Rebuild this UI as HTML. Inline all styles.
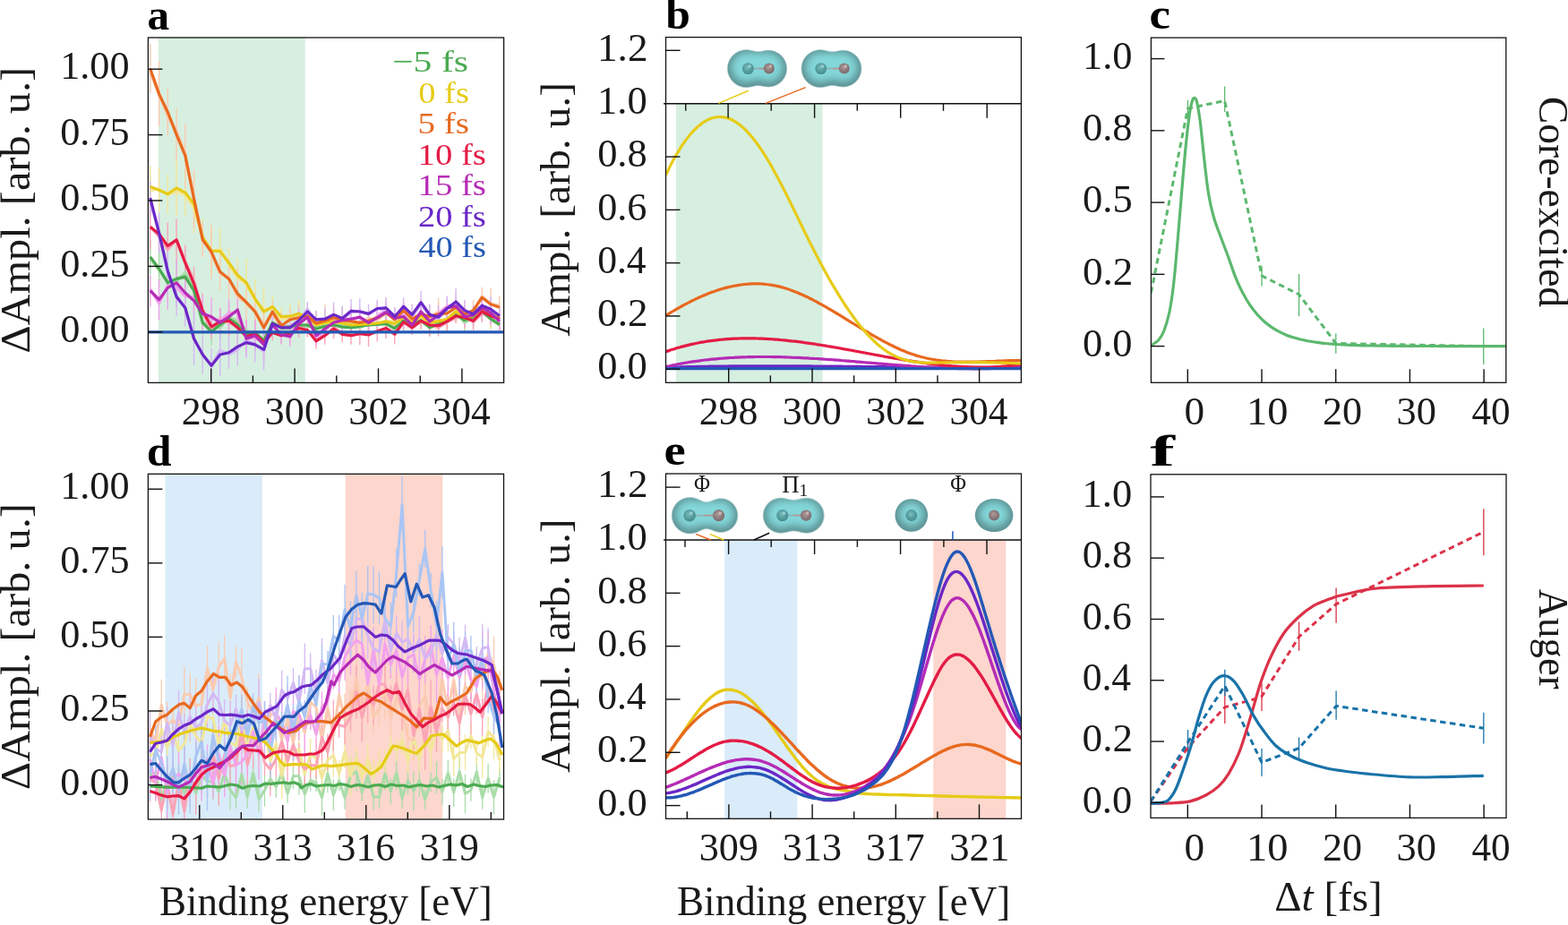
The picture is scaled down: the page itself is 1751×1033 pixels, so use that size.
<!DOCTYPE html><html><head><meta charset="utf-8"><title>Figure</title><style>html,body{margin:0;padding:0;background:#fff;}svg{display:block;}text{font-family:"Liberation Serif", "DejaVu Serif", serif;}</style></head><body>
<svg width="1751" height="1033" viewBox="0 0 1751 1033">
<rect width="100%" height="100%" fill="#fff"/>
<defs>
<clipPath id="ca"><rect x="165.4" y="42.0" width="397.20000000000005" height="385.4"/></clipPath>
<clipPath id="cb"><rect x="743.5" y="41.6" width="396.9000000000001" height="385.7"/></clipPath>
<clipPath id="cc"><rect x="1285.4" y="42.1" width="396.39999999999986" height="385.2"/></clipPath>
<clipPath id="cd"><rect x="165.4" y="529.3" width="397.1" height="385.70000000000005"/></clipPath>
<clipPath id="ce"><rect x="743.5" y="529.0" width="397.0" height="385.29999999999995"/></clipPath>
<clipPath id="cf"><rect x="1285.0" y="529.8" width="397.0" height="383.6"/></clipPath>
<filter id="blur4" x="-30%" y="-30%" width="160%" height="160%"><feGaussianBlur stdDeviation="4"/></filter>
<filter id="blur1" x="-30%" y="-30%" width="160%" height="160%"><feGaussianBlur stdDeviation="0.6"/></filter>
<radialGradient id="atomT" cx="0.45" cy="0.4" r="0.6"><stop offset="0" stop-color="#79bcbc"/><stop offset="0.6" stop-color="#549c9e"/><stop offset="1" stop-color="#478b8d"/></radialGradient>
<radialGradient id="atomB" cx="0.45" cy="0.4" r="0.6"><stop offset="0" stop-color="#b09a9a"/><stop offset="0.6" stop-color="#8c7a7b"/><stop offset="1" stop-color="#7a6b6c"/></radialGradient>
</defs>
<rect x="176.86" y="42.00" width="163.92" height="385.40" fill="#d7efe0"/>
<g clip-path="url(#ca)">
<line x1="167.80" y1="267.92" x2="167.80" y2="305.88" stroke="#a9dca9" stroke-width="1.4" />
<line x1="177.55" y1="280.17" x2="177.55" y2="320.23" stroke="#a9dca9" stroke-width="1.4" />
<line x1="187.30" y1="292.23" x2="187.30" y2="339.37" stroke="#a9dca9" stroke-width="1.4" />
<line x1="197.05" y1="292.29" x2="197.05" y2="330.51" stroke="#a9dca9" stroke-width="1.4" />
<line x1="206.80" y1="289.58" x2="206.80" y2="328.62" stroke="#a9dca9" stroke-width="1.4" />
<line x1="216.55" y1="304.41" x2="216.55" y2="344.99" stroke="#a9dca9" stroke-width="1.4" />
<line x1="226.30" y1="347.30" x2="226.30" y2="373.50" stroke="#a9dca9" stroke-width="1.4" />
<line x1="236.05" y1="354.75" x2="236.05" y2="386.05" stroke="#a9dca9" stroke-width="1.4" />
<line x1="245.80" y1="346.03" x2="245.80" y2="379.17" stroke="#a9dca9" stroke-width="1.4" />
<line x1="255.55" y1="338.07" x2="255.55" y2="373.73" stroke="#a9dca9" stroke-width="1.4" />
<line x1="265.30" y1="350.20" x2="265.30" y2="375.00" stroke="#a9dca9" stroke-width="1.4" />
<line x1="275.05" y1="359.67" x2="275.05" y2="387.73" stroke="#a9dca9" stroke-width="1.4" />
<line x1="284.80" y1="359.13" x2="284.80" y2="383.87" stroke="#a9dca9" stroke-width="1.4" />
<line x1="294.55" y1="362.44" x2="294.55" y2="398.36" stroke="#a9dca9" stroke-width="1.4" />
<line x1="304.30" y1="350.16" x2="304.30" y2="370.64" stroke="#a9dca9" stroke-width="1.4" />
<line x1="314.05" y1="358.70" x2="314.05" y2="373.10" stroke="#a9dca9" stroke-width="1.4" />
<line x1="323.80" y1="353.22" x2="323.80" y2="376.38" stroke="#a9dca9" stroke-width="1.4" />
<line x1="333.55" y1="351.50" x2="333.55" y2="374.50" stroke="#a9dca9" stroke-width="1.4" />
<line x1="343.30" y1="352.95" x2="343.30" y2="373.05" stroke="#a9dca9" stroke-width="1.4" />
<line x1="353.05" y1="357.33" x2="353.05" y2="377.07" stroke="#a9dca9" stroke-width="1.4" />
<line x1="362.80" y1="356.67" x2="362.80" y2="372.13" stroke="#a9dca9" stroke-width="1.4" />
<line x1="372.55" y1="355.93" x2="372.55" y2="370.07" stroke="#a9dca9" stroke-width="1.4" />
<line x1="382.30" y1="355.63" x2="382.30" y2="374.57" stroke="#a9dca9" stroke-width="1.4" />
<line x1="392.05" y1="358.52" x2="392.05" y2="373.08" stroke="#a9dca9" stroke-width="1.4" />
<line x1="401.80" y1="356.51" x2="401.80" y2="372.29" stroke="#a9dca9" stroke-width="1.4" />
<line x1="411.55" y1="354.87" x2="411.55" y2="371.13" stroke="#a9dca9" stroke-width="1.4" />
<line x1="421.30" y1="355.26" x2="421.30" y2="369.54" stroke="#a9dca9" stroke-width="1.4" />
<line x1="431.05" y1="352.53" x2="431.05" y2="370.87" stroke="#a9dca9" stroke-width="1.4" />
<line x1="440.80" y1="357.44" x2="440.80" y2="375.56" stroke="#a9dca9" stroke-width="1.4" />
<line x1="450.55" y1="347.37" x2="450.55" y2="369.23" stroke="#a9dca9" stroke-width="1.4" />
<line x1="460.30" y1="352.98" x2="460.30" y2="371.82" stroke="#a9dca9" stroke-width="1.4" />
<line x1="470.05" y1="347.61" x2="470.05" y2="367.59" stroke="#a9dca9" stroke-width="1.4" />
<line x1="479.80" y1="356.47" x2="479.80" y2="375.13" stroke="#a9dca9" stroke-width="1.4" />
<line x1="489.55" y1="351.61" x2="489.55" y2="371.79" stroke="#a9dca9" stroke-width="1.4" />
<line x1="499.30" y1="348.47" x2="499.30" y2="366.73" stroke="#a9dca9" stroke-width="1.4" />
<line x1="509.05" y1="343.10" x2="509.05" y2="359.70" stroke="#a9dca9" stroke-width="1.4" />
<line x1="518.80" y1="345.94" x2="518.80" y2="369.26" stroke="#a9dca9" stroke-width="1.4" />
<line x1="528.55" y1="342.45" x2="528.55" y2="365.75" stroke="#a9dca9" stroke-width="1.4" />
<line x1="538.30" y1="336.38" x2="538.30" y2="358.22" stroke="#a9dca9" stroke-width="1.4" />
<line x1="548.05" y1="345.90" x2="548.05" y2="366.50" stroke="#a9dca9" stroke-width="1.4" />
<line x1="557.80" y1="353.93" x2="557.80" y2="370.87" stroke="#a9dca9" stroke-width="1.4" />
<line x1="167.80" y1="184.48" x2="167.80" y2="232.52" stroke="#f2e79a" stroke-width="1.4" />
<line x1="177.55" y1="187.35" x2="177.55" y2="237.05" stroke="#f2e79a" stroke-width="1.4" />
<line x1="187.30" y1="194.89" x2="187.30" y2="238.51" stroke="#f2e79a" stroke-width="1.4" />
<line x1="197.05" y1="178.52" x2="197.05" y2="241.48" stroke="#f2e79a" stroke-width="1.4" />
<line x1="206.80" y1="188.71" x2="206.80" y2="241.49" stroke="#f2e79a" stroke-width="1.4" />
<line x1="216.55" y1="195.21" x2="216.55" y2="260.39" stroke="#f2e79a" stroke-width="1.4" />
<line x1="226.30" y1="244.04" x2="226.30" y2="285.96" stroke="#f2e79a" stroke-width="1.4" />
<line x1="236.05" y1="252.89" x2="236.05" y2="307.51" stroke="#f2e79a" stroke-width="1.4" />
<line x1="245.80" y1="254.52" x2="245.80" y2="306.68" stroke="#f2e79a" stroke-width="1.4" />
<line x1="255.55" y1="276.83" x2="255.55" y2="310.17" stroke="#f2e79a" stroke-width="1.4" />
<line x1="265.30" y1="288.30" x2="265.30" y2="326.30" stroke="#f2e79a" stroke-width="1.4" />
<line x1="275.05" y1="289.02" x2="275.05" y2="342.58" stroke="#f2e79a" stroke-width="1.4" />
<line x1="284.80" y1="311.71" x2="284.80" y2="355.49" stroke="#f2e79a" stroke-width="1.4" />
<line x1="294.55" y1="320.54" x2="294.55" y2="375.66" stroke="#f2e79a" stroke-width="1.4" />
<line x1="304.30" y1="329.85" x2="304.30" y2="355.15" stroke="#f2e79a" stroke-width="1.4" />
<line x1="314.05" y1="343.21" x2="314.05" y2="364.19" stroke="#f2e79a" stroke-width="1.4" />
<line x1="323.80" y1="339.00" x2="323.80" y2="367.40" stroke="#f2e79a" stroke-width="1.4" />
<line x1="333.55" y1="335.11" x2="333.55" y2="365.49" stroke="#f2e79a" stroke-width="1.4" />
<line x1="343.30" y1="343.00" x2="343.30" y2="366.60" stroke="#f2e79a" stroke-width="1.4" />
<line x1="353.05" y1="352.42" x2="353.05" y2="373.58" stroke="#f2e79a" stroke-width="1.4" />
<line x1="362.80" y1="348.08" x2="362.80" y2="372.52" stroke="#f2e79a" stroke-width="1.4" />
<line x1="372.55" y1="342.47" x2="372.55" y2="375.33" stroke="#f2e79a" stroke-width="1.4" />
<line x1="382.30" y1="345.95" x2="382.30" y2="376.05" stroke="#f2e79a" stroke-width="1.4" />
<line x1="392.05" y1="352.21" x2="392.05" y2="373.79" stroke="#f2e79a" stroke-width="1.4" />
<line x1="401.80" y1="350.76" x2="401.80" y2="374.04" stroke="#f2e79a" stroke-width="1.4" />
<line x1="411.55" y1="351.03" x2="411.55" y2="372.37" stroke="#f2e79a" stroke-width="1.4" />
<line x1="421.30" y1="350.60" x2="421.30" y2="371.40" stroke="#f2e79a" stroke-width="1.4" />
<line x1="431.05" y1="343.59" x2="431.05" y2="374.21" stroke="#f2e79a" stroke-width="1.4" />
<line x1="440.80" y1="350.52" x2="440.80" y2="372.88" stroke="#f2e79a" stroke-width="1.4" />
<line x1="450.55" y1="340.37" x2="450.55" y2="367.83" stroke="#f2e79a" stroke-width="1.4" />
<line x1="460.30" y1="347.32" x2="460.30" y2="373.28" stroke="#f2e79a" stroke-width="1.4" />
<line x1="470.05" y1="341.53" x2="470.05" y2="364.07" stroke="#f2e79a" stroke-width="1.4" />
<line x1="479.80" y1="345.42" x2="479.80" y2="375.18" stroke="#f2e79a" stroke-width="1.4" />
<line x1="489.55" y1="348.03" x2="489.55" y2="369.77" stroke="#f2e79a" stroke-width="1.4" />
<line x1="499.30" y1="341.91" x2="499.30" y2="370.49" stroke="#f2e79a" stroke-width="1.4" />
<line x1="509.05" y1="337.22" x2="509.05" y2="358.78" stroke="#f2e79a" stroke-width="1.4" />
<line x1="518.80" y1="341.99" x2="518.80" y2="367.61" stroke="#f2e79a" stroke-width="1.4" />
<line x1="528.55" y1="341.38" x2="528.55" y2="364.22" stroke="#f2e79a" stroke-width="1.4" />
<line x1="538.30" y1="333.40" x2="538.30" y2="357.00" stroke="#f2e79a" stroke-width="1.4" />
<line x1="548.05" y1="334.93" x2="548.05" y2="367.87" stroke="#f2e79a" stroke-width="1.4" />
<line x1="557.80" y1="339.44" x2="557.80" y2="370.16" stroke="#f2e79a" stroke-width="1.4" />
<line x1="167.80" y1="49.24" x2="167.80" y2="104.36" stroke="#fbcbb0" stroke-width="1.4" />
<line x1="177.55" y1="68.46" x2="177.55" y2="141.34" stroke="#fbcbb0" stroke-width="1.4" />
<line x1="187.30" y1="99.06" x2="187.30" y2="151.34" stroke="#fbcbb0" stroke-width="1.4" />
<line x1="197.05" y1="121.46" x2="197.05" y2="179.34" stroke="#fbcbb0" stroke-width="1.4" />
<line x1="206.80" y1="137.63" x2="206.80" y2="209.57" stroke="#fbcbb0" stroke-width="1.4" />
<line x1="216.55" y1="189.28" x2="216.55" y2="254.72" stroke="#fbcbb0" stroke-width="1.4" />
<line x1="226.30" y1="248.34" x2="226.30" y2="287.46" stroke="#fbcbb0" stroke-width="1.4" />
<line x1="236.05" y1="250.88" x2="236.05" y2="311.72" stroke="#fbcbb0" stroke-width="1.4" />
<line x1="245.80" y1="282.66" x2="245.80" y2="324.54" stroke="#fbcbb0" stroke-width="1.4" />
<line x1="255.55" y1="289.91" x2="255.55" y2="332.89" stroke="#fbcbb0" stroke-width="1.4" />
<line x1="265.30" y1="300.22" x2="265.30" y2="355.78" stroke="#fbcbb0" stroke-width="1.4" />
<line x1="275.05" y1="315.25" x2="275.05" y2="359.95" stroke="#fbcbb0" stroke-width="1.4" />
<line x1="284.80" y1="326.14" x2="284.80" y2="370.06" stroke="#fbcbb0" stroke-width="1.4" />
<line x1="294.55" y1="346.67" x2="294.55" y2="385.13" stroke="#fbcbb0" stroke-width="1.4" />
<line x1="304.30" y1="336.44" x2="304.30" y2="359.76" stroke="#fbcbb0" stroke-width="1.4" />
<line x1="314.05" y1="348.43" x2="314.05" y2="378.97" stroke="#fbcbb0" stroke-width="1.4" />
<line x1="323.80" y1="344.22" x2="323.80" y2="369.78" stroke="#fbcbb0" stroke-width="1.4" />
<line x1="333.55" y1="339.39" x2="333.55" y2="370.21" stroke="#fbcbb0" stroke-width="1.4" />
<line x1="343.30" y1="339.07" x2="343.30" y2="366.53" stroke="#fbcbb0" stroke-width="1.4" />
<line x1="353.05" y1="346.68" x2="353.05" y2="375.32" stroke="#fbcbb0" stroke-width="1.4" />
<line x1="362.80" y1="340.27" x2="362.80" y2="376.33" stroke="#fbcbb0" stroke-width="1.4" />
<line x1="372.55" y1="340.25" x2="372.55" y2="369.35" stroke="#fbcbb0" stroke-width="1.4" />
<line x1="382.30" y1="342.39" x2="382.30" y2="372.81" stroke="#fbcbb0" stroke-width="1.4" />
<line x1="392.05" y1="341.55" x2="392.05" y2="376.25" stroke="#fbcbb0" stroke-width="1.4" />
<line x1="401.80" y1="347.96" x2="401.80" y2="372.64" stroke="#fbcbb0" stroke-width="1.4" />
<line x1="411.55" y1="346.17" x2="411.55" y2="370.43" stroke="#fbcbb0" stroke-width="1.4" />
<line x1="421.30" y1="337.14" x2="421.30" y2="372.46" stroke="#fbcbb0" stroke-width="1.4" />
<line x1="431.05" y1="332.30" x2="431.05" y2="366.30" stroke="#fbcbb0" stroke-width="1.4" />
<line x1="440.80" y1="344.07" x2="440.80" y2="369.73" stroke="#fbcbb0" stroke-width="1.4" />
<line x1="450.55" y1="334.21" x2="450.55" y2="358.99" stroke="#fbcbb0" stroke-width="1.4" />
<line x1="460.30" y1="339.78" x2="460.30" y2="372.62" stroke="#fbcbb0" stroke-width="1.4" />
<line x1="470.05" y1="332.80" x2="470.05" y2="368.60" stroke="#fbcbb0" stroke-width="1.4" />
<line x1="479.80" y1="341.06" x2="479.80" y2="365.94" stroke="#fbcbb0" stroke-width="1.4" />
<line x1="489.55" y1="332.73" x2="489.55" y2="368.67" stroke="#fbcbb0" stroke-width="1.4" />
<line x1="499.30" y1="332.53" x2="499.30" y2="367.47" stroke="#fbcbb0" stroke-width="1.4" />
<line x1="509.05" y1="327.77" x2="509.05" y2="358.63" stroke="#fbcbb0" stroke-width="1.4" />
<line x1="518.80" y1="336.61" x2="518.80" y2="364.79" stroke="#fbcbb0" stroke-width="1.4" />
<line x1="528.55" y1="334.84" x2="528.55" y2="358.36" stroke="#fbcbb0" stroke-width="1.4" />
<line x1="538.30" y1="320.92" x2="538.30" y2="343.48" stroke="#fbcbb0" stroke-width="1.4" />
<line x1="548.05" y1="321.64" x2="548.05" y2="357.76" stroke="#fbcbb0" stroke-width="1.4" />
<line x1="557.80" y1="330.45" x2="557.80" y2="355.95" stroke="#fbcbb0" stroke-width="1.4" />
<line x1="167.80" y1="229.00" x2="167.80" y2="278.00" stroke="#fba4b6" stroke-width="1.4" />
<line x1="177.55" y1="241.68" x2="177.55" y2="280.72" stroke="#fba4b6" stroke-width="1.4" />
<line x1="187.30" y1="248.78" x2="187.30" y2="300.42" stroke="#fba4b6" stroke-width="1.4" />
<line x1="197.05" y1="244.61" x2="197.05" y2="291.19" stroke="#fba4b6" stroke-width="1.4" />
<line x1="206.80" y1="273.57" x2="206.80" y2="313.43" stroke="#fba4b6" stroke-width="1.4" />
<line x1="216.55" y1="298.28" x2="216.55" y2="335.52" stroke="#fba4b6" stroke-width="1.4" />
<line x1="226.30" y1="327.26" x2="226.30" y2="366.74" stroke="#fba4b6" stroke-width="1.4" />
<line x1="236.05" y1="350.86" x2="236.05" y2="378.74" stroke="#fba4b6" stroke-width="1.4" />
<line x1="245.80" y1="343.84" x2="245.80" y2="374.56" stroke="#fba4b6" stroke-width="1.4" />
<line x1="255.55" y1="339.79" x2="255.55" y2="376.41" stroke="#fba4b6" stroke-width="1.4" />
<line x1="265.30" y1="344.99" x2="265.30" y2="386.81" stroke="#fba4b6" stroke-width="1.4" />
<line x1="275.05" y1="357.21" x2="275.05" y2="394.79" stroke="#fba4b6" stroke-width="1.4" />
<line x1="284.80" y1="356.78" x2="284.80" y2="388.42" stroke="#fba4b6" stroke-width="1.4" />
<line x1="294.55" y1="361.11" x2="294.55" y2="404.09" stroke="#fba4b6" stroke-width="1.4" />
<line x1="304.30" y1="362.41" x2="304.30" y2="380.59" stroke="#fba4b6" stroke-width="1.4" />
<line x1="314.05" y1="366.71" x2="314.05" y2="382.89" stroke="#fba4b6" stroke-width="1.4" />
<line x1="323.80" y1="363.16" x2="323.80" y2="382.04" stroke="#fba4b6" stroke-width="1.4" />
<line x1="333.55" y1="356.12" x2="333.55" y2="376.88" stroke="#fba4b6" stroke-width="1.4" />
<line x1="343.30" y1="360.18" x2="343.30" y2="376.82" stroke="#fba4b6" stroke-width="1.4" />
<line x1="353.05" y1="371.96" x2="353.05" y2="389.84" stroke="#fba4b6" stroke-width="1.4" />
<line x1="362.80" y1="364.73" x2="362.80" y2="384.67" stroke="#fba4b6" stroke-width="1.4" />
<line x1="372.55" y1="356.15" x2="372.55" y2="378.25" stroke="#fba4b6" stroke-width="1.4" />
<line x1="382.30" y1="364.60" x2="382.30" y2="382.00" stroke="#fba4b6" stroke-width="1.4" />
<line x1="392.05" y1="364.77" x2="392.05" y2="384.63" stroke="#fba4b6" stroke-width="1.4" />
<line x1="401.80" y1="359.85" x2="401.80" y2="385.35" stroke="#fba4b6" stroke-width="1.4" />
<line x1="411.55" y1="360.77" x2="411.55" y2="387.23" stroke="#fba4b6" stroke-width="1.4" />
<line x1="421.30" y1="358.40" x2="421.30" y2="381.40" stroke="#fba4b6" stroke-width="1.4" />
<line x1="431.05" y1="354.81" x2="431.05" y2="378.19" stroke="#fba4b6" stroke-width="1.4" />
<line x1="440.80" y1="362.18" x2="440.80" y2="384.42" stroke="#fba4b6" stroke-width="1.4" />
<line x1="450.55" y1="350.85" x2="450.55" y2="368.35" stroke="#fba4b6" stroke-width="1.4" />
<line x1="460.30" y1="357.61" x2="460.30" y2="373.99" stroke="#fba4b6" stroke-width="1.4" />
<line x1="470.05" y1="350.20" x2="470.05" y2="366.40" stroke="#fba4b6" stroke-width="1.4" />
<line x1="479.80" y1="350.15" x2="479.80" y2="375.85" stroke="#fba4b6" stroke-width="1.4" />
<line x1="489.55" y1="351.96" x2="489.55" y2="375.44" stroke="#fba4b6" stroke-width="1.4" />
<line x1="499.30" y1="345.77" x2="499.30" y2="372.03" stroke="#fba4b6" stroke-width="1.4" />
<line x1="509.05" y1="344.69" x2="509.05" y2="360.91" stroke="#fba4b6" stroke-width="1.4" />
<line x1="518.80" y1="343.41" x2="518.80" y2="366.19" stroke="#fba4b6" stroke-width="1.4" />
<line x1="528.55" y1="347.73" x2="528.55" y2="368.87" stroke="#fba4b6" stroke-width="1.4" />
<line x1="538.30" y1="336.10" x2="538.30" y2="359.90" stroke="#fba4b6" stroke-width="1.4" />
<line x1="548.05" y1="343.10" x2="548.05" y2="362.50" stroke="#fba4b6" stroke-width="1.4" />
<line x1="557.80" y1="342.87" x2="557.80" y2="369.53" stroke="#fba4b6" stroke-width="1.4" />
<line x1="167.80" y1="307.20" x2="167.80" y2="342.20" stroke="#f2a2ec" stroke-width="1.4" />
<line x1="177.55" y1="311.97" x2="177.55" y2="357.43" stroke="#f2a2ec" stroke-width="1.4" />
<line x1="187.30" y1="296.54" x2="187.30" y2="346.26" stroke="#f2a2ec" stroke-width="1.4" />
<line x1="197.05" y1="289.13" x2="197.05" y2="342.47" stroke="#f2a2ec" stroke-width="1.4" />
<line x1="206.80" y1="302.14" x2="206.80" y2="351.86" stroke="#f2a2ec" stroke-width="1.4" />
<line x1="216.55" y1="311.41" x2="216.55" y2="360.39" stroke="#f2a2ec" stroke-width="1.4" />
<line x1="226.30" y1="329.92" x2="226.30" y2="370.68" stroke="#f2a2ec" stroke-width="1.4" />
<line x1="236.05" y1="332.23" x2="236.05" y2="375.17" stroke="#f2a2ec" stroke-width="1.4" />
<line x1="245.80" y1="343.94" x2="245.80" y2="376.86" stroke="#f2a2ec" stroke-width="1.4" />
<line x1="255.55" y1="334.28" x2="255.55" y2="373.12" stroke="#f2a2ec" stroke-width="1.4" />
<line x1="265.30" y1="324.56" x2="265.30" y2="367.24" stroke="#f2a2ec" stroke-width="1.4" />
<line x1="275.05" y1="357.12" x2="275.05" y2="399.28" stroke="#f2a2ec" stroke-width="1.4" />
<line x1="284.80" y1="357.76" x2="284.80" y2="391.84" stroke="#f2a2ec" stroke-width="1.4" />
<line x1="294.55" y1="364.54" x2="294.55" y2="405.26" stroke="#f2a2ec" stroke-width="1.4" />
<line x1="304.30" y1="349.99" x2="304.30" y2="375.21" stroke="#f2a2ec" stroke-width="1.4" />
<line x1="314.05" y1="362.65" x2="314.05" y2="384.75" stroke="#f2a2ec" stroke-width="1.4" />
<line x1="323.80" y1="364.67" x2="323.80" y2="387.33" stroke="#f2a2ec" stroke-width="1.4" />
<line x1="333.55" y1="351.96" x2="333.55" y2="372.04" stroke="#f2a2ec" stroke-width="1.4" />
<line x1="343.30" y1="342.99" x2="343.30" y2="365.21" stroke="#f2a2ec" stroke-width="1.4" />
<line x1="353.05" y1="363.45" x2="353.05" y2="385.95" stroke="#f2a2ec" stroke-width="1.4" />
<line x1="362.80" y1="358.77" x2="362.80" y2="375.63" stroke="#f2a2ec" stroke-width="1.4" />
<line x1="372.55" y1="348.89" x2="372.55" y2="371.71" stroke="#f2a2ec" stroke-width="1.4" />
<line x1="382.30" y1="344.30" x2="382.30" y2="370.90" stroke="#f2a2ec" stroke-width="1.4" />
<line x1="392.05" y1="343.51" x2="392.05" y2="368.89" stroke="#f2a2ec" stroke-width="1.4" />
<line x1="401.80" y1="342.22" x2="401.80" y2="365.98" stroke="#f2a2ec" stroke-width="1.4" />
<line x1="411.55" y1="350.23" x2="411.55" y2="370.37" stroke="#f2a2ec" stroke-width="1.4" />
<line x1="421.30" y1="342.88" x2="421.30" y2="366.72" stroke="#f2a2ec" stroke-width="1.4" />
<line x1="431.05" y1="337.60" x2="431.05" y2="359.80" stroke="#f2a2ec" stroke-width="1.4" />
<line x1="440.80" y1="345.15" x2="440.80" y2="365.85" stroke="#f2a2ec" stroke-width="1.4" />
<line x1="450.55" y1="341.03" x2="450.55" y2="365.97" stroke="#f2a2ec" stroke-width="1.4" />
<line x1="460.30" y1="354.55" x2="460.30" y2="371.45" stroke="#f2a2ec" stroke-width="1.4" />
<line x1="470.05" y1="336.00" x2="470.05" y2="360.00" stroke="#f2a2ec" stroke-width="1.4" />
<line x1="479.80" y1="350.74" x2="479.80" y2="367.06" stroke="#f2a2ec" stroke-width="1.4" />
<line x1="489.55" y1="340.89" x2="489.55" y2="363.31" stroke="#f2a2ec" stroke-width="1.4" />
<line x1="499.30" y1="333.33" x2="499.30" y2="354.47" stroke="#f2a2ec" stroke-width="1.4" />
<line x1="509.05" y1="332.57" x2="509.05" y2="351.03" stroke="#f2a2ec" stroke-width="1.4" />
<line x1="518.80" y1="341.78" x2="518.80" y2="365.22" stroke="#f2a2ec" stroke-width="1.4" />
<line x1="528.55" y1="341.45" x2="528.55" y2="362.75" stroke="#f2a2ec" stroke-width="1.4" />
<line x1="538.30" y1="332.62" x2="538.30" y2="355.18" stroke="#f2a2ec" stroke-width="1.4" />
<line x1="548.05" y1="336.39" x2="548.05" y2="362.21" stroke="#f2a2ec" stroke-width="1.4" />
<line x1="557.80" y1="349.54" x2="557.80" y2="368.26" stroke="#f2a2ec" stroke-width="1.4" />
<line x1="167.80" y1="202.31" x2="167.80" y2="240.09" stroke="#d4b9f4" stroke-width="1.4" />
<line x1="177.55" y1="237.59" x2="177.55" y2="282.61" stroke="#d4b9f4" stroke-width="1.4" />
<line x1="187.30" y1="275.17" x2="187.30" y2="329.63" stroke="#d4b9f4" stroke-width="1.4" />
<line x1="197.05" y1="310.12" x2="197.05" y2="352.68" stroke="#d4b9f4" stroke-width="1.4" />
<line x1="206.80" y1="322.83" x2="206.80" y2="364.57" stroke="#d4b9f4" stroke-width="1.4" />
<line x1="216.55" y1="348.13" x2="216.55" y2="408.27" stroke="#d4b9f4" stroke-width="1.4" />
<line x1="226.30" y1="374.40" x2="226.30" y2="417.60" stroke="#d4b9f4" stroke-width="1.4" />
<line x1="236.05" y1="388.78" x2="236.05" y2="427.62" stroke="#d4b9f4" stroke-width="1.4" />
<line x1="245.80" y1="372.08" x2="245.80" y2="419.92" stroke="#d4b9f4" stroke-width="1.4" />
<line x1="255.55" y1="375.53" x2="255.55" y2="412.07" stroke="#d4b9f4" stroke-width="1.4" />
<line x1="265.30" y1="365.44" x2="265.30" y2="408.76" stroke="#d4b9f4" stroke-width="1.4" />
<line x1="275.05" y1="365.61" x2="275.05" y2="399.59" stroke="#d4b9f4" stroke-width="1.4" />
<line x1="284.80" y1="365.59" x2="284.80" y2="404.21" stroke="#d4b9f4" stroke-width="1.4" />
<line x1="294.55" y1="367.34" x2="294.55" y2="413.46" stroke="#d4b9f4" stroke-width="1.4" />
<line x1="304.30" y1="347.01" x2="304.30" y2="375.99" stroke="#d4b9f4" stroke-width="1.4" />
<line x1="314.05" y1="351.62" x2="314.05" y2="380.18" stroke="#d4b9f4" stroke-width="1.4" />
<line x1="323.80" y1="354.59" x2="323.80" y2="377.21" stroke="#d4b9f4" stroke-width="1.4" />
<line x1="333.55" y1="345.50" x2="333.55" y2="370.50" stroke="#d4b9f4" stroke-width="1.4" />
<line x1="343.30" y1="337.10" x2="343.30" y2="358.90" stroke="#d4b9f4" stroke-width="1.4" />
<line x1="353.05" y1="347.08" x2="353.05" y2="366.72" stroke="#d4b9f4" stroke-width="1.4" />
<line x1="362.80" y1="344.22" x2="362.80" y2="368.18" stroke="#d4b9f4" stroke-width="1.4" />
<line x1="372.55" y1="337.38" x2="372.55" y2="365.42" stroke="#d4b9f4" stroke-width="1.4" />
<line x1="382.30" y1="341.41" x2="382.30" y2="369.59" stroke="#d4b9f4" stroke-width="1.4" />
<line x1="392.05" y1="334.03" x2="392.05" y2="360.57" stroke="#d4b9f4" stroke-width="1.4" />
<line x1="401.80" y1="333.30" x2="401.80" y2="362.70" stroke="#d4b9f4" stroke-width="1.4" />
<line x1="411.55" y1="339.74" x2="411.55" y2="361.06" stroke="#d4b9f4" stroke-width="1.4" />
<line x1="421.30" y1="334.49" x2="421.30" y2="354.51" stroke="#d4b9f4" stroke-width="1.4" />
<line x1="431.05" y1="332.20" x2="431.05" y2="355.60" stroke="#d4b9f4" stroke-width="1.4" />
<line x1="440.80" y1="342.85" x2="440.80" y2="364.15" stroke="#d4b9f4" stroke-width="1.4" />
<line x1="450.55" y1="332.22" x2="450.55" y2="352.78" stroke="#d4b9f4" stroke-width="1.4" />
<line x1="460.30" y1="339.92" x2="460.30" y2="362.88" stroke="#d4b9f4" stroke-width="1.4" />
<line x1="470.05" y1="324.95" x2="470.05" y2="350.45" stroke="#d4b9f4" stroke-width="1.4" />
<line x1="479.80" y1="339.44" x2="479.80" y2="363.36" stroke="#d4b9f4" stroke-width="1.4" />
<line x1="489.55" y1="343.21" x2="489.55" y2="364.99" stroke="#d4b9f4" stroke-width="1.4" />
<line x1="499.30" y1="330.47" x2="499.30" y2="358.53" stroke="#d4b9f4" stroke-width="1.4" />
<line x1="509.05" y1="322.11" x2="509.05" y2="351.89" stroke="#d4b9f4" stroke-width="1.4" />
<line x1="518.80" y1="334.89" x2="518.80" y2="358.31" stroke="#d4b9f4" stroke-width="1.4" />
<line x1="528.55" y1="341.25" x2="528.55" y2="360.15" stroke="#d4b9f4" stroke-width="1.4" />
<line x1="538.30" y1="331.91" x2="538.30" y2="350.29" stroke="#d4b9f4" stroke-width="1.4" />
<line x1="548.05" y1="330.96" x2="548.05" y2="359.44" stroke="#d4b9f4" stroke-width="1.4" />
<line x1="557.80" y1="343.55" x2="557.80" y2="362.05" stroke="#d4b9f4" stroke-width="1.4" />
<polyline points="167.8,289.0 177.6,300.9 187.3,313.9 197.1,314.3 206.8,304.3 216.6,321.1 226.3,359.9 236.1,365.6 245.8,365.9 255.6,353.3 265.3,359.0 275.1,369.2 284.8,372.8 294.6,379.9 304.3,361.2 314.1,366.8 323.8,366.6 333.6,365.8 343.3,364.1 353.1,365.4 362.8,364.3 372.6,361.1 382.3,362.2 392.1,365.6 401.8,365.7 411.6,361.1 421.3,361.0 431.1,360.8 440.8,367.7 450.6,358.4 460.3,363.1 470.1,359.1 479.8,365.2 489.6,363.5 499.3,360.0 509.1,348.9 518.8,360.2 528.5,355.4 538.3,345.1 548.0,355.9 557.8,363.2" fill="none" stroke="#a9dca9" stroke-width="3.2" stroke-linejoin="round" stroke-linecap="butt" />
<polyline points="167.8,212.6 177.6,211.0 187.3,217.4 197.1,213.8 206.8,218.1 216.6,232.2 226.3,264.6 236.1,281.7 245.8,277.6 255.6,295.7 265.3,310.5 275.1,317.2 284.8,335.8 294.6,345.2 304.3,344.9 314.1,356.6 323.8,356.1 333.6,350.5 343.3,356.5 353.1,361.9 362.8,362.8 372.6,361.0 382.3,360.1 392.1,360.5 401.8,362.0 411.6,362.0 421.3,362.6 431.1,358.8 440.8,358.9 450.6,356.0 460.3,357.7 470.1,354.6 479.8,358.3 489.6,357.9 499.3,357.9 509.1,345.8 518.8,352.7 528.5,352.9 538.3,346.5 548.0,353.4 557.8,355.9" fill="none" stroke="#f2e79a" stroke-width="3.2" stroke-linejoin="round" stroke-linecap="butt" />
<polyline points="167.8,81.3 177.6,104.8 187.3,129.7 197.1,146.3 206.8,170.8 216.6,222.3 226.3,265.8 236.1,283.6 245.8,305.0 255.6,311.6 265.3,331.4 275.1,338.2 284.8,346.2 294.6,364.7 304.3,350.2 314.1,366.1 323.8,355.2 333.6,356.9 343.3,355.6 353.1,361.1 362.8,358.7 372.6,353.0 382.3,357.8 392.1,358.9 401.8,360.9 411.6,355.5 421.3,357.6 431.1,349.4 440.8,356.3 450.6,348.4 460.3,356.6 470.1,350.6 479.8,354.6 489.6,348.1 499.3,350.2 509.1,342.7 518.8,353.4 528.5,349.1 538.3,330.8 548.0,339.5 557.8,341.0" fill="none" stroke="#fbcbb0" stroke-width="3.2" stroke-linejoin="round" stroke-linecap="butt" />
<polyline points="167.8,252.8 177.6,264.4 187.3,278.6 197.1,267.7 206.8,291.7 216.6,313.8 226.3,348.2 236.1,369.1 245.8,355.5 255.6,360.9 265.3,361.1 275.1,372.9 284.8,369.9 294.6,384.5 304.3,370.4 314.1,373.9 323.8,373.3 333.6,364.1 343.3,369.9 353.1,378.6 362.8,374.8 372.6,365.7 382.3,371.5 392.1,374.9 401.8,372.2 411.6,373.3 421.3,369.4 431.1,366.7 440.8,371.3 450.6,357.8 460.3,366.6 470.1,359.1 479.8,363.2 489.6,365.8 499.3,359.6 509.1,354.9 518.8,353.2 528.5,359.7 538.3,349.9 548.0,355.2 557.8,355.1" fill="none" stroke="#fba4b6" stroke-width="3.2" stroke-linejoin="round" stroke-linecap="butt" />
<polyline points="167.8,322.8 177.6,338.9 187.3,318.6 197.1,320.8 206.8,330.9 216.6,332.2 226.3,347.7 236.1,356.0 245.8,358.0 255.6,349.7 265.3,349.2 275.1,377.4 284.8,377.7 294.6,381.2 304.3,362.0 314.1,374.8 323.8,373.1 333.6,360.2 343.3,355.2 353.1,377.2 362.8,370.0 372.6,358.0 382.3,357.6 392.1,357.7 401.8,354.1 411.6,361.4 421.3,352.9 431.1,346.1 440.8,353.1 450.6,350.7 460.3,363.3 470.1,348.1 479.8,359.3 489.6,350.0 499.3,342.0 509.1,340.0 518.8,355.5 528.5,355.0 538.3,346.5 548.0,346.9 557.8,356.3" fill="none" stroke="#f2a2ec" stroke-width="3.2" stroke-linejoin="round" stroke-linecap="butt" />
<polyline points="167.8,225.7 177.6,259.7 187.3,305.0 197.1,329.7 206.8,343.4 216.6,378.4 226.3,395.3 236.1,409.2 245.8,391.1 255.6,395.8 265.3,390.5 275.1,379.4 284.8,384.4 294.6,392.8 304.3,360.9 314.1,364.1 323.8,363.9 333.6,358.1 343.3,345.1 353.1,359.3 362.8,358.0 372.6,352.6 382.3,357.7 392.1,348.1 401.8,347.4 411.6,351.0 421.3,344.5 431.1,346.8 440.8,355.3 450.6,341.0 460.3,353.9 470.1,339.2 479.8,353.1 489.6,356.0 499.3,343.9 509.1,339.4 518.8,348.9 528.5,351.9 538.3,342.7 548.0,346.8 557.8,352.2" fill="none" stroke="#d4b9f4" stroke-width="3.2" stroke-linejoin="round" stroke-linecap="butt" />
<polyline points="167.8,286.9 177.6,300.2 187.3,315.8 197.1,311.4 206.8,309.1 216.6,324.7 226.3,360.4 236.1,370.4 245.8,362.6 255.6,355.9 265.3,362.6 275.1,373.7 284.8,371.5 294.6,380.4 304.3,360.4 314.1,365.9 323.8,364.8 333.6,363.0 343.3,363.0 353.1,367.2 362.8,364.4 372.6,363.0 382.3,365.1 392.1,365.8 401.8,364.4 411.6,363.0 421.3,362.4 431.1,361.7 440.8,366.5 450.6,358.3 460.3,362.4 470.1,357.6 479.8,365.8 489.6,361.7 499.3,357.6 509.1,351.4 518.8,357.6 528.5,354.1 538.3,347.3 548.0,356.2 557.8,362.4" fill="none" stroke="#4aaa50" stroke-width="3.2" stroke-linejoin="round" stroke-linecap="butt" />
<polyline points="167.8,208.5 177.6,212.2 187.3,216.7 197.1,210.0 206.8,215.1 216.6,227.8 226.3,265.0 236.1,280.2 245.8,280.6 255.6,293.5 265.3,307.3 275.1,315.8 284.8,333.6 294.6,348.1 304.3,342.5 314.1,353.7 323.8,353.2 333.6,350.3 343.3,354.8 353.1,363.0 362.8,360.3 372.6,358.9 382.3,361.0 392.1,363.0 401.8,362.4 411.6,361.7 421.3,361.0 431.1,358.9 440.8,361.7 450.6,354.1 460.3,360.3 470.1,352.8 479.8,360.3 489.6,358.9 499.3,356.2 509.1,348.0 518.8,354.8 528.5,352.8 538.3,345.2 548.0,351.4 557.8,354.8" fill="none" stroke="#e6cb17" stroke-width="3.2" stroke-linejoin="round" stroke-linecap="butt" />
<polyline points="167.8,76.8 177.6,104.9 187.3,125.2 197.1,150.4 206.8,173.6 216.6,222.0 226.3,267.9 236.1,281.3 245.8,303.6 255.6,311.4 265.3,328.0 275.1,337.6 284.8,348.1 294.6,365.9 304.3,348.1 314.1,363.7 323.8,357.0 333.6,354.8 343.3,352.8 353.1,361.0 362.8,358.3 372.6,354.8 382.3,357.6 392.1,358.9 401.8,360.3 411.6,358.3 421.3,354.8 431.1,349.3 440.8,356.9 450.6,346.6 460.3,356.2 470.1,350.7 479.8,353.5 489.6,350.7 499.3,350.0 509.1,343.2 518.8,350.7 528.5,346.6 538.3,332.2 548.0,339.7 557.8,343.2" fill="none" stroke="#e8691f" stroke-width="3.2" stroke-linejoin="round" stroke-linecap="butt" />
<polyline points="167.8,253.5 177.6,261.2 187.3,274.6 197.1,267.9 206.8,293.5 216.6,316.9 226.3,347.0 236.1,364.8 245.8,359.2 255.6,358.1 265.3,365.9 275.1,376.0 284.8,372.6 294.6,382.6 304.3,371.5 314.1,374.8 323.8,372.6 333.6,366.5 343.3,368.5 353.1,380.9 362.8,374.7 372.6,367.2 382.3,373.3 392.1,374.7 401.8,372.6 411.6,374.0 421.3,369.9 431.1,366.5 440.8,373.3 450.6,359.6 460.3,365.8 470.1,358.3 479.8,363.0 489.6,363.7 499.3,358.9 509.1,352.8 518.8,354.8 528.5,358.3 538.3,348.0 548.0,352.8 557.8,356.2" fill="none" stroke="#e41b45" stroke-width="3.2" stroke-linejoin="round" stroke-linecap="butt" />
<polyline points="167.8,324.7 177.6,334.7 187.3,321.4 197.1,315.8 206.8,327.0 216.6,335.9 226.3,350.3 236.1,353.7 245.8,360.4 255.6,353.7 265.3,345.9 275.1,378.2 284.8,374.8 294.6,384.9 304.3,362.6 314.1,373.7 323.8,376.0 333.6,362.0 343.3,354.1 353.1,374.7 362.8,367.2 372.6,360.3 382.3,357.6 392.1,356.2 401.8,354.1 411.6,360.3 421.3,354.8 431.1,348.7 440.8,355.5 450.6,353.5 460.3,363.0 470.1,348.0 479.8,358.9 489.6,352.1 499.3,343.9 509.1,341.8 518.8,353.5 528.5,352.1 538.3,343.9 548.0,349.3 557.8,358.9" fill="none" stroke="#b52bb5" stroke-width="3.2" stroke-linejoin="round" stroke-linecap="butt" />
<polyline points="167.8,221.2 177.6,260.1 187.3,302.4 197.1,331.4 206.8,343.7 216.6,378.2 226.3,396.0 236.1,408.2 245.8,396.0 255.6,393.8 265.3,387.1 275.1,382.6 284.8,384.9 294.6,390.4 304.3,361.5 314.1,365.9 323.8,365.9 333.6,358.0 343.3,348.0 353.1,356.9 362.8,356.2 372.6,351.4 382.3,355.5 392.1,347.3 401.8,348.0 411.6,350.4 421.3,344.5 431.1,343.9 440.8,353.5 450.6,342.5 460.3,351.4 470.1,337.7 479.8,351.4 489.6,354.1 499.3,344.5 509.1,337.0 518.8,346.6 528.5,350.7 538.3,341.1 548.0,345.2 557.8,352.8" fill="none" stroke="#6a27c7" stroke-width="3.2" stroke-linejoin="round" stroke-linecap="butt" />
<line x1="165.40" y1="370.80" x2="562.60" y2="370.80" stroke="#2358b5" stroke-width="3.2" />
</g>
<rect x="165.40" y="42.00" width="397.20" height="385.40" fill="none" stroke="#111" stroke-width="1.3"/>
<line x1="165.40" y1="370.80" x2="181.40" y2="370.80" stroke="#111" stroke-width="1.4" />
<line x1="165.40" y1="297.40" x2="181.40" y2="297.40" stroke="#111" stroke-width="1.4" />
<line x1="165.40" y1="224.00" x2="181.40" y2="224.00" stroke="#111" stroke-width="1.4" />
<line x1="165.40" y1="150.60" x2="181.40" y2="150.60" stroke="#111" stroke-width="1.4" />
<line x1="165.40" y1="77.20" x2="181.40" y2="77.20" stroke="#111" stroke-width="1.4" />
<line x1="235.70" y1="427.40" x2="235.70" y2="411.40" stroke="#111" stroke-width="1.4" />
<line x1="329.10" y1="427.40" x2="329.10" y2="411.40" stroke="#111" stroke-width="1.4" />
<line x1="422.50" y1="427.40" x2="422.50" y2="411.40" stroke="#111" stroke-width="1.4" />
<line x1="515.90" y1="427.40" x2="515.90" y2="411.40" stroke="#111" stroke-width="1.4" />
<line x1="282.40" y1="427.40" x2="282.40" y2="419.40" stroke="#111" stroke-width="1.4" />
<line x1="375.80" y1="427.40" x2="375.80" y2="419.40" stroke="#111" stroke-width="1.4" />
<line x1="469.20" y1="427.40" x2="469.20" y2="419.40" stroke="#111" stroke-width="1.4" />
<text x="438.12" y="80.30" font-size="34.5" fill="#4aaa50" font-weight="normal" font-style="normal" textLength="84.89" lengthAdjust="spacingAndGlyphs">−5 fs</text>
<text x="467.26" y="114.90" font-size="34.5" fill="#e6cb17" font-weight="normal" font-style="normal" textLength="56.68" lengthAdjust="spacingAndGlyphs">0 fs</text>
<text x="466.45" y="149.30" font-size="34.5" fill="#e8691f" font-weight="normal" font-style="normal" textLength="57.50" lengthAdjust="spacingAndGlyphs">5 fs</text>
<text x="466.62" y="183.90" font-size="34.5" fill="#e41b45" font-weight="normal" font-style="normal" textLength="76.22" lengthAdjust="spacingAndGlyphs">10 fs</text>
<text x="466.62" y="218.20" font-size="34.5" fill="#b52bb5" font-weight="normal" font-style="normal" textLength="76.22" lengthAdjust="spacingAndGlyphs">15 fs</text>
<text x="467.07" y="252.90" font-size="34.5" fill="#6a27c7" font-weight="normal" font-style="normal" textLength="75.76" lengthAdjust="spacingAndGlyphs">20 fs</text>
<text x="467.44" y="287.20" font-size="34.5" fill="#2358b5" font-weight="normal" font-style="normal" textLength="75.39" lengthAdjust="spacingAndGlyphs">40 fs</text>
<rect x="754.80" y="115.80" width="163.70" height="311.50" fill="#d7efe0"/>
<g clip-path="url(#cb)">
<path d="M743.6,410.3 C744.3,410.3 746.3,410.2 747.6,410.2 C748.9,410.2 750.3,410.1 751.6,410.1 C752.9,410.0 754.3,410.0 755.6,410.0 C756.9,409.9 758.3,409.9 759.6,409.9 C760.9,409.8 762.3,409.8 763.6,409.8 C764.9,409.7 766.3,409.7 767.6,409.7 C768.9,409.7 770.3,409.6 771.6,409.6 C772.9,409.6 774.3,409.5 775.6,409.5 C776.9,409.5 778.3,409.5 779.6,409.4 C780.9,409.4 782.3,409.4 783.6,409.4 C784.9,409.3 786.3,409.3 787.6,409.3 C788.9,409.3 790.3,409.2 791.6,409.2 C792.9,409.2 794.3,409.2 795.6,409.2 C796.9,409.2 798.3,409.1 799.6,409.1 C800.9,409.1 802.3,409.1 803.6,409.1 C804.9,409.1 806.3,409.0 807.6,409.0 C808.9,409.0 810.3,409.0 811.6,409.0 C812.9,409.0 814.3,409.0 815.6,408.9 C816.9,408.9 818.3,408.9 819.6,408.9 C820.9,408.9 822.3,408.9 823.6,408.9 C824.9,408.9 826.3,408.9 827.6,408.9 C828.9,408.8 830.3,408.8 831.6,408.8 C832.9,408.8 834.3,408.8 835.6,408.8 C836.9,408.8 838.3,408.8 839.6,408.8 C840.9,408.8 842.3,408.8 843.6,408.8 C844.9,408.8 846.3,408.8 847.6,408.8 C848.9,408.8 850.3,408.8 851.6,408.8 C852.9,408.8 854.3,408.8 855.6,408.8 C856.9,408.8 858.3,408.8 859.6,408.8 C860.9,408.8 862.3,408.8 863.6,408.8 C864.9,408.8 866.3,408.8 867.6,408.8 C868.9,408.8 870.3,408.8 871.6,408.8 C872.9,408.8 874.3,408.8 875.6,408.8 C876.9,408.8 878.3,408.8 879.6,408.8 C880.9,408.8 882.3,408.8 883.6,408.8 C884.9,408.8 886.3,408.8 887.6,408.8 C888.9,408.9 890.3,408.9 891.6,408.9 C892.9,408.9 894.3,408.9 895.6,408.9 C896.9,408.9 898.3,408.9 899.6,408.9 C900.9,408.9 902.3,408.9 903.6,408.9 C904.9,408.9 906.3,409.0 907.6,409.0 C908.9,409.0 910.3,409.0 911.6,409.0 C912.9,409.0 914.3,409.0 915.6,409.0 C916.9,409.0 918.3,409.0 919.6,409.1 C920.9,409.1 922.3,409.1 923.6,409.1 C924.9,409.1 926.3,409.1 927.6,409.1 C928.9,409.1 930.3,409.2 931.6,409.2 C932.9,409.2 934.3,409.2 935.6,409.2 C936.9,409.2 938.3,409.2 939.6,409.2 C940.9,409.2 942.3,409.3 943.6,409.3 C944.9,409.3 946.3,409.3 947.6,409.3 C948.9,409.3 950.3,409.3 951.6,409.4 C952.9,409.4 954.3,409.4 955.6,409.4 C956.9,409.4 958.3,409.4 959.6,409.4 C960.9,409.4 962.3,409.5 963.6,409.5 C964.9,409.5 966.3,409.5 967.6,409.5 C968.9,409.5 970.3,409.5 971.6,409.6 C972.9,409.6 974.3,409.6 975.6,409.6 C976.9,409.6 978.3,409.6 979.6,409.6 C980.9,409.7 982.3,409.7 983.6,409.7 C984.9,409.7 986.3,409.7 987.6,409.7 C988.9,409.7 990.3,409.7 991.6,409.8 C992.9,409.8 994.3,409.8 995.6,409.8 C996.9,409.8 998.3,409.8 999.6,409.8 C1000.9,409.9 1002.3,409.9 1003.6,409.9 C1004.9,409.9 1006.3,409.9 1007.6,409.9 C1008.9,409.9 1010.3,409.9 1011.6,410.0 C1012.9,410.0 1014.3,410.0 1015.6,410.0 C1016.9,410.0 1018.3,410.0 1019.6,410.0 C1020.9,410.0 1022.3,410.0 1023.6,410.1 C1024.9,410.1 1026.3,410.1 1027.6,410.1 C1028.9,410.1 1030.3,410.1 1031.6,410.1 C1032.9,410.1 1034.3,410.1 1035.6,410.1 C1036.9,410.2 1038.3,410.2 1039.6,410.2 C1040.9,410.2 1042.3,410.2 1043.6,410.2 C1044.9,410.2 1046.3,410.2 1047.6,410.2 C1048.9,410.2 1050.3,410.2 1051.6,410.2 C1052.9,410.2 1054.3,410.3 1055.6,410.3 C1056.9,410.3 1058.3,410.3 1059.6,410.3 C1060.9,410.3 1062.3,410.3 1063.6,410.3 C1064.9,410.3 1066.3,410.3 1067.6,410.3 C1068.9,410.3 1070.3,410.3 1071.6,410.3 C1072.9,410.3 1074.3,410.3 1075.6,410.3 C1076.9,410.3 1078.3,410.3 1079.6,410.3 C1080.9,410.3 1082.3,410.3 1083.6,410.3 C1084.9,410.3 1086.3,410.3 1087.6,410.3 C1088.9,410.3 1090.3,410.3 1091.6,410.3 C1092.9,410.3 1094.3,410.3 1095.6,410.3 C1096.9,410.3 1098.3,410.3 1099.6,410.3 C1100.9,410.3 1102.3,410.3 1103.6,410.3 C1104.9,410.3 1106.3,410.3 1107.6,410.3 C1108.9,410.3 1110.3,410.3 1111.6,410.3 C1112.9,410.2 1114.3,410.2 1115.6,410.2 C1116.9,410.2 1118.3,410.2 1119.6,410.2 C1120.9,410.2 1122.3,410.2 1123.6,410.2 C1124.9,410.2 1126.3,410.1 1127.6,410.1 C1128.9,410.1 1130.3,410.1 1131.6,410.1 C1132.9,410.1 1134.3,410.1 1135.6,410.1 C1136.9,410.0 1138.8,410.0 1139.6,410.0 C1140.4,410.0 1140.2,410.0 1140.3,410.0" fill="none" stroke="#6a27c7" stroke-width="3.2" stroke-linejoin="round" />
<path d="M743.6,409.6 C744.3,409.4 746.3,409.0 747.6,408.7 C748.9,408.4 750.3,408.1 751.6,407.8 C752.9,407.6 754.3,407.3 755.6,407.0 C756.9,406.8 758.3,406.5 759.6,406.3 C760.9,406.0 762.3,405.8 763.6,405.5 C764.9,405.3 766.3,405.1 767.6,404.9 C768.9,404.6 770.3,404.4 771.6,404.2 C772.9,404.0 774.3,403.8 775.6,403.6 C776.9,403.4 778.3,403.2 779.6,403.1 C780.9,402.9 782.3,402.7 783.6,402.5 C784.9,402.4 786.3,402.2 787.6,402.0 C788.9,401.9 790.3,401.7 791.6,401.6 C792.9,401.4 794.3,401.3 795.6,401.2 C796.9,401.0 798.3,400.9 799.6,400.8 C800.9,400.7 802.3,400.5 803.6,400.4 C804.9,400.3 806.3,400.2 807.6,400.1 C808.9,400.0 810.3,399.9 811.6,399.8 C812.9,399.7 814.3,399.6 815.6,399.5 C816.9,399.5 818.3,399.4 819.6,399.3 C820.9,399.2 822.3,399.2 823.6,399.1 C824.9,399.1 826.3,399.0 827.6,398.9 C828.9,398.9 830.3,398.8 831.6,398.8 C832.9,398.8 834.3,398.7 835.6,398.7 C836.9,398.7 838.3,398.6 839.6,398.6 C840.9,398.6 842.3,398.5 843.6,398.5 C844.9,398.5 846.3,398.5 847.6,398.5 C848.9,398.5 850.3,398.5 851.6,398.5 C852.9,398.5 854.3,398.5 855.6,398.5 C856.9,398.5 858.3,398.5 859.6,398.5 C860.9,398.5 862.3,398.5 863.6,398.6 C864.9,398.6 866.3,398.6 867.6,398.6 C868.9,398.7 870.3,398.7 871.6,398.7 C872.9,398.7 874.3,398.8 875.6,398.8 C876.9,398.9 878.3,398.9 879.6,399.0 C880.9,399.0 882.3,399.0 883.6,399.1 C884.9,399.1 886.3,399.2 887.6,399.3 C888.9,399.3 890.3,399.4 891.6,399.4 C892.9,399.5 894.3,399.6 895.6,399.6 C896.9,399.7 898.3,399.8 899.6,399.8 C900.9,399.9 902.3,400.0 903.6,400.1 C904.9,400.1 906.3,400.2 907.6,400.3 C908.9,400.4 910.3,400.5 911.6,400.5 C912.9,400.6 914.3,400.7 915.6,400.8 C916.9,400.9 918.3,401.0 919.6,401.1 C920.9,401.2 922.3,401.3 923.6,401.4 C924.9,401.4 926.3,401.5 927.6,401.6 C928.9,401.7 930.3,401.8 931.6,401.9 C932.9,402.0 934.3,402.1 935.6,402.2 C936.9,402.3 938.3,402.4 939.6,402.6 C940.9,402.7 942.3,402.8 943.6,402.9 C944.9,403.0 946.3,403.1 947.6,403.2 C948.9,403.3 950.3,403.4 951.6,403.5 C952.9,403.6 954.3,403.7 955.6,403.8 C956.9,404.0 958.3,404.1 959.6,404.2 C960.9,404.3 962.3,404.4 963.6,404.5 C964.9,404.6 966.3,404.7 967.6,404.9 C968.9,405.0 970.3,405.1 971.6,405.2 C972.9,405.3 974.3,405.4 975.6,405.5 C976.9,405.6 978.3,405.8 979.6,405.9 C980.9,406.0 982.3,406.1 983.6,406.2 C984.9,406.3 986.3,406.4 987.6,406.5 C988.9,406.6 990.3,406.8 991.6,406.9 C992.9,407.0 994.3,407.1 995.6,407.2 C996.9,407.3 998.3,407.4 999.6,407.5 C1000.9,407.6 1002.3,407.7 1003.6,407.8 C1004.9,407.9 1006.3,408.0 1007.6,408.1 C1008.9,408.2 1010.3,408.3 1011.6,408.4 C1012.9,408.5 1014.3,408.6 1015.6,408.7 C1016.9,408.8 1018.3,408.9 1019.6,409.0 C1020.9,409.1 1022.3,409.2 1023.6,409.3 C1024.9,409.4 1026.3,409.5 1027.6,409.5 C1028.9,409.6 1030.3,409.7 1031.6,409.8 C1032.9,409.9 1034.3,410.0 1035.6,410.0 C1036.9,410.1 1038.3,410.2 1039.6,410.3 C1040.9,410.3 1042.3,410.4 1043.6,410.5 C1044.9,410.6 1046.3,410.6 1047.6,410.7 C1048.9,410.8 1050.3,410.8 1051.6,410.9 C1052.9,410.9 1054.3,411.0 1055.6,411.1 C1056.9,411.1 1058.3,411.2 1059.6,411.2 C1060.9,411.3 1062.3,411.3 1063.6,411.3 C1064.9,411.4 1066.3,411.4 1067.6,411.5 C1068.9,411.5 1070.3,411.5 1071.6,411.6 C1072.9,411.6 1074.3,411.6 1075.6,411.6 C1076.9,411.7 1078.3,411.7 1079.6,411.7 C1080.9,411.7 1082.3,411.7 1083.6,411.7 C1084.9,411.8 1086.3,411.8 1087.6,411.8 C1088.9,411.8 1090.3,411.8 1091.6,411.8 C1092.9,411.8 1094.3,411.7 1095.6,411.7 C1096.9,411.7 1098.3,411.7 1099.6,411.7 C1100.9,411.7 1102.3,411.6 1103.6,411.6 C1104.9,411.6 1106.3,411.5 1107.6,411.5 C1108.9,411.5 1110.3,411.4 1111.6,411.4 C1112.9,411.3 1114.3,411.3 1115.6,411.2 C1116.9,411.2 1118.3,411.1 1119.6,411.0 C1120.9,411.0 1122.3,410.9 1123.6,410.8 C1124.9,410.7 1126.3,410.7 1127.6,410.6 C1128.9,410.5 1130.3,410.4 1131.6,410.3 C1132.9,410.2 1134.3,410.1 1135.6,410.0 C1136.9,409.9 1138.8,409.7 1139.6,409.7 C1140.4,409.6 1140.2,409.6 1140.3,409.6" fill="none" stroke="#b52bb5" stroke-width="3.2" stroke-linejoin="round" />
<path d="M743.6,392.8 C744.3,392.5 746.3,391.8 747.6,391.4 C748.9,390.9 750.3,390.5 751.6,390.1 C752.9,389.7 754.3,389.2 755.6,388.8 C756.9,388.4 758.3,388.1 759.6,387.7 C760.9,387.3 762.3,387.0 763.6,386.6 C764.9,386.3 766.3,385.9 767.6,385.6 C768.9,385.3 770.3,384.9 771.6,384.6 C772.9,384.3 774.3,384.0 775.6,383.8 C776.9,383.5 778.3,383.2 779.6,383.0 C780.9,382.7 782.3,382.4 783.6,382.2 C784.9,382.0 786.3,381.7 787.6,381.5 C788.9,381.3 790.3,381.1 791.6,380.9 C792.9,380.7 794.3,380.5 795.6,380.4 C796.9,380.2 798.3,380.0 799.6,379.9 C800.9,379.7 802.3,379.6 803.6,379.4 C804.9,379.3 806.3,379.2 807.6,379.0 C808.9,378.9 810.3,378.8 811.6,378.7 C812.9,378.6 814.3,378.5 815.6,378.4 C816.9,378.4 818.3,378.3 819.6,378.2 C820.9,378.2 822.3,378.1 823.6,378.1 C824.9,378.0 826.3,378.0 827.6,377.9 C828.9,377.9 830.3,377.9 831.6,377.9 C832.9,377.9 834.3,377.8 835.6,377.8 C836.9,377.8 838.3,377.9 839.6,377.9 C840.9,377.9 842.3,377.9 843.6,377.9 C844.9,378.0 846.3,378.0 847.6,378.1 C848.9,378.1 850.3,378.2 851.6,378.2 C852.9,378.3 854.3,378.3 855.6,378.4 C856.9,378.5 858.3,378.6 859.6,378.6 C860.9,378.7 862.3,378.8 863.6,378.9 C864.9,379.0 866.3,379.1 867.6,379.2 C868.9,379.3 870.3,379.4 871.6,379.6 C872.9,379.7 874.3,379.8 875.6,379.9 C876.9,380.1 878.3,380.2 879.6,380.3 C880.9,380.5 882.3,380.6 883.6,380.8 C884.9,380.9 886.3,381.1 887.6,381.2 C888.9,381.4 890.3,381.6 891.6,381.7 C892.9,381.9 894.3,382.1 895.6,382.2 C896.9,382.4 898.3,382.6 899.6,382.8 C900.9,383.0 902.3,383.2 903.6,383.3 C904.9,383.5 906.3,383.7 907.6,383.9 C908.9,384.1 910.3,384.3 911.6,384.5 C912.9,384.7 914.3,385.0 915.6,385.2 C916.9,385.4 918.3,385.6 919.6,385.8 C920.9,386.0 922.3,386.2 923.6,386.5 C924.9,386.7 926.3,386.9 927.6,387.1 C928.9,387.4 930.3,387.6 931.6,387.8 C932.9,388.1 934.3,388.3 935.6,388.5 C936.9,388.8 938.3,389.0 939.6,389.2 C940.9,389.5 942.3,389.7 943.6,390.0 C944.9,390.2 946.3,390.4 947.6,390.7 C948.9,390.9 950.3,391.2 951.6,391.4 C952.9,391.7 954.3,391.9 955.6,392.2 C956.9,392.4 958.3,392.7 959.6,392.9 C960.9,393.1 962.3,393.4 963.6,393.6 C964.9,393.9 966.3,394.1 967.6,394.4 C968.9,394.6 970.3,394.9 971.6,395.1 C972.9,395.4 974.3,395.6 975.6,395.9 C976.9,396.1 978.3,396.4 979.6,396.6 C980.9,396.9 982.3,397.1 983.6,397.3 C984.9,397.6 986.3,397.8 987.6,398.1 C988.9,398.3 990.3,398.6 991.6,398.8 C992.9,399.0 994.3,399.3 995.6,399.5 C996.9,399.7 998.3,400.0 999.6,400.2 C1000.9,400.4 1002.3,400.7 1003.6,400.9 C1004.9,401.1 1006.3,401.3 1007.6,401.6 C1008.9,401.8 1010.3,402.0 1011.6,402.2 C1012.9,402.4 1014.3,402.6 1015.6,402.9 C1016.9,403.1 1018.3,403.3 1019.6,403.5 C1020.9,403.7 1022.3,403.9 1023.6,404.1 C1024.9,404.3 1026.3,404.5 1027.6,404.7 C1028.9,404.9 1030.3,405.0 1031.6,405.2 C1032.9,405.4 1034.3,405.6 1035.6,405.8 C1036.9,405.9 1038.3,406.1 1039.6,406.3 C1040.9,406.4 1042.3,406.6 1043.6,406.8 C1044.9,406.9 1046.3,407.1 1047.6,407.2 C1048.9,407.4 1050.3,407.5 1051.6,407.7 C1052.9,407.8 1054.3,407.9 1055.6,408.1 C1056.9,408.2 1058.3,408.3 1059.6,408.4 C1060.9,408.5 1062.3,408.7 1063.6,408.8 C1064.9,408.9 1066.3,409.0 1067.6,409.1 C1068.9,409.2 1070.3,409.2 1071.6,409.3 C1072.9,409.4 1074.3,409.5 1075.6,409.6 C1076.9,409.6 1078.3,409.7 1079.6,409.7 C1080.9,409.8 1082.3,409.9 1083.6,409.9 C1084.9,409.9 1086.3,410.0 1087.6,410.0 C1088.9,410.0 1090.3,410.0 1091.6,410.1 C1092.9,410.1 1094.3,410.1 1095.6,410.1 C1096.9,410.1 1098.3,410.1 1099.6,410.1 C1100.9,410.0 1102.3,410.0 1103.6,410.0 C1104.9,409.9 1106.3,409.9 1107.6,409.9 C1108.9,409.8 1110.3,409.7 1111.6,409.7 C1112.9,409.6 1114.3,409.5 1115.6,409.5 C1116.9,409.4 1118.3,409.3 1119.6,409.2 C1120.9,409.1 1122.3,409.0 1123.6,408.8 C1124.9,408.7 1126.3,408.6 1127.6,408.5 C1128.9,408.3 1130.3,408.2 1131.6,408.0 C1132.9,407.8 1134.3,407.7 1135.6,407.5 C1136.9,407.3 1138.8,407.0 1139.6,406.9 C1140.4,406.8 1140.2,406.8 1140.3,406.8" fill="none" stroke="#e41b45" stroke-width="3.2" stroke-linejoin="round" />
<path d="M743.6,352.3 C744.3,351.9 746.3,350.7 747.6,349.9 C748.9,349.1 750.3,348.3 751.6,347.5 C752.9,346.7 754.3,345.9 755.6,345.1 C756.9,344.4 758.3,343.6 759.6,342.9 C760.9,342.1 762.3,341.4 763.6,340.7 C764.9,340.0 766.3,339.3 767.6,338.6 C768.9,337.9 770.3,337.2 771.6,336.5 C772.9,335.9 774.3,335.2 775.6,334.6 C776.9,333.9 778.3,333.3 779.6,332.7 C780.9,332.1 782.3,331.5 783.6,330.9 C784.9,330.3 786.3,329.8 787.6,329.2 C788.9,328.7 790.3,328.1 791.6,327.6 C792.9,327.1 794.3,326.6 795.6,326.1 C796.9,325.6 798.3,325.2 799.6,324.7 C800.9,324.3 802.3,323.8 803.6,323.4 C804.9,323.0 806.3,322.6 807.6,322.2 C808.9,321.8 810.3,321.5 811.6,321.1 C812.9,320.8 814.3,320.5 815.6,320.2 C816.9,319.9 818.3,319.6 819.6,319.3 C820.9,319.1 822.3,318.8 823.6,318.6 C824.9,318.4 826.3,318.2 827.6,318.0 C828.9,317.8 830.3,317.6 831.6,317.5 C832.9,317.4 834.3,317.2 835.6,317.2 C836.9,317.1 838.3,317.0 839.6,316.9 C840.9,316.9 842.3,316.9 843.6,316.9 C844.9,316.9 846.3,316.9 847.6,316.9 C848.9,317.0 850.3,317.0 851.6,317.1 C852.9,317.2 854.3,317.3 855.6,317.5 C856.9,317.6 858.3,317.8 859.6,318.0 C860.9,318.2 862.3,318.4 863.6,318.6 C864.9,318.9 866.3,319.1 867.6,319.4 C868.9,319.7 870.3,320.1 871.6,320.4 C872.9,320.7 874.3,321.1 875.6,321.5 C876.9,321.9 878.3,322.3 879.6,322.8 C880.9,323.2 882.3,323.7 883.6,324.2 C884.9,324.6 886.3,325.1 887.6,325.7 C888.9,326.2 890.3,326.7 891.6,327.3 C892.9,327.9 894.3,328.4 895.6,329.0 C896.9,329.6 898.3,330.2 899.6,330.9 C900.9,331.5 902.3,332.1 903.6,332.8 C904.9,333.5 906.3,334.1 907.6,334.8 C908.9,335.5 910.3,336.2 911.6,336.9 C912.9,337.6 914.3,338.4 915.6,339.1 C916.9,339.8 918.3,340.6 919.6,341.3 C920.9,342.1 922.3,342.8 923.6,343.6 C924.9,344.4 926.3,345.2 927.6,345.9 C928.9,346.7 930.3,347.5 931.6,348.3 C932.9,349.1 934.3,349.9 935.6,350.7 C936.9,351.5 938.3,352.3 939.6,353.2 C940.9,354.0 942.3,354.8 943.6,355.6 C944.9,356.4 946.3,357.2 947.6,358.1 C948.9,358.9 950.3,359.7 951.6,360.5 C952.9,361.3 954.3,362.2 955.6,363.0 C956.9,363.8 958.3,364.6 959.6,365.4 C960.9,366.2 962.3,367.0 963.6,367.9 C964.9,368.7 966.3,369.5 967.6,370.2 C968.9,371.0 970.3,371.8 971.6,372.6 C972.9,373.4 974.3,374.2 975.6,374.9 C976.9,375.7 978.3,376.5 979.6,377.2 C980.9,378.0 982.3,378.7 983.6,379.4 C984.9,380.2 986.3,380.9 987.6,381.6 C988.9,382.3 990.3,383.0 991.6,383.7 C992.9,384.4 994.3,385.0 995.6,385.7 C996.9,386.4 998.3,387.0 999.6,387.6 C1000.9,388.3 1002.3,388.9 1003.6,389.5 C1004.9,390.1 1006.3,390.7 1007.6,391.2 C1008.9,391.8 1010.3,392.3 1011.6,392.9 C1012.9,393.4 1014.3,393.9 1015.6,394.4 C1016.9,394.9 1018.3,395.4 1019.6,395.8 C1020.9,396.3 1022.3,396.7 1023.6,397.1 C1024.9,397.5 1026.3,397.9 1027.6,398.3 C1028.9,398.6 1030.3,399.0 1031.6,399.3 C1032.9,399.6 1034.3,399.9 1035.6,400.2 C1036.9,400.5 1038.3,400.8 1039.6,401.0 C1040.9,401.3 1042.3,401.5 1043.6,401.7 C1044.9,401.9 1046.3,402.1 1047.6,402.3 C1048.9,402.5 1050.3,402.7 1051.6,402.8 C1052.9,403.0 1054.3,403.1 1055.6,403.2 C1056.9,403.3 1058.3,403.5 1059.6,403.6 C1060.9,403.7 1062.3,403.7 1063.6,403.8 C1064.9,403.9 1066.3,404.0 1067.6,404.0 C1068.9,404.1 1070.3,404.1 1071.6,404.1 C1072.9,404.2 1074.3,404.2 1075.6,404.2 C1076.9,404.2 1078.3,404.2 1079.6,404.2 C1080.9,404.2 1082.3,404.2 1083.6,404.2 C1084.9,404.2 1086.3,404.2 1087.6,404.1 C1088.9,404.1 1090.3,404.1 1091.6,404.0 C1092.9,404.0 1094.3,404.0 1095.6,403.9 C1096.9,403.9 1098.3,403.8 1099.6,403.8 C1100.9,403.7 1102.3,403.7 1103.6,403.6 C1104.9,403.6 1106.3,403.5 1107.6,403.5 C1108.9,403.4 1110.3,403.3 1111.6,403.3 C1112.9,403.2 1114.3,403.2 1115.6,403.1 C1116.9,403.1 1118.3,403.0 1119.6,403.0 C1120.9,402.9 1122.3,402.9 1123.6,402.8 C1124.9,402.8 1126.3,402.8 1127.6,402.7 C1128.9,402.7 1130.3,402.7 1131.6,402.6 C1132.9,402.6 1134.3,402.6 1135.6,402.6 C1136.9,402.6 1138.8,402.6 1139.6,402.6 C1140.4,402.6 1140.2,402.6 1140.3,402.6" fill="none" stroke="#e8691f" stroke-width="3.2" stroke-linejoin="round" />
<path d="M743.6,195.3 C744.3,194.0 746.3,189.7 747.6,187.1 C748.9,184.4 750.3,181.8 751.6,179.3 C752.9,176.9 754.3,174.5 755.6,172.2 C756.9,169.9 758.3,167.7 759.6,165.6 C760.9,163.5 762.3,161.5 763.6,159.6 C764.9,157.7 766.3,155.8 767.6,154.1 C768.9,152.4 770.3,150.7 771.6,149.2 C772.9,147.7 774.3,146.2 775.6,144.9 C776.9,143.5 778.3,142.3 779.6,141.1 C780.9,140.0 782.3,138.9 783.6,137.9 C784.9,137.0 786.3,136.1 787.6,135.3 C788.9,134.5 790.3,133.8 791.6,133.3 C792.9,132.7 794.3,132.2 795.6,131.8 C796.9,131.4 798.3,131.1 799.6,130.9 C800.9,130.7 802.3,130.6 803.6,130.5 C804.9,130.5 806.3,130.6 807.6,130.8 C808.9,131.0 810.3,131.2 811.6,131.6 C812.9,132.0 814.3,132.4 815.6,133.0 C816.9,133.6 818.3,134.2 819.6,135.0 C820.9,135.7 822.3,136.6 823.6,137.5 C824.9,138.5 826.3,139.5 827.6,140.6 C828.9,141.7 830.3,142.9 831.6,144.2 C832.9,145.5 834.3,146.9 835.6,148.3 C836.9,149.8 838.3,151.3 839.6,152.9 C840.9,154.5 842.3,156.2 843.6,158.0 C844.9,159.7 846.3,161.6 847.6,163.5 C848.9,165.4 850.3,167.3 851.6,169.4 C852.9,171.4 854.3,173.5 855.6,175.7 C856.9,177.8 858.3,180.1 859.6,182.3 C860.9,184.6 862.3,187.0 863.6,189.4 C864.9,191.8 866.3,194.2 867.6,196.7 C868.9,199.2 870.3,201.7 871.6,204.3 C872.9,206.8 874.3,209.5 875.6,212.1 C876.9,214.7 878.3,217.4 879.6,220.1 C880.9,222.7 882.3,225.4 883.6,228.2 C884.9,230.9 886.3,233.6 887.6,236.4 C888.9,239.1 890.3,241.8 891.6,244.6 C892.9,247.3 894.3,250.1 895.6,252.8 C896.9,255.6 898.3,258.3 899.6,261.0 C900.9,263.7 902.3,266.4 903.6,269.1 C904.9,271.8 906.3,274.4 907.6,277.0 C908.9,279.7 910.3,282.3 911.6,284.8 C912.9,287.4 914.3,289.9 915.6,292.4 C916.9,295.0 918.3,297.4 919.6,299.9 C920.9,302.3 922.3,304.8 923.6,307.2 C924.9,309.5 926.3,311.9 927.6,314.2 C928.9,316.5 930.3,318.8 931.6,321.1 C932.9,323.3 934.3,325.6 935.6,327.7 C936.9,329.9 938.3,332.1 939.6,334.2 C940.9,336.3 942.3,338.3 943.6,340.4 C944.9,342.4 946.3,344.4 947.6,346.3 C948.9,348.2 950.3,350.2 951.6,352.0 C952.9,353.9 954.3,355.7 955.6,357.5 C956.9,359.2 958.3,361.0 959.6,362.6 C960.9,364.3 962.3,365.9 963.6,367.5 C964.9,369.1 966.3,370.7 967.6,372.1 C968.9,373.6 970.3,375.1 971.6,376.5 C972.9,377.9 974.3,379.2 975.6,380.5 C976.9,381.8 978.3,383.0 979.6,384.2 C980.9,385.4 982.3,386.5 983.6,387.6 C984.9,388.6 986.3,389.7 987.6,390.6 C988.9,391.6 990.3,392.5 991.6,393.3 C992.9,394.2 994.3,395.0 995.6,395.7 C996.9,396.4 998.3,397.1 999.6,397.7 C1000.9,398.4 1002.3,398.9 1003.6,399.5 C1004.9,400.0 1006.3,400.5 1007.6,400.9 C1008.9,401.3 1010.3,401.7 1011.6,402.1 C1012.9,402.4 1014.3,402.8 1015.6,403.0 C1016.9,403.3 1018.3,403.6 1019.6,403.8 C1020.9,404.0 1022.3,404.2 1023.6,404.3 C1024.9,404.5 1026.3,404.6 1027.6,404.7 C1028.9,404.8 1030.3,404.9 1031.6,405.0 C1032.9,405.0 1034.3,405.1 1035.6,405.1 C1036.9,405.1 1038.3,405.2 1039.6,405.2 C1040.9,405.2 1042.3,405.1 1043.6,405.1 C1044.9,405.1 1046.3,405.1 1047.6,405.1 C1048.9,405.0 1050.3,405.0 1051.6,405.0 C1052.9,404.9 1054.3,404.9 1055.6,404.9 C1056.9,404.8 1058.3,404.8 1059.6,404.8 C1060.9,404.7 1062.3,404.7 1063.6,404.7 C1064.9,404.7 1066.3,404.7 1067.6,404.7 C1068.9,404.6 1070.3,404.6 1071.6,404.6 C1072.9,404.6 1074.3,404.6 1075.6,404.6 C1076.9,404.6 1078.3,404.6 1079.6,404.6 C1080.9,404.6 1082.3,404.6 1083.6,404.6 C1084.9,404.6 1086.3,404.6 1087.6,404.6 C1088.9,404.6 1090.3,404.6 1091.6,404.6 C1092.9,404.7 1094.3,404.7 1095.6,404.7 C1096.9,404.7 1098.3,404.7 1099.6,404.7 C1100.9,404.8 1102.3,404.8 1103.6,404.8 C1104.9,404.8 1106.3,404.9 1107.6,404.9 C1108.9,404.9 1110.3,405.0 1111.6,405.0 C1112.9,405.0 1114.3,405.1 1115.6,405.1 C1116.9,405.1 1118.3,405.2 1119.6,405.2 C1120.9,405.3 1122.3,405.3 1123.6,405.4 C1124.9,405.4 1126.3,405.5 1127.6,405.5 C1128.9,405.6 1130.3,405.6 1131.6,405.7 C1132.9,405.7 1134.3,405.8 1135.6,405.8 C1136.9,405.9 1138.8,406.0 1139.6,406.0 C1140.4,406.0 1140.2,406.0 1140.3,406.0" fill="none" stroke="#e6cb17" stroke-width="3.2" stroke-linejoin="round" />
<line x1="743.50" y1="411.60" x2="1140.40" y2="411.60" stroke="#2358b5" stroke-width="3.4" />
</g>
<rect x="743.50" y="41.60" width="396.90" height="385.70" fill="none" stroke="#111" stroke-width="1.3"/>
<line x1="741.10" y1="115.80" x2="1140.40" y2="115.80" stroke="#111" stroke-width="1.5" />
<line x1="743.50" y1="412.20" x2="759.50" y2="412.20" stroke="#111" stroke-width="1.4" />
<line x1="743.50" y1="352.92" x2="759.50" y2="352.92" stroke="#111" stroke-width="1.4" />
<line x1="743.50" y1="293.64" x2="759.50" y2="293.64" stroke="#111" stroke-width="1.4" />
<line x1="743.50" y1="234.36" x2="759.50" y2="234.36" stroke="#111" stroke-width="1.4" />
<line x1="743.50" y1="175.08" x2="759.50" y2="175.08" stroke="#111" stroke-width="1.4" />
<line x1="743.50" y1="56.30" x2="759.50" y2="56.30" stroke="#111" stroke-width="1.4" />
<line x1="813.70" y1="427.30" x2="813.70" y2="411.30" stroke="#111" stroke-width="1.4" />
<line x1="907.00" y1="427.30" x2="907.00" y2="411.30" stroke="#111" stroke-width="1.4" />
<line x1="1000.30" y1="427.30" x2="1000.30" y2="411.30" stroke="#111" stroke-width="1.4" />
<line x1="1093.60" y1="427.30" x2="1093.60" y2="411.30" stroke="#111" stroke-width="1.4" />
<line x1="860.35" y1="427.30" x2="860.35" y2="419.30" stroke="#111" stroke-width="1.4" />
<line x1="953.65" y1="427.30" x2="953.65" y2="419.30" stroke="#111" stroke-width="1.4" />
<line x1="1046.95" y1="427.30" x2="1046.95" y2="419.30" stroke="#111" stroke-width="1.4" />
<line x1="765.70" y1="115.80" x2="765.70" y2="123.80" stroke="#111" stroke-width="1.4" />
<line x1="813.10" y1="115.80" x2="813.10" y2="131.80" stroke="#111" stroke-width="1.4" />
<line x1="861.20" y1="115.80" x2="861.20" y2="123.80" stroke="#111" stroke-width="1.4" />
<line x1="909.60" y1="115.80" x2="909.60" y2="131.80" stroke="#111" stroke-width="1.4" />
<line x1="957.30" y1="115.80" x2="957.30" y2="123.80" stroke="#111" stroke-width="1.4" />
<line x1="1005.70" y1="115.80" x2="1005.70" y2="131.80" stroke="#111" stroke-width="1.4" />
<line x1="1053.50" y1="115.80" x2="1053.50" y2="123.80" stroke="#111" stroke-width="1.4" />
<line x1="1102.20" y1="115.80" x2="1102.20" y2="131.80" stroke="#111" stroke-width="1.4" />
<line x1="802.40" y1="115.40" x2="835.80" y2="101.30" stroke="#e6cb17" stroke-width="1.5" />
<line x1="855.00" y1="115.40" x2="899.60" y2="97.60" stroke="#e8691f" stroke-width="1.5" />
<filter id="meta1" x="-20%" y="-30%" width="140%" height="160%"><feGaussianBlur stdDeviation="5"/><feComponentTransfer><feFuncA type="linear" slope="8" intercept="-3.5"/></feComponentTransfer></filter>
<mask id="mol1" maskUnits="userSpaceOnUse" x="796.8" y="39.99999999999999" width="97.40000000000006" height="73.2"><g filter="url(#meta1)" fill="#fff"><circle cx="833.4" cy="76.6" r="21.6"/><circle cx="858.2" cy="76.6" r="21.0"/></g></mask>
<g mask="url(#mol1)"><rect x="799.8" y="42.99999999999999" width="91.40000000000006" height="67.2" fill="#5d9193"/>
<g filter="url(#blur4)"><circle cx="833.4" cy="75.1" r="16.6" fill="#83d7d9"/><circle cx="858.2" cy="75.1" r="16.0" fill="#83d7d9"/><rect x="833.4" y="58.8" width="24.800000000000068" height="30.0" fill="#83d7d9"/></g></g>
<line x1="835.3" y1="76.6" x2="847.05" y2="76.6" stroke="#8fb4b4" stroke-width="2.0"/>
<line x1="847.05" y1="76.6" x2="858.8" y2="76.6" stroke="#b09a9a" stroke-width="2.0"/>
<circle cx="835.3" cy="76.6" r="6.4" fill="url(#atomT)"/>
<circle cx="858.8" cy="76.6" r="6.0" fill="url(#atomB)"/>
<circle cx="837.0999999999999" cy="74.0" r="1.7920000000000003" fill="#a9d6d6" opacity="0.8" filter="url(#blur1)"/>
<circle cx="860.4" cy="74.0" r="1.6800000000000002" fill="#d6c4c4" opacity="0.8" filter="url(#blur1)"/>
<filter id="meta2" x="-20%" y="-30%" width="140%" height="160%"><feGaussianBlur stdDeviation="5"/><feComponentTransfer><feFuncA type="linear" slope="8" intercept="-3.5"/></feComponentTransfer></filter>
<mask id="mol2" maskUnits="userSpaceOnUse" x="879.4" y="39.99999999999999" width="98.1" height="73.2"><g filter="url(#meta2)" fill="#fff"><circle cx="916.0" cy="76.6" r="21.6"/><circle cx="941.5" cy="76.6" r="21.0"/></g></mask>
<g mask="url(#mol2)"><rect x="882.4" y="42.99999999999999" width="92.1" height="67.2" fill="#5d9193"/>
<g filter="url(#blur4)"><circle cx="916.0" cy="75.1" r="16.6" fill="#83d7d9"/><circle cx="941.5" cy="75.1" r="16.0" fill="#83d7d9"/><rect x="916.0" y="58.8" width="25.5" height="30.0" fill="#83d7d9"/></g></g>
<line x1="916.7" y1="76.6" x2="929.7" y2="76.6" stroke="#8fb4b4" stroke-width="2.0"/>
<line x1="929.7" y1="76.6" x2="942.7" y2="76.6" stroke="#b09a9a" stroke-width="2.0"/>
<circle cx="916.7" cy="76.6" r="6.4" fill="url(#atomT)"/>
<circle cx="942.7" cy="76.6" r="6.0" fill="url(#atomB)"/>
<circle cx="918.5" cy="74.0" r="1.7920000000000003" fill="#a9d6d6" opacity="0.8" filter="url(#blur1)"/>
<circle cx="944.3000000000001" cy="74.0" r="1.6800000000000002" fill="#d6c4c4" opacity="0.8" filter="url(#blur1)"/>
<g clip-path="url(#cc)">
<line x1="1326.40" y1="111.70" x2="1326.40" y2="134.40" stroke="#5cb86e" stroke-width="1.3" />
<line x1="1367.60" y1="96.60" x2="1367.60" y2="124.90" stroke="#5cb86e" stroke-width="1.3" />
<line x1="1409.10" y1="296.70" x2="1409.10" y2="319.40" stroke="#5cb86e" stroke-width="1.3" />
<line x1="1450.60" y1="306.10" x2="1450.60" y2="353.30" stroke="#5cb86e" stroke-width="1.3" />
<line x1="1491.80" y1="372.20" x2="1491.80" y2="394.80" stroke="#5cb86e" stroke-width="1.3" />
<line x1="1656.70" y1="366.50" x2="1656.70" y2="406.90" stroke="#5cb86e" stroke-width="1.3" />
<polyline points="1285.4,326.9 1326.4,121.2 1367.6,112.5 1409.1,308.0 1450.6,328.8 1491.8,383.5 1656.7,386.6 1681.8,386.6" fill="none" stroke="#5cb86e" stroke-width="3.0" stroke-linejoin="round" stroke-linecap="butt" stroke-dasharray="6.5 4.5"/>
<path d="M1285.4,385.8 C1286.8,384.8 1291.6,382.3 1294.0,379.5 C1296.4,376.7 1298.0,374.2 1300.0,369.0 C1302.0,363.8 1304.2,356.5 1306.0,348.0 C1307.8,339.5 1309.0,331.0 1310.5,318.0 C1312.0,305.0 1313.5,287.0 1315.0,270.0 C1316.5,253.0 1318.0,233.5 1319.5,216.0 C1321.0,198.5 1322.5,180.0 1324.0,165.0 C1325.5,150.0 1327.2,134.8 1328.5,126.0 C1329.8,117.2 1330.6,115.2 1331.5,112.5 C1332.4,109.8 1333.1,109.2 1333.9,109.5 C1334.8,109.8 1335.5,109.2 1336.6,114.0 C1337.7,118.8 1339.1,127.0 1340.5,138.0 C1341.9,149.0 1343.5,167.0 1345.0,180.0 C1346.5,193.0 1347.8,205.5 1349.5,216.0 C1351.2,226.5 1353.2,235.0 1355.5,243.0 C1357.8,251.0 1360.2,256.5 1363.0,264.0 C1365.8,271.5 1369.2,280.3 1372.0,288.0 C1374.8,295.7 1377.3,303.7 1380.0,310.3 C1382.7,316.9 1385.3,322.4 1388.0,327.5 C1390.7,332.6 1393.3,336.9 1396.0,340.9 C1398.7,344.8 1401.3,348.1 1404.0,351.2 C1406.7,354.2 1409.3,356.8 1412.0,359.2 C1414.7,361.6 1417.3,363.5 1420.0,365.4 C1422.7,367.2 1425.3,368.8 1428.0,370.2 C1430.7,371.6 1433.3,372.8 1436.0,373.9 C1438.7,375.0 1441.3,375.9 1444.0,376.8 C1446.7,377.6 1449.3,378.3 1452.0,379.0 C1454.7,379.6 1457.3,380.2 1460.0,380.7 C1462.7,381.2 1465.3,381.6 1468.0,382.0 C1470.7,382.4 1473.3,382.8 1476.0,383.1 C1478.7,383.4 1481.3,383.6 1484.0,383.9 C1486.7,384.1 1489.3,384.3 1492.0,384.5 C1494.7,384.7 1497.3,384.8 1500.0,385.0 C1502.7,385.1 1505.3,385.2 1508.0,385.3 C1510.7,385.4 1513.3,385.5 1516.0,385.6 C1518.7,385.7 1521.3,385.8 1524.0,385.8 C1526.7,385.9 1529.3,386.0 1532.0,386.0 C1534.7,386.1 1537.3,386.1 1540.0,386.1 C1542.7,386.2 1545.3,386.2 1548.0,386.2 C1550.7,386.3 1553.3,386.3 1556.0,386.3 C1558.7,386.4 1561.3,386.4 1564.0,386.4 C1566.7,386.4 1569.3,386.4 1572.0,386.4 C1574.7,386.5 1577.3,386.5 1580.0,386.5 C1582.7,386.5 1585.3,386.5 1588.0,386.5 C1590.7,386.5 1593.3,386.5 1596.0,386.5 C1598.7,386.5 1601.3,386.5 1604.0,386.5 C1606.7,386.5 1609.3,386.6 1612.0,386.6 C1614.7,386.6 1617.3,386.6 1620.0,386.6 C1622.7,386.6 1625.3,386.6 1628.0,386.6 C1630.7,386.6 1633.3,386.6 1636.0,386.6 C1638.7,386.6 1641.3,386.6 1644.0,386.6 C1646.7,386.6 1649.3,386.6 1652.0,386.6 C1654.7,386.6 1657.3,386.6 1660.0,386.6 C1662.7,386.6 1665.3,386.6 1668.0,386.6 C1670.7,386.6 1673.3,386.6 1676.0,386.6 C1678.7,386.6 1682.7,386.6 1684.0,386.6" fill="none" stroke="#5cb86e" stroke-width="3.2" stroke-linejoin="round" />
</g>
<rect x="1285.40" y="42.10" width="396.40" height="385.20" fill="none" stroke="#111" stroke-width="1.3"/>
<line x1="1285.40" y1="386.60" x2="1300.40" y2="386.60" stroke="#111" stroke-width="1.4" />
<line x1="1285.40" y1="306.35" x2="1300.40" y2="306.35" stroke="#111" stroke-width="1.4" />
<line x1="1285.40" y1="226.10" x2="1300.40" y2="226.10" stroke="#111" stroke-width="1.4" />
<line x1="1285.40" y1="145.85" x2="1300.40" y2="145.85" stroke="#111" stroke-width="1.4" />
<line x1="1285.40" y1="65.60" x2="1300.40" y2="65.60" stroke="#111" stroke-width="1.4" />
<line x1="1326.30" y1="427.30" x2="1326.30" y2="412.30" stroke="#111" stroke-width="1.4" />
<line x1="1409.00" y1="427.30" x2="1409.00" y2="412.30" stroke="#111" stroke-width="1.4" />
<line x1="1491.70" y1="427.30" x2="1491.70" y2="412.30" stroke="#111" stroke-width="1.4" />
<line x1="1574.40" y1="427.30" x2="1574.40" y2="412.30" stroke="#111" stroke-width="1.4" />
<line x1="1657.10" y1="427.30" x2="1657.10" y2="412.30" stroke="#111" stroke-width="1.4" />
<rect x="184.36" y="529.30" width="108.50" height="385.70" fill="#daecf9"/>
<rect x="385.70" y="529.30" width="108.60" height="385.70" fill="#fdd6cd"/>
<g clip-path="url(#cd)">
<line x1="167.50" y1="855.77" x2="167.50" y2="875.58" stroke="#a9dca9" stroke-width="1.3" />
<line x1="173.90" y1="844.26" x2="173.90" y2="883.16" stroke="#a9dca9" stroke-width="1.3" />
<line x1="180.30" y1="878.41" x2="180.30" y2="908.19" stroke="#a9dca9" stroke-width="1.3" />
<line x1="186.70" y1="849.37" x2="186.70" y2="890.95" stroke="#a9dca9" stroke-width="1.3" />
<line x1="193.10" y1="847.71" x2="193.10" y2="888.04" stroke="#a9dca9" stroke-width="1.3" />
<line x1="199.50" y1="852.84" x2="199.50" y2="895.47" stroke="#a9dca9" stroke-width="1.3" />
<line x1="205.90" y1="871.24" x2="205.90" y2="900.13" stroke="#a9dca9" stroke-width="1.3" />
<line x1="212.30" y1="846.79" x2="212.30" y2="891.56" stroke="#a9dca9" stroke-width="1.3" />
<line x1="218.70" y1="866.65" x2="218.70" y2="905.21" stroke="#a9dca9" stroke-width="1.3" />
<line x1="225.10" y1="844.74" x2="225.10" y2="886.77" stroke="#a9dca9" stroke-width="1.3" />
<line x1="231.50" y1="861.14" x2="231.50" y2="884.13" stroke="#a9dca9" stroke-width="1.3" />
<line x1="237.90" y1="853.72" x2="237.90" y2="892.91" stroke="#a9dca9" stroke-width="1.3" />
<line x1="244.30" y1="868.94" x2="244.30" y2="898.94" stroke="#a9dca9" stroke-width="1.3" />
<line x1="250.70" y1="841.80" x2="250.70" y2="885.88" stroke="#a9dca9" stroke-width="1.3" />
<line x1="257.10" y1="859.95" x2="257.10" y2="904.60" stroke="#a9dca9" stroke-width="1.3" />
<line x1="263.50" y1="878.37" x2="263.50" y2="903.11" stroke="#a9dca9" stroke-width="1.3" />
<line x1="269.90" y1="849.81" x2="269.90" y2="879.80" stroke="#a9dca9" stroke-width="1.3" />
<line x1="276.30" y1="876.78" x2="276.30" y2="902.91" stroke="#a9dca9" stroke-width="1.3" />
<line x1="282.70" y1="847.25" x2="282.70" y2="878.48" stroke="#a9dca9" stroke-width="1.3" />
<line x1="289.10" y1="879.67" x2="289.10" y2="906.21" stroke="#a9dca9" stroke-width="1.3" />
<line x1="295.50" y1="864.30" x2="295.50" y2="900.56" stroke="#a9dca9" stroke-width="1.3" />
<line x1="301.90" y1="858.76" x2="301.90" y2="881.12" stroke="#a9dca9" stroke-width="1.3" />
<line x1="308.30" y1="867.14" x2="308.30" y2="890.67" stroke="#a9dca9" stroke-width="1.3" />
<line x1="314.70" y1="847.90" x2="314.70" y2="878.82" stroke="#a9dca9" stroke-width="1.3" />
<line x1="321.10" y1="875.78" x2="321.10" y2="896.87" stroke="#a9dca9" stroke-width="1.3" />
<line x1="327.50" y1="852.28" x2="327.50" y2="881.24" stroke="#a9dca9" stroke-width="1.3" />
<line x1="333.90" y1="845.65" x2="333.90" y2="887.83" stroke="#a9dca9" stroke-width="1.3" />
<line x1="340.30" y1="865.88" x2="340.30" y2="907.74" stroke="#a9dca9" stroke-width="1.3" />
<line x1="346.70" y1="859.34" x2="346.70" y2="883.57" stroke="#a9dca9" stroke-width="1.3" />
<line x1="353.10" y1="864.38" x2="353.10" y2="884.05" stroke="#a9dca9" stroke-width="1.3" />
<line x1="359.50" y1="870.45" x2="359.50" y2="910.85" stroke="#a9dca9" stroke-width="1.3" />
<line x1="365.90" y1="841.81" x2="365.90" y2="885.60" stroke="#a9dca9" stroke-width="1.3" />
<line x1="372.30" y1="870.50" x2="372.30" y2="905.03" stroke="#a9dca9" stroke-width="1.3" />
<line x1="378.70" y1="860.47" x2="378.70" y2="883.16" stroke="#a9dca9" stroke-width="1.3" />
<line x1="385.10" y1="878.59" x2="385.10" y2="903.84" stroke="#a9dca9" stroke-width="1.3" />
<line x1="391.50" y1="844.46" x2="391.50" y2="887.22" stroke="#a9dca9" stroke-width="1.3" />
<line x1="397.90" y1="840.22" x2="397.90" y2="883.42" stroke="#a9dca9" stroke-width="1.3" />
<line x1="404.30" y1="874.81" x2="404.30" y2="894.81" stroke="#a9dca9" stroke-width="1.3" />
<line x1="410.70" y1="854.22" x2="410.70" y2="878.15" stroke="#a9dca9" stroke-width="1.3" />
<line x1="417.10" y1="874.57" x2="417.10" y2="904.75" stroke="#a9dca9" stroke-width="1.3" />
<line x1="423.50" y1="877.26" x2="423.50" y2="903.29" stroke="#a9dca9" stroke-width="1.3" />
<line x1="429.90" y1="844.46" x2="429.90" y2="882.96" stroke="#a9dca9" stroke-width="1.3" />
<line x1="436.30" y1="869.43" x2="436.30" y2="898.18" stroke="#a9dca9" stroke-width="1.3" />
<line x1="442.70" y1="843.27" x2="442.70" y2="882.32" stroke="#a9dca9" stroke-width="1.3" />
<line x1="449.10" y1="880.03" x2="449.10" y2="903.12" stroke="#a9dca9" stroke-width="1.3" />
<line x1="455.50" y1="855.12" x2="455.50" y2="887.59" stroke="#a9dca9" stroke-width="1.3" />
<line x1="461.90" y1="861.31" x2="461.90" y2="905.47" stroke="#a9dca9" stroke-width="1.3" />
<line x1="468.30" y1="852.89" x2="468.30" y2="890.06" stroke="#a9dca9" stroke-width="1.3" />
<line x1="474.70" y1="882.28" x2="474.70" y2="903.79" stroke="#a9dca9" stroke-width="1.3" />
<line x1="481.10" y1="862.17" x2="481.10" y2="884.21" stroke="#a9dca9" stroke-width="1.3" />
<line x1="487.50" y1="850.60" x2="487.50" y2="886.27" stroke="#a9dca9" stroke-width="1.3" />
<line x1="493.90" y1="869.95" x2="493.90" y2="898.75" stroke="#a9dca9" stroke-width="1.3" />
<line x1="500.30" y1="848.93" x2="500.30" y2="877.56" stroke="#a9dca9" stroke-width="1.3" />
<line x1="506.70" y1="869.42" x2="506.70" y2="900.85" stroke="#a9dca9" stroke-width="1.3" />
<line x1="513.10" y1="844.67" x2="513.10" y2="878.77" stroke="#a9dca9" stroke-width="1.3" />
<line x1="519.50" y1="864.66" x2="519.50" y2="908.59" stroke="#a9dca9" stroke-width="1.3" />
<line x1="525.90" y1="869.48" x2="525.90" y2="894.84" stroke="#a9dca9" stroke-width="1.3" />
<line x1="532.30" y1="845.14" x2="532.30" y2="878.90" stroke="#a9dca9" stroke-width="1.3" />
<line x1="538.70" y1="877.94" x2="538.70" y2="903.87" stroke="#a9dca9" stroke-width="1.3" />
<line x1="545.10" y1="852.47" x2="545.10" y2="885.63" stroke="#a9dca9" stroke-width="1.3" />
<line x1="551.50" y1="871.34" x2="551.50" y2="909.26" stroke="#a9dca9" stroke-width="1.3" />
<line x1="557.90" y1="857.33" x2="557.90" y2="879.95" stroke="#a9dca9" stroke-width="1.3" />
<line x1="167.50" y1="826.96" x2="167.50" y2="862.42" stroke="#f2e79a" stroke-width="1.3" />
<line x1="173.90" y1="818.29" x2="173.90" y2="860.21" stroke="#f2e79a" stroke-width="1.3" />
<line x1="180.30" y1="803.12" x2="180.30" y2="824.95" stroke="#f2e79a" stroke-width="1.3" />
<line x1="186.70" y1="813.00" x2="186.70" y2="856.81" stroke="#f2e79a" stroke-width="1.3" />
<line x1="193.10" y1="800.63" x2="193.10" y2="834.29" stroke="#f2e79a" stroke-width="1.3" />
<line x1="199.50" y1="819.94" x2="199.50" y2="856.06" stroke="#f2e79a" stroke-width="1.3" />
<line x1="205.90" y1="810.97" x2="205.90" y2="850.16" stroke="#f2e79a" stroke-width="1.3" />
<line x1="212.30" y1="785.45" x2="212.30" y2="829.89" stroke="#f2e79a" stroke-width="1.3" />
<line x1="218.70" y1="810.57" x2="218.70" y2="833.79" stroke="#f2e79a" stroke-width="1.3" />
<line x1="225.10" y1="810.91" x2="225.10" y2="846.93" stroke="#f2e79a" stroke-width="1.3" />
<line x1="231.50" y1="788.48" x2="231.50" y2="811.19" stroke="#f2e79a" stroke-width="1.3" />
<line x1="237.90" y1="786.37" x2="237.90" y2="819.08" stroke="#f2e79a" stroke-width="1.3" />
<line x1="244.30" y1="815.46" x2="244.30" y2="847.02" stroke="#f2e79a" stroke-width="1.3" />
<line x1="250.70" y1="793.51" x2="250.70" y2="815.73" stroke="#f2e79a" stroke-width="1.3" />
<line x1="257.10" y1="814.43" x2="257.10" y2="844.61" stroke="#f2e79a" stroke-width="1.3" />
<line x1="263.50" y1="815.55" x2="263.50" y2="850.11" stroke="#f2e79a" stroke-width="1.3" />
<line x1="269.90" y1="783.70" x2="269.90" y2="824.16" stroke="#f2e79a" stroke-width="1.3" />
<line x1="276.30" y1="810.26" x2="276.30" y2="858.50" stroke="#f2e79a" stroke-width="1.3" />
<line x1="282.70" y1="796.26" x2="282.70" y2="828.53" stroke="#f2e79a" stroke-width="1.3" />
<line x1="289.10" y1="820.36" x2="289.10" y2="857.23" stroke="#f2e79a" stroke-width="1.3" />
<line x1="295.50" y1="792.52" x2="295.50" y2="834.66" stroke="#f2e79a" stroke-width="1.3" />
<line x1="301.90" y1="825.69" x2="301.90" y2="874.28" stroke="#f2e79a" stroke-width="1.3" />
<line x1="308.30" y1="805.77" x2="308.30" y2="854.72" stroke="#f2e79a" stroke-width="1.3" />
<line x1="314.70" y1="841.97" x2="314.70" y2="892.03" stroke="#f2e79a" stroke-width="1.3" />
<line x1="321.10" y1="823.51" x2="321.10" y2="853.80" stroke="#f2e79a" stroke-width="1.3" />
<line x1="327.50" y1="827.07" x2="327.50" y2="853.47" stroke="#f2e79a" stroke-width="1.3" />
<line x1="333.90" y1="812.37" x2="333.90" y2="860.81" stroke="#f2e79a" stroke-width="1.3" />
<line x1="340.30" y1="852.88" x2="340.30" y2="876.71" stroke="#f2e79a" stroke-width="1.3" />
<line x1="346.70" y1="824.77" x2="346.70" y2="859.29" stroke="#f2e79a" stroke-width="1.3" />
<line x1="353.10" y1="825.42" x2="353.10" y2="868.22" stroke="#f2e79a" stroke-width="1.3" />
<line x1="359.50" y1="850.33" x2="359.50" y2="887.16" stroke="#f2e79a" stroke-width="1.3" />
<line x1="365.90" y1="832.40" x2="365.90" y2="865.19" stroke="#f2e79a" stroke-width="1.3" />
<line x1="372.30" y1="819.41" x2="372.30" y2="867.64" stroke="#f2e79a" stroke-width="1.3" />
<line x1="378.70" y1="849.33" x2="378.70" y2="879.54" stroke="#f2e79a" stroke-width="1.3" />
<line x1="385.10" y1="820.48" x2="385.10" y2="857.97" stroke="#f2e79a" stroke-width="1.3" />
<line x1="391.50" y1="843.94" x2="391.50" y2="889.43" stroke="#f2e79a" stroke-width="1.3" />
<line x1="397.90" y1="833.45" x2="397.90" y2="859.03" stroke="#f2e79a" stroke-width="1.3" />
<line x1="404.30" y1="852.76" x2="404.30" y2="884.47" stroke="#f2e79a" stroke-width="1.3" />
<line x1="410.70" y1="830.00" x2="410.70" y2="865.84" stroke="#f2e79a" stroke-width="1.3" />
<line x1="417.10" y1="848.40" x2="417.10" y2="886.30" stroke="#f2e79a" stroke-width="1.3" />
<line x1="423.50" y1="837.24" x2="423.50" y2="864.81" stroke="#f2e79a" stroke-width="1.3" />
<line x1="429.90" y1="837.27" x2="429.90" y2="871.95" stroke="#f2e79a" stroke-width="1.3" />
<line x1="436.30" y1="819.62" x2="436.30" y2="842.94" stroke="#f2e79a" stroke-width="1.3" />
<line x1="442.70" y1="826.11" x2="442.70" y2="850.24" stroke="#f2e79a" stroke-width="1.3" />
<line x1="449.10" y1="810.53" x2="449.10" y2="841.98" stroke="#f2e79a" stroke-width="1.3" />
<line x1="455.50" y1="837.08" x2="455.50" y2="862.82" stroke="#f2e79a" stroke-width="1.3" />
<line x1="461.90" y1="799.27" x2="461.90" y2="848.73" stroke="#f2e79a" stroke-width="1.3" />
<line x1="468.30" y1="833.36" x2="468.30" y2="862.54" stroke="#f2e79a" stroke-width="1.3" />
<line x1="474.70" y1="807.31" x2="474.70" y2="836.85" stroke="#f2e79a" stroke-width="1.3" />
<line x1="481.10" y1="815.90" x2="481.10" y2="860.07" stroke="#f2e79a" stroke-width="1.3" />
<line x1="487.50" y1="794.63" x2="487.50" y2="837.58" stroke="#f2e79a" stroke-width="1.3" />
<line x1="493.90" y1="810.79" x2="493.90" y2="839.94" stroke="#f2e79a" stroke-width="1.3" />
<line x1="500.30" y1="793.19" x2="500.30" y2="838.67" stroke="#f2e79a" stroke-width="1.3" />
<line x1="506.70" y1="827.56" x2="506.70" y2="867.18" stroke="#f2e79a" stroke-width="1.3" />
<line x1="513.10" y1="824.27" x2="513.10" y2="857.06" stroke="#f2e79a" stroke-width="1.3" />
<line x1="519.50" y1="820.30" x2="519.50" y2="860.01" stroke="#f2e79a" stroke-width="1.3" />
<line x1="525.90" y1="807.29" x2="525.90" y2="835.97" stroke="#f2e79a" stroke-width="1.3" />
<line x1="532.30" y1="826.33" x2="532.30" y2="855.52" stroke="#f2e79a" stroke-width="1.3" />
<line x1="538.70" y1="821.77" x2="538.70" y2="868.61" stroke="#f2e79a" stroke-width="1.3" />
<line x1="545.10" y1="799.87" x2="545.10" y2="834.10" stroke="#f2e79a" stroke-width="1.3" />
<line x1="551.50" y1="800.31" x2="551.50" y2="847.75" stroke="#f2e79a" stroke-width="1.3" />
<line x1="557.90" y1="835.86" x2="557.90" y2="862.56" stroke="#f2e79a" stroke-width="1.3" />
<line x1="167.50" y1="797.53" x2="167.50" y2="831.61" stroke="#fbcbb0" stroke-width="1.3" />
<line x1="173.90" y1="812.39" x2="173.90" y2="843.19" stroke="#fbcbb0" stroke-width="1.3" />
<line x1="180.30" y1="758.70" x2="180.30" y2="815.90" stroke="#fbcbb0" stroke-width="1.3" />
<line x1="186.70" y1="783.88" x2="186.70" y2="834.23" stroke="#fbcbb0" stroke-width="1.3" />
<line x1="193.10" y1="789.94" x2="193.10" y2="819.11" stroke="#fbcbb0" stroke-width="1.3" />
<line x1="199.50" y1="794.59" x2="199.50" y2="825.05" stroke="#fbcbb0" stroke-width="1.3" />
<line x1="205.90" y1="744.90" x2="205.90" y2="805.35" stroke="#fbcbb0" stroke-width="1.3" />
<line x1="212.30" y1="751.91" x2="212.30" y2="799.69" stroke="#fbcbb0" stroke-width="1.3" />
<line x1="218.70" y1="757.16" x2="218.70" y2="819.41" stroke="#fbcbb0" stroke-width="1.3" />
<line x1="225.10" y1="770.97" x2="225.10" y2="801.29" stroke="#fbcbb0" stroke-width="1.3" />
<line x1="231.50" y1="720.65" x2="231.50" y2="772.07" stroke="#fbcbb0" stroke-width="1.3" />
<line x1="237.90" y1="753.48" x2="237.90" y2="786.79" stroke="#fbcbb0" stroke-width="1.3" />
<line x1="244.30" y1="716.56" x2="244.30" y2="773.05" stroke="#fbcbb0" stroke-width="1.3" />
<line x1="250.70" y1="709.20" x2="250.70" y2="761.48" stroke="#fbcbb0" stroke-width="1.3" />
<line x1="257.10" y1="753.26" x2="257.10" y2="805.56" stroke="#fbcbb0" stroke-width="1.3" />
<line x1="263.50" y1="720.81" x2="263.50" y2="758.11" stroke="#fbcbb0" stroke-width="1.3" />
<line x1="269.90" y1="723.84" x2="269.90" y2="789.08" stroke="#fbcbb0" stroke-width="1.3" />
<line x1="276.30" y1="767.54" x2="276.30" y2="800.61" stroke="#fbcbb0" stroke-width="1.3" />
<line x1="282.70" y1="780.65" x2="282.70" y2="811.91" stroke="#fbcbb0" stroke-width="1.3" />
<line x1="289.10" y1="752.03" x2="289.10" y2="807.10" stroke="#fbcbb0" stroke-width="1.3" />
<line x1="295.50" y1="801.21" x2="295.50" y2="833.57" stroke="#fbcbb0" stroke-width="1.3" />
<line x1="301.90" y1="782.03" x2="301.90" y2="813.40" stroke="#fbcbb0" stroke-width="1.3" />
<line x1="308.30" y1="775.05" x2="308.30" y2="821.53" stroke="#fbcbb0" stroke-width="1.3" />
<line x1="314.70" y1="799.29" x2="314.70" y2="853.01" stroke="#fbcbb0" stroke-width="1.3" />
<line x1="321.10" y1="771.04" x2="321.10" y2="834.09" stroke="#fbcbb0" stroke-width="1.3" />
<line x1="327.50" y1="801.03" x2="327.50" y2="857.51" stroke="#fbcbb0" stroke-width="1.3" />
<line x1="333.90" y1="780.75" x2="333.90" y2="812.21" stroke="#fbcbb0" stroke-width="1.3" />
<line x1="340.30" y1="791.76" x2="340.30" y2="845.26" stroke="#fbcbb0" stroke-width="1.3" />
<line x1="346.70" y1="753.44" x2="346.70" y2="814.64" stroke="#fbcbb0" stroke-width="1.3" />
<line x1="353.10" y1="773.28" x2="353.10" y2="806.71" stroke="#fbcbb0" stroke-width="1.3" />
<line x1="359.50" y1="796.87" x2="359.50" y2="854.64" stroke="#fbcbb0" stroke-width="1.3" />
<line x1="365.90" y1="770.77" x2="365.90" y2="809.51" stroke="#fbcbb0" stroke-width="1.3" />
<line x1="372.30" y1="801.66" x2="372.30" y2="841.93" stroke="#fbcbb0" stroke-width="1.3" />
<line x1="378.70" y1="761.03" x2="378.70" y2="789.89" stroke="#fbcbb0" stroke-width="1.3" />
<line x1="385.10" y1="774.87" x2="385.10" y2="832.79" stroke="#fbcbb0" stroke-width="1.3" />
<line x1="391.50" y1="769.93" x2="391.50" y2="818.53" stroke="#fbcbb0" stroke-width="1.3" />
<line x1="397.90" y1="726.31" x2="397.90" y2="789.74" stroke="#fbcbb0" stroke-width="1.3" />
<line x1="404.30" y1="772.81" x2="404.30" y2="819.49" stroke="#fbcbb0" stroke-width="1.3" />
<line x1="410.70" y1="746.04" x2="410.70" y2="780.81" stroke="#fbcbb0" stroke-width="1.3" />
<line x1="417.10" y1="782.42" x2="417.10" y2="819.52" stroke="#fbcbb0" stroke-width="1.3" />
<line x1="423.50" y1="771.74" x2="423.50" y2="810.65" stroke="#fbcbb0" stroke-width="1.3" />
<line x1="429.90" y1="738.23" x2="429.90" y2="803.39" stroke="#fbcbb0" stroke-width="1.3" />
<line x1="436.30" y1="783.86" x2="436.30" y2="820.54" stroke="#fbcbb0" stroke-width="1.3" />
<line x1="442.70" y1="761.96" x2="442.70" y2="794.14" stroke="#fbcbb0" stroke-width="1.3" />
<line x1="449.10" y1="770.50" x2="449.10" y2="812.84" stroke="#fbcbb0" stroke-width="1.3" />
<line x1="455.50" y1="807.88" x2="455.50" y2="839.72" stroke="#fbcbb0" stroke-width="1.3" />
<line x1="461.90" y1="803.98" x2="461.90" y2="849.11" stroke="#fbcbb0" stroke-width="1.3" />
<line x1="468.30" y1="762.87" x2="468.30" y2="815.54" stroke="#fbcbb0" stroke-width="1.3" />
<line x1="474.70" y1="750.96" x2="474.70" y2="804.75" stroke="#fbcbb0" stroke-width="1.3" />
<line x1="481.10" y1="790.95" x2="481.10" y2="826.46" stroke="#fbcbb0" stroke-width="1.3" />
<line x1="487.50" y1="786.07" x2="487.50" y2="820.20" stroke="#fbcbb0" stroke-width="1.3" />
<line x1="493.90" y1="734.54" x2="493.90" y2="782.20" stroke="#fbcbb0" stroke-width="1.3" />
<line x1="500.30" y1="766.26" x2="500.30" y2="821.45" stroke="#fbcbb0" stroke-width="1.3" />
<line x1="506.70" y1="736.52" x2="506.70" y2="782.50" stroke="#fbcbb0" stroke-width="1.3" />
<line x1="513.10" y1="770.40" x2="513.10" y2="821.21" stroke="#fbcbb0" stroke-width="1.3" />
<line x1="519.50" y1="734.65" x2="519.50" y2="798.47" stroke="#fbcbb0" stroke-width="1.3" />
<line x1="525.90" y1="755.46" x2="525.90" y2="789.83" stroke="#fbcbb0" stroke-width="1.3" />
<line x1="532.30" y1="724.63" x2="532.30" y2="763.71" stroke="#fbcbb0" stroke-width="1.3" />
<line x1="538.70" y1="735.15" x2="538.70" y2="782.91" stroke="#fbcbb0" stroke-width="1.3" />
<line x1="545.10" y1="705.19" x2="545.10" y2="754.58" stroke="#fbcbb0" stroke-width="1.3" />
<line x1="551.50" y1="710.76" x2="551.50" y2="774.13" stroke="#fbcbb0" stroke-width="1.3" />
<line x1="557.90" y1="749.17" x2="557.90" y2="799.29" stroke="#fbcbb0" stroke-width="1.3" />
<line x1="167.50" y1="845.22" x2="167.50" y2="894.94" stroke="#fba4b6" stroke-width="1.3" />
<line x1="173.90" y1="853.67" x2="173.90" y2="894.84" stroke="#fba4b6" stroke-width="1.3" />
<line x1="180.30" y1="877.93" x2="180.30" y2="931.94" stroke="#fba4b6" stroke-width="1.3" />
<line x1="186.70" y1="846.14" x2="186.70" y2="901.97" stroke="#fba4b6" stroke-width="1.3" />
<line x1="193.10" y1="891.11" x2="193.10" y2="927.84" stroke="#fba4b6" stroke-width="1.3" />
<line x1="199.50" y1="858.10" x2="199.50" y2="888.29" stroke="#fba4b6" stroke-width="1.3" />
<line x1="205.90" y1="888.40" x2="205.90" y2="923.92" stroke="#fba4b6" stroke-width="1.3" />
<line x1="212.30" y1="847.08" x2="212.30" y2="886.07" stroke="#fba4b6" stroke-width="1.3" />
<line x1="218.70" y1="852.28" x2="218.70" y2="910.00" stroke="#fba4b6" stroke-width="1.3" />
<line x1="225.10" y1="836.05" x2="225.10" y2="871.76" stroke="#fba4b6" stroke-width="1.3" />
<line x1="231.50" y1="843.73" x2="231.50" y2="892.28" stroke="#fba4b6" stroke-width="1.3" />
<line x1="237.90" y1="816.42" x2="237.90" y2="865.37" stroke="#fba4b6" stroke-width="1.3" />
<line x1="244.30" y1="839.83" x2="244.30" y2="899.89" stroke="#fba4b6" stroke-width="1.3" />
<line x1="250.70" y1="828.05" x2="250.70" y2="858.55" stroke="#fba4b6" stroke-width="1.3" />
<line x1="257.10" y1="828.95" x2="257.10" y2="882.45" stroke="#fba4b6" stroke-width="1.3" />
<line x1="263.50" y1="834.90" x2="263.50" y2="873.15" stroke="#fba4b6" stroke-width="1.3" />
<line x1="269.90" y1="800.78" x2="269.90" y2="830.80" stroke="#fba4b6" stroke-width="1.3" />
<line x1="276.30" y1="830.07" x2="276.30" y2="878.72" stroke="#fba4b6" stroke-width="1.3" />
<line x1="282.70" y1="802.33" x2="282.70" y2="858.45" stroke="#fba4b6" stroke-width="1.3" />
<line x1="289.10" y1="798.58" x2="289.10" y2="845.49" stroke="#fba4b6" stroke-width="1.3" />
<line x1="295.50" y1="838.07" x2="295.50" y2="866.23" stroke="#fba4b6" stroke-width="1.3" />
<line x1="301.90" y1="828.60" x2="301.90" y2="889.22" stroke="#fba4b6" stroke-width="1.3" />
<line x1="308.30" y1="827.48" x2="308.30" y2="867.40" stroke="#fba4b6" stroke-width="1.3" />
<line x1="314.70" y1="803.63" x2="314.70" y2="852.43" stroke="#fba4b6" stroke-width="1.3" />
<line x1="321.10" y1="824.27" x2="321.10" y2="876.15" stroke="#fba4b6" stroke-width="1.3" />
<line x1="327.50" y1="813.75" x2="327.50" y2="849.32" stroke="#fba4b6" stroke-width="1.3" />
<line x1="333.90" y1="829.93" x2="333.90" y2="870.70" stroke="#fba4b6" stroke-width="1.3" />
<line x1="340.30" y1="839.93" x2="340.30" y2="877.92" stroke="#fba4b6" stroke-width="1.3" />
<line x1="346.70" y1="839.47" x2="346.70" y2="869.24" stroke="#fba4b6" stroke-width="1.3" />
<line x1="353.10" y1="840.74" x2="353.10" y2="869.41" stroke="#fba4b6" stroke-width="1.3" />
<line x1="359.50" y1="797.44" x2="359.50" y2="849.07" stroke="#fba4b6" stroke-width="1.3" />
<line x1="365.90" y1="819.54" x2="365.90" y2="860.39" stroke="#fba4b6" stroke-width="1.3" />
<line x1="372.30" y1="781.41" x2="372.30" y2="838.42" stroke="#fba4b6" stroke-width="1.3" />
<line x1="378.70" y1="795.04" x2="378.70" y2="823.65" stroke="#fba4b6" stroke-width="1.3" />
<line x1="385.10" y1="793.23" x2="385.10" y2="830.24" stroke="#fba4b6" stroke-width="1.3" />
<line x1="391.50" y1="783.89" x2="391.50" y2="816.63" stroke="#fba4b6" stroke-width="1.3" />
<line x1="397.90" y1="742.79" x2="397.90" y2="802.40" stroke="#fba4b6" stroke-width="1.3" />
<line x1="404.30" y1="774.25" x2="404.30" y2="828.47" stroke="#fba4b6" stroke-width="1.3" />
<line x1="410.70" y1="749.20" x2="410.70" y2="807.15" stroke="#fba4b6" stroke-width="1.3" />
<line x1="417.10" y1="765.34" x2="417.10" y2="809.56" stroke="#fba4b6" stroke-width="1.3" />
<line x1="423.50" y1="748.75" x2="423.50" y2="778.82" stroke="#fba4b6" stroke-width="1.3" />
<line x1="429.90" y1="743.87" x2="429.90" y2="784.92" stroke="#fba4b6" stroke-width="1.3" />
<line x1="436.30" y1="765.19" x2="436.30" y2="799.55" stroke="#fba4b6" stroke-width="1.3" />
<line x1="442.70" y1="749.49" x2="442.70" y2="776.84" stroke="#fba4b6" stroke-width="1.3" />
<line x1="449.10" y1="769.30" x2="449.10" y2="815.58" stroke="#fba4b6" stroke-width="1.3" />
<line x1="455.50" y1="752.25" x2="455.50" y2="788.86" stroke="#fba4b6" stroke-width="1.3" />
<line x1="461.90" y1="806.40" x2="461.90" y2="836.60" stroke="#fba4b6" stroke-width="1.3" />
<line x1="468.30" y1="769.07" x2="468.30" y2="813.48" stroke="#fba4b6" stroke-width="1.3" />
<line x1="474.70" y1="801.04" x2="474.70" y2="860.29" stroke="#fba4b6" stroke-width="1.3" />
<line x1="481.10" y1="759.30" x2="481.10" y2="819.00" stroke="#fba4b6" stroke-width="1.3" />
<line x1="487.50" y1="797.20" x2="487.50" y2="840.01" stroke="#fba4b6" stroke-width="1.3" />
<line x1="493.90" y1="776.01" x2="493.90" y2="806.03" stroke="#fba4b6" stroke-width="1.3" />
<line x1="500.30" y1="774.15" x2="500.30" y2="827.61" stroke="#fba4b6" stroke-width="1.3" />
<line x1="506.70" y1="768.99" x2="506.70" y2="799.43" stroke="#fba4b6" stroke-width="1.3" />
<line x1="513.10" y1="785.26" x2="513.10" y2="830.58" stroke="#fba4b6" stroke-width="1.3" />
<line x1="519.50" y1="761.14" x2="519.50" y2="790.49" stroke="#fba4b6" stroke-width="1.3" />
<line x1="525.90" y1="766.58" x2="525.90" y2="827.73" stroke="#fba4b6" stroke-width="1.3" />
<line x1="532.30" y1="752.04" x2="532.30" y2="797.55" stroke="#fba4b6" stroke-width="1.3" />
<line x1="538.70" y1="779.99" x2="538.70" y2="821.78" stroke="#fba4b6" stroke-width="1.3" />
<line x1="545.10" y1="744.12" x2="545.10" y2="780.10" stroke="#fba4b6" stroke-width="1.3" />
<line x1="551.50" y1="769.70" x2="551.50" y2="815.49" stroke="#fba4b6" stroke-width="1.3" />
<line x1="557.90" y1="765.78" x2="557.90" y2="826.43" stroke="#fba4b6" stroke-width="1.3" />
<line x1="167.50" y1="825.81" x2="167.50" y2="871.04" stroke="#f2a2ec" stroke-width="1.3" />
<line x1="173.90" y1="855.36" x2="173.90" y2="892.20" stroke="#f2a2ec" stroke-width="1.3" />
<line x1="180.30" y1="821.84" x2="180.30" y2="870.40" stroke="#f2a2ec" stroke-width="1.3" />
<line x1="186.70" y1="852.87" x2="186.70" y2="916.93" stroke="#f2a2ec" stroke-width="1.3" />
<line x1="193.10" y1="847.49" x2="193.10" y2="890.95" stroke="#f2a2ec" stroke-width="1.3" />
<line x1="199.50" y1="837.80" x2="199.50" y2="890.94" stroke="#f2a2ec" stroke-width="1.3" />
<line x1="205.90" y1="837.50" x2="205.90" y2="901.58" stroke="#f2a2ec" stroke-width="1.3" />
<line x1="212.30" y1="858.45" x2="212.30" y2="899.76" stroke="#f2a2ec" stroke-width="1.3" />
<line x1="218.70" y1="827.29" x2="218.70" y2="887.23" stroke="#f2a2ec" stroke-width="1.3" />
<line x1="225.10" y1="845.33" x2="225.10" y2="894.45" stroke="#f2a2ec" stroke-width="1.3" />
<line x1="231.50" y1="831.43" x2="231.50" y2="865.58" stroke="#f2a2ec" stroke-width="1.3" />
<line x1="237.90" y1="860.92" x2="237.90" y2="891.78" stroke="#f2a2ec" stroke-width="1.3" />
<line x1="244.30" y1="809.66" x2="244.30" y2="874.52" stroke="#f2a2ec" stroke-width="1.3" />
<line x1="250.70" y1="843.19" x2="250.70" y2="889.88" stroke="#f2a2ec" stroke-width="1.3" />
<line x1="257.10" y1="810.57" x2="257.10" y2="856.38" stroke="#f2a2ec" stroke-width="1.3" />
<line x1="263.50" y1="822.46" x2="263.50" y2="886.50" stroke="#f2a2ec" stroke-width="1.3" />
<line x1="269.90" y1="825.31" x2="269.90" y2="876.16" stroke="#f2a2ec" stroke-width="1.3" />
<line x1="276.30" y1="818.12" x2="276.30" y2="866.13" stroke="#f2a2ec" stroke-width="1.3" />
<line x1="282.70" y1="796.88" x2="282.70" y2="836.59" stroke="#f2a2ec" stroke-width="1.3" />
<line x1="289.10" y1="813.41" x2="289.10" y2="870.79" stroke="#f2a2ec" stroke-width="1.3" />
<line x1="295.50" y1="782.72" x2="295.50" y2="821.36" stroke="#f2a2ec" stroke-width="1.3" />
<line x1="301.90" y1="810.56" x2="301.90" y2="857.42" stroke="#f2a2ec" stroke-width="1.3" />
<line x1="308.30" y1="767.87" x2="308.30" y2="825.80" stroke="#f2a2ec" stroke-width="1.3" />
<line x1="314.70" y1="780.33" x2="314.70" y2="832.35" stroke="#f2a2ec" stroke-width="1.3" />
<line x1="321.10" y1="811.20" x2="321.10" y2="845.15" stroke="#f2a2ec" stroke-width="1.3" />
<line x1="327.50" y1="776.24" x2="327.50" y2="812.82" stroke="#f2a2ec" stroke-width="1.3" />
<line x1="333.90" y1="770.98" x2="333.90" y2="826.47" stroke="#f2a2ec" stroke-width="1.3" />
<line x1="340.30" y1="784.77" x2="340.30" y2="841.56" stroke="#f2a2ec" stroke-width="1.3" />
<line x1="346.70" y1="782.52" x2="346.70" y2="815.26" stroke="#f2a2ec" stroke-width="1.3" />
<line x1="353.10" y1="786.58" x2="353.10" y2="853.69" stroke="#f2a2ec" stroke-width="1.3" />
<line x1="359.50" y1="772.22" x2="359.50" y2="806.15" stroke="#f2a2ec" stroke-width="1.3" />
<line x1="365.90" y1="765.88" x2="365.90" y2="801.12" stroke="#f2a2ec" stroke-width="1.3" />
<line x1="372.30" y1="737.13" x2="372.30" y2="769.38" stroke="#f2a2ec" stroke-width="1.3" />
<line x1="378.70" y1="737.38" x2="378.70" y2="783.32" stroke="#f2a2ec" stroke-width="1.3" />
<line x1="385.10" y1="707.32" x2="385.10" y2="759.91" stroke="#f2a2ec" stroke-width="1.3" />
<line x1="391.50" y1="691.74" x2="391.50" y2="753.46" stroke="#f2a2ec" stroke-width="1.3" />
<line x1="397.90" y1="697.39" x2="397.90" y2="732.45" stroke="#f2a2ec" stroke-width="1.3" />
<line x1="404.30" y1="691.42" x2="404.30" y2="747.05" stroke="#f2a2ec" stroke-width="1.3" />
<line x1="410.70" y1="747.62" x2="410.70" y2="780.46" stroke="#f2a2ec" stroke-width="1.3" />
<line x1="417.10" y1="700.28" x2="417.10" y2="751.37" stroke="#f2a2ec" stroke-width="1.3" />
<line x1="423.50" y1="745.78" x2="423.50" y2="784.25" stroke="#f2a2ec" stroke-width="1.3" />
<line x1="429.90" y1="697.73" x2="429.90" y2="740.21" stroke="#f2a2ec" stroke-width="1.3" />
<line x1="436.30" y1="727.05" x2="436.30" y2="757.86" stroke="#f2a2ec" stroke-width="1.3" />
<line x1="442.70" y1="697.87" x2="442.70" y2="754.34" stroke="#f2a2ec" stroke-width="1.3" />
<line x1="449.10" y1="739.33" x2="449.10" y2="772.82" stroke="#f2a2ec" stroke-width="1.3" />
<line x1="455.50" y1="706.01" x2="455.50" y2="764.15" stroke="#f2a2ec" stroke-width="1.3" />
<line x1="461.90" y1="709.90" x2="461.90" y2="751.62" stroke="#f2a2ec" stroke-width="1.3" />
<line x1="468.30" y1="733.02" x2="468.30" y2="784.54" stroke="#f2a2ec" stroke-width="1.3" />
<line x1="474.70" y1="709.96" x2="474.70" y2="763.30" stroke="#f2a2ec" stroke-width="1.3" />
<line x1="481.10" y1="698.00" x2="481.10" y2="745.56" stroke="#f2a2ec" stroke-width="1.3" />
<line x1="487.50" y1="722.63" x2="487.50" y2="784.98" stroke="#f2a2ec" stroke-width="1.3" />
<line x1="493.90" y1="703.08" x2="493.90" y2="767.19" stroke="#f2a2ec" stroke-width="1.3" />
<line x1="500.30" y1="737.27" x2="500.30" y2="776.90" stroke="#f2a2ec" stroke-width="1.3" />
<line x1="506.70" y1="711.32" x2="506.70" y2="752.94" stroke="#f2a2ec" stroke-width="1.3" />
<line x1="513.10" y1="725.37" x2="513.10" y2="787.85" stroke="#f2a2ec" stroke-width="1.3" />
<line x1="519.50" y1="719.75" x2="519.50" y2="753.65" stroke="#f2a2ec" stroke-width="1.3" />
<line x1="525.90" y1="736.58" x2="525.90" y2="781.51" stroke="#f2a2ec" stroke-width="1.3" />
<line x1="532.30" y1="744.48" x2="532.30" y2="789.20" stroke="#f2a2ec" stroke-width="1.3" />
<line x1="538.70" y1="703.17" x2="538.70" y2="769.46" stroke="#f2a2ec" stroke-width="1.3" />
<line x1="545.10" y1="717.70" x2="545.10" y2="751.43" stroke="#f2a2ec" stroke-width="1.3" />
<line x1="551.50" y1="744.07" x2="551.50" y2="798.02" stroke="#f2a2ec" stroke-width="1.3" />
<line x1="557.90" y1="777.57" x2="557.90" y2="835.44" stroke="#f2a2ec" stroke-width="1.3" />
<line x1="167.50" y1="794.35" x2="167.50" y2="846.38" stroke="#d4b9f4" stroke-width="1.3" />
<line x1="173.90" y1="823.05" x2="173.90" y2="849.48" stroke="#d4b9f4" stroke-width="1.3" />
<line x1="180.30" y1="810.02" x2="180.30" y2="869.64" stroke="#d4b9f4" stroke-width="1.3" />
<line x1="186.70" y1="788.73" x2="186.70" y2="826.13" stroke="#d4b9f4" stroke-width="1.3" />
<line x1="193.10" y1="805.02" x2="193.10" y2="861.45" stroke="#d4b9f4" stroke-width="1.3" />
<line x1="199.50" y1="771.31" x2="199.50" y2="820.98" stroke="#d4b9f4" stroke-width="1.3" />
<line x1="205.90" y1="797.26" x2="205.90" y2="838.47" stroke="#d4b9f4" stroke-width="1.3" />
<line x1="212.30" y1="772.20" x2="212.30" y2="828.09" stroke="#d4b9f4" stroke-width="1.3" />
<line x1="218.70" y1="787.81" x2="218.70" y2="838.00" stroke="#d4b9f4" stroke-width="1.3" />
<line x1="225.10" y1="788.25" x2="225.10" y2="826.61" stroke="#d4b9f4" stroke-width="1.3" />
<line x1="231.50" y1="760.58" x2="231.50" y2="812.74" stroke="#d4b9f4" stroke-width="1.3" />
<line x1="237.90" y1="752.58" x2="237.90" y2="796.76" stroke="#d4b9f4" stroke-width="1.3" />
<line x1="244.30" y1="757.67" x2="244.30" y2="809.12" stroke="#d4b9f4" stroke-width="1.3" />
<line x1="250.70" y1="781.13" x2="250.70" y2="829.16" stroke="#d4b9f4" stroke-width="1.3" />
<line x1="257.10" y1="783.03" x2="257.10" y2="837.45" stroke="#d4b9f4" stroke-width="1.3" />
<line x1="263.50" y1="775.79" x2="263.50" y2="807.80" stroke="#d4b9f4" stroke-width="1.3" />
<line x1="269.90" y1="793.69" x2="269.90" y2="837.50" stroke="#d4b9f4" stroke-width="1.3" />
<line x1="276.30" y1="792.79" x2="276.30" y2="819.24" stroke="#d4b9f4" stroke-width="1.3" />
<line x1="282.70" y1="782.11" x2="282.70" y2="836.35" stroke="#d4b9f4" stroke-width="1.3" />
<line x1="289.10" y1="757.70" x2="289.10" y2="811.26" stroke="#d4b9f4" stroke-width="1.3" />
<line x1="295.50" y1="784.75" x2="295.50" y2="840.62" stroke="#d4b9f4" stroke-width="1.3" />
<line x1="301.90" y1="773.76" x2="301.90" y2="801.68" stroke="#d4b9f4" stroke-width="1.3" />
<line x1="308.30" y1="779.88" x2="308.30" y2="825.12" stroke="#d4b9f4" stroke-width="1.3" />
<line x1="314.70" y1="748.82" x2="314.70" y2="792.06" stroke="#d4b9f4" stroke-width="1.3" />
<line x1="321.10" y1="764.63" x2="321.10" y2="795.24" stroke="#d4b9f4" stroke-width="1.3" />
<line x1="327.50" y1="745.69" x2="327.50" y2="779.22" stroke="#d4b9f4" stroke-width="1.3" />
<line x1="333.90" y1="754.02" x2="333.90" y2="814.72" stroke="#d4b9f4" stroke-width="1.3" />
<line x1="340.30" y1="718.48" x2="340.30" y2="774.89" stroke="#d4b9f4" stroke-width="1.3" />
<line x1="346.70" y1="729.26" x2="346.70" y2="764.04" stroke="#d4b9f4" stroke-width="1.3" />
<line x1="353.10" y1="747.46" x2="353.10" y2="803.04" stroke="#d4b9f4" stroke-width="1.3" />
<line x1="359.50" y1="712.82" x2="359.50" y2="762.14" stroke="#d4b9f4" stroke-width="1.3" />
<line x1="365.90" y1="742.65" x2="365.90" y2="782.60" stroke="#d4b9f4" stroke-width="1.3" />
<line x1="372.30" y1="706.06" x2="372.30" y2="755.15" stroke="#d4b9f4" stroke-width="1.3" />
<line x1="378.70" y1="724.12" x2="378.70" y2="758.58" stroke="#d4b9f4" stroke-width="1.3" />
<line x1="385.10" y1="692.39" x2="385.10" y2="728.43" stroke="#d4b9f4" stroke-width="1.3" />
<line x1="391.50" y1="707.59" x2="391.50" y2="734.35" stroke="#d4b9f4" stroke-width="1.3" />
<line x1="397.90" y1="666.32" x2="397.90" y2="715.83" stroke="#d4b9f4" stroke-width="1.3" />
<line x1="404.30" y1="667.79" x2="404.30" y2="714.66" stroke="#d4b9f4" stroke-width="1.3" />
<line x1="410.70" y1="683.19" x2="410.70" y2="735.76" stroke="#d4b9f4" stroke-width="1.3" />
<line x1="417.10" y1="702.22" x2="417.10" y2="746.35" stroke="#d4b9f4" stroke-width="1.3" />
<line x1="423.50" y1="707.21" x2="423.50" y2="748.92" stroke="#d4b9f4" stroke-width="1.3" />
<line x1="429.90" y1="673.58" x2="429.90" y2="710.76" stroke="#d4b9f4" stroke-width="1.3" />
<line x1="436.30" y1="700.58" x2="436.30" y2="752.86" stroke="#d4b9f4" stroke-width="1.3" />
<line x1="442.70" y1="687.15" x2="442.70" y2="726.67" stroke="#d4b9f4" stroke-width="1.3" />
<line x1="449.10" y1="693.50" x2="449.10" y2="740.90" stroke="#d4b9f4" stroke-width="1.3" />
<line x1="455.50" y1="686.89" x2="455.50" y2="739.96" stroke="#d4b9f4" stroke-width="1.3" />
<line x1="461.90" y1="706.77" x2="461.90" y2="748.82" stroke="#d4b9f4" stroke-width="1.3" />
<line x1="468.30" y1="688.22" x2="468.30" y2="738.77" stroke="#d4b9f4" stroke-width="1.3" />
<line x1="474.70" y1="721.38" x2="474.70" y2="749.94" stroke="#d4b9f4" stroke-width="1.3" />
<line x1="481.10" y1="711.34" x2="481.10" y2="746.91" stroke="#d4b9f4" stroke-width="1.3" />
<line x1="487.50" y1="680.99" x2="487.50" y2="736.98" stroke="#d4b9f4" stroke-width="1.3" />
<line x1="493.90" y1="714.18" x2="493.90" y2="745.77" stroke="#d4b9f4" stroke-width="1.3" />
<line x1="500.30" y1="697.55" x2="500.30" y2="725.95" stroke="#d4b9f4" stroke-width="1.3" />
<line x1="506.70" y1="705.72" x2="506.70" y2="732.63" stroke="#d4b9f4" stroke-width="1.3" />
<line x1="513.10" y1="711.67" x2="513.10" y2="765.04" stroke="#d4b9f4" stroke-width="1.3" />
<line x1="519.50" y1="697.43" x2="519.50" y2="727.57" stroke="#d4b9f4" stroke-width="1.3" />
<line x1="525.90" y1="725.55" x2="525.90" y2="768.07" stroke="#d4b9f4" stroke-width="1.3" />
<line x1="532.30" y1="721.91" x2="532.30" y2="763.75" stroke="#d4b9f4" stroke-width="1.3" />
<line x1="538.70" y1="696.69" x2="538.70" y2="751.35" stroke="#d4b9f4" stroke-width="1.3" />
<line x1="545.10" y1="700.79" x2="545.10" y2="743.97" stroke="#d4b9f4" stroke-width="1.3" />
<line x1="551.50" y1="741.73" x2="551.50" y2="786.50" stroke="#d4b9f4" stroke-width="1.3" />
<line x1="557.90" y1="757.27" x2="557.90" y2="784.55" stroke="#d4b9f4" stroke-width="1.3" />
<line x1="167.50" y1="834.07" x2="167.50" y2="893.41" stroke="#a9c5f4" stroke-width="1.3" />
<line x1="173.90" y1="808.20" x2="173.90" y2="866.46" stroke="#a9c5f4" stroke-width="1.3" />
<line x1="180.30" y1="825.78" x2="180.30" y2="878.52" stroke="#a9c5f4" stroke-width="1.3" />
<line x1="186.70" y1="844.02" x2="186.70" y2="904.88" stroke="#a9c5f4" stroke-width="1.3" />
<line x1="193.10" y1="831.50" x2="193.10" y2="883.88" stroke="#a9c5f4" stroke-width="1.3" />
<line x1="199.50" y1="853.81" x2="199.50" y2="910.11" stroke="#a9c5f4" stroke-width="1.3" />
<line x1="205.90" y1="822.35" x2="205.90" y2="883.82" stroke="#a9c5f4" stroke-width="1.3" />
<line x1="212.30" y1="856.32" x2="212.30" y2="908.83" stroke="#a9c5f4" stroke-width="1.3" />
<line x1="218.70" y1="829.83" x2="218.70" y2="859.41" stroke="#a9c5f4" stroke-width="1.3" />
<line x1="225.10" y1="796.69" x2="225.10" y2="859.46" stroke="#a9c5f4" stroke-width="1.3" />
<line x1="231.50" y1="838.39" x2="231.50" y2="905.19" stroke="#a9c5f4" stroke-width="1.3" />
<line x1="237.90" y1="802.62" x2="237.90" y2="839.15" stroke="#a9c5f4" stroke-width="1.3" />
<line x1="244.30" y1="834.60" x2="244.30" y2="865.94" stroke="#a9c5f4" stroke-width="1.3" />
<line x1="250.70" y1="829.03" x2="250.70" y2="870.89" stroke="#a9c5f4" stroke-width="1.3" />
<line x1="257.10" y1="801.99" x2="257.10" y2="834.63" stroke="#a9c5f4" stroke-width="1.3" />
<line x1="263.50" y1="793.47" x2="263.50" y2="836.46" stroke="#a9c5f4" stroke-width="1.3" />
<line x1="269.90" y1="775.92" x2="269.90" y2="808.15" stroke="#a9c5f4" stroke-width="1.3" />
<line x1="276.30" y1="803.31" x2="276.30" y2="840.56" stroke="#a9c5f4" stroke-width="1.3" />
<line x1="282.70" y1="773.92" x2="282.70" y2="802.85" stroke="#a9c5f4" stroke-width="1.3" />
<line x1="289.10" y1="784.85" x2="289.10" y2="830.11" stroke="#a9c5f4" stroke-width="1.3" />
<line x1="295.50" y1="783.65" x2="295.50" y2="823.97" stroke="#a9c5f4" stroke-width="1.3" />
<line x1="301.90" y1="811.86" x2="301.90" y2="868.65" stroke="#a9c5f4" stroke-width="1.3" />
<line x1="308.30" y1="783.26" x2="308.30" y2="826.99" stroke="#a9c5f4" stroke-width="1.3" />
<line x1="314.70" y1="794.87" x2="314.70" y2="830.05" stroke="#a9c5f4" stroke-width="1.3" />
<line x1="321.10" y1="754.56" x2="321.10" y2="819.97" stroke="#a9c5f4" stroke-width="1.3" />
<line x1="327.50" y1="786.32" x2="327.50" y2="849.47" stroke="#a9c5f4" stroke-width="1.3" />
<line x1="333.90" y1="754.62" x2="333.90" y2="809.89" stroke="#a9c5f4" stroke-width="1.3" />
<line x1="340.30" y1="781.95" x2="340.30" y2="819.09" stroke="#a9c5f4" stroke-width="1.3" />
<line x1="346.70" y1="742.69" x2="346.70" y2="786.95" stroke="#a9c5f4" stroke-width="1.3" />
<line x1="353.10" y1="764.34" x2="353.10" y2="810.46" stroke="#a9c5f4" stroke-width="1.3" />
<line x1="359.50" y1="719.22" x2="359.50" y2="763.71" stroke="#a9c5f4" stroke-width="1.3" />
<line x1="365.90" y1="727.11" x2="365.90" y2="756.92" stroke="#a9c5f4" stroke-width="1.3" />
<line x1="372.30" y1="687.11" x2="372.30" y2="733.41" stroke="#a9c5f4" stroke-width="1.3" />
<line x1="378.70" y1="686.59" x2="378.70" y2="744.87" stroke="#a9c5f4" stroke-width="1.3" />
<line x1="385.10" y1="652.83" x2="385.10" y2="708.26" stroke="#a9c5f4" stroke-width="1.3" />
<line x1="391.50" y1="671.58" x2="391.50" y2="733.41" stroke="#a9c5f4" stroke-width="1.3" />
<line x1="397.90" y1="637.49" x2="397.90" y2="692.51" stroke="#a9c5f4" stroke-width="1.3" />
<line x1="404.30" y1="661.84" x2="404.30" y2="719.93" stroke="#a9c5f4" stroke-width="1.3" />
<line x1="410.70" y1="631.88" x2="410.70" y2="694.12" stroke="#a9c5f4" stroke-width="1.3" />
<line x1="417.10" y1="632.11" x2="417.10" y2="696.13" stroke="#a9c5f4" stroke-width="1.3" />
<line x1="423.50" y1="638.20" x2="423.50" y2="697.45" stroke="#a9c5f4" stroke-width="1.3" />
<line x1="429.90" y1="667.61" x2="429.90" y2="712.39" stroke="#a9c5f4" stroke-width="1.3" />
<line x1="436.30" y1="672.93" x2="436.30" y2="727.07" stroke="#a9c5f4" stroke-width="1.3" />
<line x1="442.70" y1="612.96" x2="442.70" y2="667.04" stroke="#a9c5f4" stroke-width="1.3" />
<line x1="449.10" y1="531.95" x2="449.10" y2="594.65" stroke="#a9c5f4" stroke-width="1.3" />
<line x1="455.50" y1="671.90" x2="455.50" y2="728.10" stroke="#a9c5f4" stroke-width="1.3" />
<line x1="461.90" y1="660.31" x2="461.90" y2="706.14" stroke="#a9c5f4" stroke-width="1.3" />
<line x1="468.30" y1="629.82" x2="468.30" y2="665.94" stroke="#a9c5f4" stroke-width="1.3" />
<line x1="474.70" y1="592.01" x2="474.70" y2="633.39" stroke="#a9c5f4" stroke-width="1.3" />
<line x1="481.10" y1="639.79" x2="481.10" y2="678.21" stroke="#a9c5f4" stroke-width="1.3" />
<line x1="487.50" y1="671.04" x2="487.50" y2="726.02" stroke="#a9c5f4" stroke-width="1.3" />
<line x1="493.90" y1="609.83" x2="493.90" y2="668.17" stroke="#a9c5f4" stroke-width="1.3" />
<line x1="500.30" y1="718.23" x2="500.30" y2="754.40" stroke="#a9c5f4" stroke-width="1.3" />
<line x1="506.70" y1="694.79" x2="506.70" y2="744.08" stroke="#a9c5f4" stroke-width="1.3" />
<line x1="513.10" y1="722.38" x2="513.10" y2="783.45" stroke="#a9c5f4" stroke-width="1.3" />
<line x1="519.50" y1="705.58" x2="519.50" y2="748.42" stroke="#a9c5f4" stroke-width="1.3" />
<line x1="525.90" y1="709.95" x2="525.90" y2="742.39" stroke="#a9c5f4" stroke-width="1.3" />
<line x1="532.30" y1="729.56" x2="532.30" y2="781.62" stroke="#a9c5f4" stroke-width="1.3" />
<line x1="538.70" y1="713.14" x2="538.70" y2="755.85" stroke="#a9c5f4" stroke-width="1.3" />
<line x1="545.10" y1="761.91" x2="545.10" y2="796.23" stroke="#a9c5f4" stroke-width="1.3" />
<line x1="551.50" y1="780.07" x2="551.50" y2="819.93" stroke="#a9c5f4" stroke-width="1.3" />
<line x1="557.90" y1="797.30" x2="557.90" y2="826.37" stroke="#a9c5f4" stroke-width="1.3" />
<polyline points="167.5,865.7 173.9,863.7 180.3,893.3 186.7,870.2 193.1,867.9 199.5,874.2 205.9,885.7 212.3,869.2 218.7,885.9 225.1,865.8 231.5,872.6 237.9,873.3 244.3,883.9 250.7,863.8 257.1,882.3 263.5,890.7 269.9,864.8 276.3,889.8 282.7,862.9 289.1,892.9 295.5,882.4 301.9,869.9 308.3,878.9 314.7,863.4 321.1,886.3 327.5,866.8 333.9,866.7 340.3,886.8 346.7,871.5 353.1,874.2 359.5,890.7 365.9,863.7 372.3,887.8 378.7,871.8 385.1,891.2 391.5,865.8 397.9,861.8 404.3,884.8 410.7,866.2 417.1,889.7 423.5,890.3 429.9,863.7 436.3,883.8 442.7,862.8 449.1,891.6 455.5,871.4 461.9,883.4 468.3,871.5 474.7,893.0 481.1,873.2 487.5,868.4 493.9,884.3 500.3,863.2 506.7,885.1 513.1,861.7 519.5,886.6 525.9,882.2 532.3,862.0 538.7,890.9 545.1,869.1 551.5,890.3 557.9,868.6" fill="none" stroke="#a9dca9" stroke-width="3.0" stroke-linejoin="round" stroke-linecap="butt" />
<polyline points="167.5,844.7 173.9,839.3 180.3,814.0 186.7,834.9 193.1,817.5 199.5,838.0 205.9,830.6 212.3,807.7 218.7,822.2 225.1,828.9 231.5,799.8 237.9,802.7 244.3,831.2 250.7,804.6 257.1,829.5 263.5,832.8 269.9,803.9 276.3,834.4 282.7,812.4 289.1,838.8 295.5,813.6 301.9,850.0 308.3,830.2 314.7,867.0 321.1,838.7 327.5,840.3 333.9,836.6 340.3,864.8 346.7,842.0 353.1,846.8 359.5,868.7 365.9,848.8 372.3,843.5 378.7,864.4 385.1,839.2 391.5,866.7 397.9,846.2 404.3,868.6 410.7,847.9 417.1,867.4 423.5,851.0 429.9,854.6 436.3,831.3 442.7,838.2 449.1,826.3 455.5,849.9 461.9,824.0 468.3,847.9 474.7,822.1 481.1,838.0 487.5,816.1 493.9,825.4 500.3,815.9 506.7,847.4 513.1,840.7 519.5,840.2 525.9,821.6 532.3,840.9 538.7,845.2 545.1,817.0 551.5,824.0 557.9,849.2" fill="none" stroke="#f2e79a" stroke-width="3.0" stroke-linejoin="round" stroke-linecap="butt" />
<polyline points="167.5,814.6 173.9,827.8 180.3,787.3 186.7,809.1 193.1,804.5 199.5,809.8 205.9,775.1 212.3,775.8 218.7,788.3 225.1,786.1 231.5,746.4 237.9,770.1 244.3,744.8 250.7,735.3 257.1,779.4 263.5,739.5 269.9,756.5 276.3,784.1 282.7,796.3 289.1,779.6 295.5,817.4 301.9,797.7 308.3,798.3 314.7,826.1 321.1,802.6 327.5,829.3 333.9,796.5 340.3,818.5 346.7,784.0 353.1,790.0 359.5,825.8 365.9,790.1 372.3,821.8 378.7,775.5 385.1,803.8 391.5,794.2 397.9,758.0 404.3,796.2 410.7,763.4 417.1,801.0 423.5,791.2 429.9,770.8 436.3,802.2 442.7,778.0 449.1,791.7 455.5,823.8 461.9,826.5 468.3,789.2 474.7,777.9 481.1,808.7 487.5,803.1 493.9,758.4 500.3,793.9 506.7,759.5 513.1,795.8 519.5,766.6 525.9,772.6 532.3,744.2 538.7,759.0 545.1,729.9 551.5,742.4 557.9,774.2" fill="none" stroke="#fbcbb0" stroke-width="3.0" stroke-linejoin="round" stroke-linecap="butt" />
<polyline points="167.5,870.1 173.9,874.3 180.3,904.9 186.7,874.1 193.1,909.5 199.5,873.2 205.9,906.2 212.3,866.6 218.7,881.1 225.1,853.9 231.5,868.0 237.9,840.9 244.3,869.9 250.7,843.3 257.1,855.7 263.5,854.0 269.9,815.8 276.3,854.4 282.7,830.4 289.1,822.0 295.5,852.1 301.9,858.9 308.3,847.4 314.7,828.0 321.1,850.2 327.5,831.5 333.9,850.3 340.3,858.9 346.7,854.4 353.1,855.1 359.5,823.3 365.9,840.0 372.3,809.9 378.7,809.3 385.1,811.7 391.5,800.3 397.9,772.6 404.3,801.4 410.7,778.2 417.1,787.4 423.5,763.8 429.9,764.4 436.3,782.4 442.7,763.2 449.1,792.4 455.5,770.6 461.9,821.5 468.3,791.3 474.7,830.7 481.1,789.1 487.5,818.6 493.9,791.0 500.3,800.9 506.7,784.2 513.1,807.9 519.5,775.8 525.9,797.2 532.3,774.8 538.7,800.9 545.1,762.1 551.5,792.6 557.9,796.1" fill="none" stroke="#fba4b6" stroke-width="3.0" stroke-linejoin="round" stroke-linecap="butt" />
<polyline points="167.5,848.4 173.9,873.8 180.3,846.1 186.7,884.9 193.1,869.2 199.5,864.4 205.9,869.5 212.3,879.1 218.7,857.3 225.1,869.9 231.5,848.5 237.9,876.3 244.3,842.1 250.7,866.5 257.1,833.5 263.5,854.5 269.9,850.7 276.3,842.1 282.7,816.7 289.1,842.1 295.5,802.0 301.9,834.0 308.3,796.8 314.7,806.3 321.1,828.2 327.5,794.5 333.9,798.7 340.3,813.2 346.7,798.9 353.1,820.1 359.5,789.2 365.9,783.5 372.3,753.3 378.7,760.3 385.1,733.6 391.5,722.6 397.9,714.9 404.3,719.2 410.7,764.0 417.1,725.8 423.5,765.0 429.9,719.0 436.3,742.5 442.7,726.1 449.1,756.1 455.5,735.1 461.9,730.8 468.3,758.8 474.7,736.6 481.1,721.8 487.5,753.8 493.9,735.1 500.3,757.1 506.7,732.1 513.1,756.6 519.5,736.7 525.9,759.0 532.3,766.8 538.7,736.3 545.1,734.6 551.5,771.0 557.9,806.5" fill="none" stroke="#f2a2ec" stroke-width="3.0" stroke-linejoin="round" stroke-linecap="butt" />
<polyline points="167.5,820.4 173.9,836.3 180.3,839.8 186.7,807.4 193.1,833.2 199.5,796.1 205.9,817.9 212.3,800.1 218.7,812.9 225.1,807.4 231.5,786.7 237.9,774.7 244.3,783.4 250.7,805.1 257.1,810.2 263.5,791.8 269.9,815.6 276.3,806.0 282.7,809.2 289.1,784.5 295.5,812.7 301.9,787.7 308.3,802.5 314.7,770.4 321.1,779.9 327.5,762.5 333.9,784.4 340.3,746.7 346.7,746.7 353.1,775.2 359.5,737.5 365.9,762.6 372.3,730.6 378.7,741.4 385.1,710.4 391.5,721.0 397.9,691.1 404.3,691.2 410.7,709.5 417.1,724.3 423.5,728.1 429.9,692.2 436.3,726.7 442.7,706.9 449.1,717.2 455.5,713.4 461.9,727.8 468.3,713.5 474.7,735.7 481.1,729.1 487.5,709.0 493.9,730.0 500.3,711.7 506.7,719.2 513.1,738.4 519.5,712.5 525.9,746.8 532.3,742.8 538.7,724.0 545.1,722.4 551.5,764.1 557.9,770.9" fill="none" stroke="#d4b9f4" stroke-width="3.0" stroke-linejoin="round" stroke-linecap="butt" />
<polyline points="167.5,863.7 173.9,837.3 180.3,852.2 186.7,874.5 193.1,857.7 199.5,882.0 205.9,853.1 212.3,882.6 218.7,844.6 225.1,828.1 231.5,871.8 237.9,820.9 244.3,850.3 250.7,850.0 257.1,818.3 263.5,815.0 269.9,792.0 276.3,821.9 282.7,788.4 289.1,807.5 295.5,803.8 301.9,840.3 308.3,805.1 314.7,812.5 321.1,787.3 327.5,817.9 333.9,782.3 340.3,800.5 346.7,764.8 353.1,787.4 359.5,741.5 365.9,742.0 372.3,710.3 378.7,715.7 385.1,680.5 391.5,702.5 397.9,665.0 404.3,690.9 410.7,663.0 417.1,664.1 423.5,667.8 429.9,690.0 436.3,700.0 442.7,640.0 449.1,563.3 455.5,700.0 461.9,683.2 468.3,647.9 474.7,612.7 481.1,659.0 487.5,698.5 493.9,639.0 500.3,736.3 506.7,719.4 513.1,752.9 519.5,727.0 525.9,726.2 532.3,755.6 538.7,734.5 545.1,779.1 551.5,800.0 557.9,811.8" fill="none" stroke="#a9c5f4" stroke-width="3.0" stroke-linejoin="round" stroke-linecap="butt" />
<polyline points="167.5,878.0 175.0,878.5 186.6,879.2 199.4,879.0 212.2,879.5 225.0,880.2 231.0,878.0 238.4,878.5 245.2,879.0 251.6,877.5 258.0,876.0 264.4,877.0 270.8,880.2 277.1,878.0 283.5,877.5 289.9,878.0 296.3,875.0 303.0,875.5 309.1,874.5 317.6,873.8 322.0,875.0 328.3,873.8 334.0,876.0 336.5,880.0 342.0,876.5 347.4,875.5 353.0,878.0 360.2,877.0 367.0,876.5 373.0,877.5 380.0,875.5 386.0,876.5 392.0,878.5 398.0,876.5 404.0,877.0 411.0,879.0 418.0,877.0 424.0,876.5 430.0,878.5 437.0,876.0 444.0,877.5 450.0,877.0 457.0,879.0 463.0,877.5 470.0,876.5 476.0,878.0 483.0,877.0 490.0,879.0 496.0,877.5 503.0,876.0 509.0,877.0 516.0,875.5 522.0,878.5 529.0,876.0 535.0,877.5 542.0,878.5 548.0,877.0 555.0,876.5 562.0,879.0" fill="none" stroke="#4aaa50" stroke-width="3.2" stroke-linejoin="round" stroke-linecap="butt" />
<polyline points="167.5,829.1 173.8,829.1 180.0,828.0 186.6,827.0 193.0,823.5 199.4,820.6 206.0,818.0 212.2,816.3 218.6,814.5 225.0,813.1 231.4,814.5 238.4,816.3 245.2,817.0 251.6,818.4 258.0,819.0 264.4,819.5 270.8,821.0 277.1,822.7 283.5,824.0 289.9,825.9 296.3,829.1 302.7,836.0 309.1,844.0 313.0,850.0 317.6,854.7 323.0,853.8 328.3,853.6 334.0,853.6 341.0,853.6 345.0,856.0 348.5,858.9 354.0,857.0 360.2,854.7 365.0,855.0 369.8,855.7 379.7,854.6 390.0,853.0 399.5,852.3 406.0,857.0 414.3,864.5 420.0,861.0 425.8,856.2 432.0,845.0 439.0,833.2 445.0,834.0 452.2,836.5 458.0,839.0 465.3,841.4 473.6,833.2 481.8,821.7 488.0,820.5 495.0,820.0 502.0,826.0 509.8,833.2 516.0,829.0 521.3,826.6 528.0,828.0 534.5,829.9 541.0,827.0 547.6,825.0 554.0,830.0 560.8,843.1" fill="none" stroke="#e6cb17" stroke-width="3.2" stroke-linejoin="round" stroke-linecap="butt" />
<polyline points="167.5,822.7 173.8,805.7 180.0,801.0 186.6,798.2 193.0,792.0 200.5,786.5 205.8,785.4 212.2,790.8 218.6,776.9 225.0,771.6 231.4,760.9 238.4,752.4 245.2,756.3 251.6,756.3 258.0,765.2 264.4,762.0 270.8,767.3 277.1,776.9 283.5,786.5 289.9,795.0 296.3,801.4 302.7,806.0 309.1,809.9 315.5,815.0 321.9,818.4 330.4,816.3 335.0,812.0 341.0,807.8 351.7,805.7 360.2,805.7 369.9,806.9 379.7,797.0 386.0,790.0 392.9,783.8 399.0,778.0 406.1,774.0 416.0,780.5 425.8,783.8 432.0,788.0 439.0,792.1 445.0,796.0 452.2,800.3 458.0,805.0 465.3,811.8 473.6,801.9 479.0,802.5 485.1,801.9 491.7,778.9 498.2,787.1 505.0,783.0 511.4,779.9 521.3,774.0 531.2,757.5 541.0,750.9 549.3,747.6 555.0,755.0 560.8,770.7" fill="none" stroke="#e8691f" stroke-width="3.2" stroke-linejoin="round" stroke-linecap="butt" />
<polyline points="167.5,883.4 175.0,886.0 180.0,888.0 186.6,889.8 193.0,889.0 199.4,888.7 205.8,891.9 212.2,884.5 218.6,874.0 225.0,865.3 231.4,860.0 238.4,856.8 245.2,853.0 251.6,850.0 258.0,846.1 264.4,840.0 270.8,833.4 277.1,837.6 283.5,838.0 289.9,838.7 296.3,846.1 304.8,840.8 311.0,839.5 317.6,838.7 323.0,840.0 328.3,842.9 334.0,843.0 341.0,842.9 346.0,842.0 351.7,841.9 356.0,840.0 360.2,837.6 365.0,830.0 369.8,820.6 374.0,812.0 379.7,801.9 386.0,798.0 392.0,795.0 399.5,792.1 406.0,788.0 412.0,784.0 416.0,780.5 424.0,775.0 432.4,770.7 439.0,774.0 445.6,772.3 452.0,785.0 458.7,797.0 465.0,804.0 471.9,811.8 478.0,807.0 485.1,803.6 491.0,800.0 498.2,797.0 505.0,792.0 511.4,786.5 518.0,786.0 524.6,786.5 530.0,790.0 536.1,795.3 543.0,786.0 549.3,777.3 555.0,785.0 560.8,797.0" fill="none" stroke="#e41b45" stroke-width="3.2" stroke-linejoin="round" stroke-linecap="butt" />
<polyline points="167.5,868.5 173.8,867.4 180.0,870.0 186.6,872.8 193.0,876.0 199.4,879.1 206.0,876.0 212.2,872.8 218.6,864.0 225.0,856.8 231.4,855.0 238.4,852.5 245.2,857.8 251.6,850.0 258.0,844.0 264.4,838.0 270.8,833.4 277.1,832.5 283.5,832.3 289.9,825.0 296.3,818.4 304.8,807.8 311.0,813.0 317.6,818.4 323.0,816.0 328.3,814.2 334.0,810.0 341.0,805.7 346.0,806.0 351.7,805.7 356.0,800.0 360.2,795.0 364.0,785.0 369.8,760.9 373.0,765.0 379.7,750.9 386.0,744.0 392.0,738.0 399.5,731.2 406.0,737.0 412.0,745.0 419.2,750.9 425.8,744.0 432.4,737.0 439.0,732.8 445.0,736.0 452.2,739.4 460.0,745.0 468.6,752.6 476.0,748.0 485.1,742.7 495.0,748.0 504.8,754.2 512.0,750.0 521.3,744.3 530.0,746.0 537.7,747.6 549.3,749.3 555.0,770.0 560.8,797.0" fill="none" stroke="#b52bb5" stroke-width="3.2" stroke-linejoin="round" stroke-linecap="butt" />
<polyline points="167.5,839.7 173.8,830.2 180.0,829.0 186.6,827.0 193.0,820.0 199.4,814.2 206.0,810.0 212.2,807.8 218.6,803.0 225.0,799.3 231.4,795.0 238.4,791.8 245.2,798.2 251.6,798.5 258.0,798.2 264.4,799.0 270.8,800.3 277.1,798.2 283.5,800.0 289.9,802.5 296.3,795.0 302.7,792.0 309.1,788.6 317.6,776.9 323.0,774.0 328.3,772.6 336.8,767.3 341.0,766.0 347.4,765.2 353.7,760.0 360.2,753.5 369.8,746.0 379.7,734.5 386.0,718.0 392.9,701.5 399.0,700.0 406.1,699.9 412.0,705.0 419.2,711.4 425.8,709.0 432.4,709.8 439.0,715.0 445.0,722.0 452.2,727.9 460.0,724.0 468.6,720.6 478.5,715.4 485.0,715.0 491.7,715.4 498.0,720.0 505.0,726.0 511.4,729.5 521.3,731.0 531.2,734.5 541.0,738.0 549.3,742.7 555.0,770.0 560.8,797.0" fill="none" stroke="#6a27c7" stroke-width="3.2" stroke-linejoin="round" stroke-linecap="butt" />
<polyline points="167.5,853.6 173.8,852.5 180.0,860.0 186.6,867.4 194.1,873.8 199.4,873.8 206.0,869.0 212.2,865.3 218.6,858.0 225.0,849.3 231.4,852.5 238.4,840.8 245.2,832.3 251.6,837.6 258.0,824.8 264.4,805.7 270.8,807.8 277.1,803.5 283.5,807.8 289.9,827.0 296.3,824.8 302.7,818.0 309.1,811.0 317.6,800.3 322.0,800.0 328.3,800.3 334.0,794.0 341.0,788.6 346.0,781.0 351.7,772.6 356.0,767.0 360.2,762.0 366.0,748.0 373.2,724.6 380.0,705.0 386.3,688.4 393.0,680.0 399.5,675.2 406.1,673.6 412.0,674.0 419.2,675.2 425.8,685.1 432.4,653.8 442.3,655.5 447.0,648.0 452.2,640.6 458.7,671.9 465.3,652.2 471.9,667.0 478.5,664.7 485.1,678.5 491.7,708.1 498.0,725.0 504.8,741.0 511.4,741.0 516.0,738.0 521.3,736.1 526.0,743.0 531.2,749.3 536.0,751.0 541.0,754.2 549.3,774.0 555.0,800.0 560.8,834.9" fill="none" stroke="#2358b5" stroke-width="3.2" stroke-linejoin="round" stroke-linecap="butt" />
</g>
<rect x="165.40" y="529.30" width="397.10" height="385.70" fill="none" stroke="#111" stroke-width="1.3"/>
<line x1="165.40" y1="876.60" x2="181.40" y2="876.60" stroke="#111" stroke-width="1.4" />
<line x1="165.40" y1="794.00" x2="181.40" y2="794.00" stroke="#111" stroke-width="1.4" />
<line x1="165.40" y1="711.40" x2="181.40" y2="711.40" stroke="#111" stroke-width="1.4" />
<line x1="165.40" y1="628.80" x2="181.40" y2="628.80" stroke="#111" stroke-width="1.4" />
<line x1="165.40" y1="546.20" x2="181.40" y2="546.20" stroke="#111" stroke-width="1.4" />
<line x1="222.80" y1="915.00" x2="222.80" y2="899.00" stroke="#111" stroke-width="1.4" />
<line x1="315.80" y1="915.00" x2="315.80" y2="899.00" stroke="#111" stroke-width="1.4" />
<line x1="408.80" y1="915.00" x2="408.80" y2="899.00" stroke="#111" stroke-width="1.4" />
<line x1="501.80" y1="915.00" x2="501.80" y2="899.00" stroke="#111" stroke-width="1.4" />
<line x1="269.30" y1="915.00" x2="269.30" y2="907.00" stroke="#111" stroke-width="1.4" />
<line x1="362.30" y1="915.00" x2="362.30" y2="907.00" stroke="#111" stroke-width="1.4" />
<line x1="455.30" y1="915.00" x2="455.30" y2="907.00" stroke="#111" stroke-width="1.4" />
<line x1="548.30" y1="915.00" x2="548.30" y2="907.00" stroke="#111" stroke-width="1.4" />
<rect x="809.24" y="603.00" width="81.08" height="311.30" fill="#daecf9"/>
<rect x="1042.24" y="603.00" width="81.08" height="311.30" fill="#fdd6cd"/>
<g clip-path="url(#ce)">
<path d="M743.3,847.1 C744.0,846.2 746.0,843.3 747.3,841.4 C748.6,839.4 750.0,837.4 751.3,835.4 C752.6,833.4 754.0,831.4 755.3,829.4 C756.6,827.4 758.0,825.3 759.3,823.3 C760.6,821.3 762.0,819.2 763.3,817.2 C764.6,815.2 766.0,813.2 767.3,811.3 C768.6,809.3 770.0,807.3 771.3,805.4 C772.6,803.5 774.0,801.6 775.3,799.8 C776.6,798.0 778.0,796.2 779.3,794.5 C780.6,792.8 782.0,791.1 783.3,789.5 C784.6,788.0 786.0,786.4 787.3,785.0 C788.6,783.6 790.0,782.2 791.3,781.0 C792.6,779.7 794.0,778.5 795.3,777.5 C796.6,776.4 798.0,775.4 799.3,774.6 C800.6,773.8 802.0,773.0 803.3,772.4 C804.6,771.8 806.0,771.3 807.3,771.0 C808.6,770.6 810.0,770.4 811.3,770.2 C812.6,770.1 814.0,770.1 815.3,770.2 C816.6,770.3 818.0,770.5 819.3,770.8 C820.6,771.1 822.0,771.5 823.3,772.0 C824.6,772.5 826.0,773.1 827.3,773.8 C828.6,774.5 830.0,775.4 831.3,776.3 C832.6,777.1 834.0,778.1 835.3,779.2 C836.6,780.3 838.0,781.5 839.3,782.7 C840.6,783.9 842.0,785.3 843.3,786.7 C844.6,788.1 846.0,789.5 847.3,791.1 C848.6,792.6 850.0,794.2 851.3,795.8 C852.6,797.5 854.0,799.2 855.3,800.9 C856.6,802.7 858.0,804.4 859.3,806.2 C860.6,808.1 862.0,809.9 863.3,811.8 C864.6,813.6 866.0,815.5 867.3,817.4 C868.6,819.3 870.0,821.2 871.3,823.1 C872.6,825.0 874.0,826.9 875.3,828.8 C876.6,830.7 878.0,832.6 879.3,834.5 C880.6,836.4 882.0,838.2 883.3,840.0 C884.6,841.9 886.0,843.7 887.3,845.4 C888.6,847.2 890.0,848.9 891.3,850.5 C892.6,852.2 894.0,853.8 895.3,855.4 C896.6,856.9 898.0,858.4 899.3,859.9 C900.6,861.3 902.0,862.7 903.3,863.9 C904.6,865.2 906.0,866.4 907.3,867.5 C908.6,868.6 910.0,869.7 911.3,870.6 C912.6,871.6 914.0,872.5 915.3,873.3 C916.6,874.1 918.0,874.9 919.3,875.6 C920.6,876.3 922.0,876.9 923.3,877.5 C924.6,878.1 926.0,878.6 927.3,879.1 C928.6,879.6 930.0,880.0 931.3,880.4 C932.6,880.8 934.0,881.1 935.3,881.4 C936.6,881.7 938.0,882.0 939.3,882.2 C940.6,882.5 942.0,882.7 943.3,882.9 C944.6,883.1 944.6,882.9 947.0,883.3 C949.4,883.8 953.6,885.1 957.4,885.6 C961.2,886.1 965.4,886.3 970.0,886.6 C974.6,886.9 980.0,887.0 985.0,887.2 C990.0,887.4 995.0,887.5 1000.0,887.6 C1005.0,887.7 1010.0,887.9 1015.0,888.0 C1020.0,888.1 1025.0,888.3 1030.0,888.4 C1035.0,888.5 1040.0,888.7 1045.0,888.8 C1050.0,888.9 1055.0,889.1 1060.0,889.2 C1065.0,889.3 1070.0,889.5 1075.0,889.6 C1080.0,889.7 1085.0,889.9 1090.0,890.0 C1095.0,890.1 1100.0,890.2 1105.0,890.3 C1110.0,890.4 1114.1,890.5 1120.0,890.6 C1125.9,890.7 1137.1,890.9 1140.5,891.0" fill="none" stroke="#e6cb17" stroke-width="3.4" stroke-linejoin="round" />
<path d="M743.3,846.7 C744.0,845.7 746.0,842.5 747.3,840.5 C748.6,838.4 750.0,836.4 751.3,834.5 C752.6,832.6 754.0,830.7 755.3,828.8 C756.6,827.0 758.0,825.2 759.3,823.5 C760.6,821.7 762.0,820.1 763.3,818.4 C764.6,816.8 766.0,815.2 767.3,813.7 C768.6,812.2 770.0,810.7 771.3,809.3 C772.6,807.9 774.0,806.5 775.3,805.2 C776.6,803.9 778.0,802.7 779.3,801.5 C780.6,800.3 782.0,799.2 783.3,798.1 C784.6,797.0 786.0,796.0 787.3,795.1 C788.6,794.1 790.0,793.2 791.3,792.4 C792.6,791.5 794.0,790.8 795.3,790.1 C796.6,789.3 798.0,788.7 799.3,788.1 C800.6,787.5 802.0,787.0 803.3,786.5 C804.6,786.0 806.0,785.6 807.3,785.3 C808.6,784.9 810.0,784.7 811.3,784.4 C812.6,784.2 814.0,784.1 815.3,784.0 C816.6,783.9 818.0,783.9 819.3,783.9 C820.6,784.0 822.0,784.1 823.3,784.3 C824.6,784.5 826.0,784.7 827.3,785.0 C828.6,785.4 830.0,785.8 831.3,786.2 C832.6,786.7 834.0,787.2 835.3,787.8 C836.6,788.4 838.0,789.1 839.3,789.8 C840.6,790.5 842.0,791.3 843.3,792.2 C844.6,793.0 846.0,793.9 847.3,794.9 C848.6,795.9 850.0,796.9 851.3,798.0 C852.6,799.0 854.0,800.2 855.3,801.3 C856.6,802.5 858.0,803.7 859.3,804.9 C860.6,806.1 862.0,807.4 863.3,808.7 C864.6,810.0 866.0,811.3 867.3,812.7 C868.6,814.0 870.0,815.4 871.3,816.8 C872.6,818.2 874.0,819.6 875.3,821.1 C876.6,822.5 878.0,823.9 879.3,825.4 C880.6,826.8 882.0,828.3 883.3,829.7 C884.6,831.2 886.0,832.7 887.3,834.1 C888.6,835.6 890.0,837.0 891.3,838.5 C892.6,839.9 894.0,841.3 895.3,842.7 C896.6,844.1 898.0,845.5 899.3,846.9 C900.6,848.3 902.0,849.6 903.3,851.0 C904.6,852.3 906.0,853.6 907.3,854.8 C908.6,856.1 910.0,857.3 911.3,858.5 C912.6,859.7 914.0,860.8 915.3,861.9 C916.6,863.0 918.0,864.1 919.3,865.1 C920.6,866.1 922.0,867.1 923.3,868.0 C924.6,868.9 926.0,869.7 927.3,870.5 C928.6,871.3 930.0,872.1 931.3,872.8 C932.6,873.5 934.0,874.1 935.3,874.7 C936.6,875.3 938.0,875.8 939.3,876.3 C940.6,876.8 942.0,877.3 943.3,877.7 C944.6,878.1 946.0,878.4 947.3,878.7 C948.6,879.0 950.0,879.3 951.3,879.5 C952.6,879.7 954.0,879.9 955.3,880.0 C956.6,880.1 958.0,880.2 959.3,880.2 C960.6,880.3 962.0,880.2 963.3,880.2 C964.6,880.1 966.0,880.0 967.3,879.9 C968.6,879.8 970.0,879.6 971.3,879.3 C972.6,879.1 974.0,878.9 975.3,878.6 C976.6,878.3 978.0,877.9 979.3,877.5 C980.6,877.2 982.0,876.7 983.3,876.3 C984.6,875.8 986.0,875.4 987.3,874.8 C988.6,874.3 990.0,873.8 991.3,873.2 C992.6,872.7 994.0,872.1 995.3,871.4 C996.6,870.8 998.0,870.2 999.3,869.5 C1000.6,868.8 1002.0,868.1 1003.3,867.4 C1004.6,866.7 1006.0,866.0 1007.3,865.3 C1008.6,864.5 1010.0,863.8 1011.3,863.0 C1012.6,862.2 1014.0,861.4 1015.3,860.6 C1016.6,859.9 1018.0,859.1 1019.3,858.2 C1020.6,857.4 1022.0,856.6 1023.3,855.8 C1024.6,855.0 1026.0,854.2 1027.3,853.4 C1028.6,852.5 1030.0,851.7 1031.3,850.9 C1032.6,850.1 1034.0,849.3 1035.3,848.5 C1036.6,847.7 1038.0,846.9 1039.3,846.1 C1040.6,845.3 1042.0,844.5 1043.3,843.8 C1044.6,843.0 1046.0,842.3 1047.3,841.6 C1048.6,840.9 1050.0,840.2 1051.3,839.5 C1052.6,838.8 1054.0,838.2 1055.3,837.6 C1056.6,837.0 1058.0,836.4 1059.3,835.9 C1060.6,835.3 1062.0,834.8 1063.3,834.4 C1064.6,833.9 1066.0,833.5 1067.3,833.2 C1068.6,832.8 1070.0,832.5 1071.3,832.3 C1072.6,832.0 1074.0,831.8 1075.3,831.6 C1076.6,831.5 1078.0,831.4 1079.3,831.4 C1080.6,831.4 1082.0,831.4 1083.3,831.5 C1084.6,831.6 1086.0,831.8 1087.3,832.0 C1088.6,832.2 1090.0,832.5 1091.3,832.8 C1092.6,833.1 1094.0,833.5 1095.3,833.9 C1096.6,834.3 1098.0,834.8 1099.3,835.3 C1100.6,835.8 1102.0,836.3 1103.3,836.9 C1104.6,837.4 1106.0,838.0 1107.3,838.6 C1108.6,839.3 1110.0,839.9 1111.3,840.6 C1112.6,841.2 1114.0,841.9 1115.3,842.5 C1116.6,843.2 1118.0,843.9 1119.3,844.5 C1120.6,845.2 1122.0,845.9 1123.3,846.5 C1124.6,847.1 1126.0,847.8 1127.3,848.3 C1128.6,848.9 1130.0,849.5 1131.3,850.1 C1132.6,850.6 1134.0,851.1 1135.3,851.5 C1136.6,852.0 1138.4,852.5 1139.3,852.8 C1140.2,853.0 1140.3,853.0 1140.5,853.1" fill="none" stroke="#e8691f" stroke-width="3.4" stroke-linejoin="round" />
<path d="M743.3,863.0 C744.0,862.8 746.0,862.0 747.3,861.4 C748.6,860.8 750.0,860.1 751.3,859.5 C752.6,858.8 754.0,858.1 755.3,857.4 C756.6,856.6 758.0,855.8 759.3,855.1 C760.6,854.3 762.0,853.5 763.3,852.6 C764.6,851.8 766.0,851.0 767.3,850.1 C768.6,849.3 770.0,848.4 771.3,847.5 C772.6,846.7 774.0,845.8 775.3,844.9 C776.6,844.1 778.0,843.2 779.3,842.4 C780.6,841.5 782.0,840.7 783.3,839.9 C784.6,839.1 786.0,838.3 787.3,837.5 C788.6,836.7 790.0,836.0 791.3,835.3 C792.6,834.6 794.0,833.9 795.3,833.2 C796.6,832.6 798.0,832.0 799.3,831.5 C800.6,830.9 802.0,830.4 803.3,829.9 C804.6,829.5 806.0,829.1 807.3,828.7 C808.6,828.4 810.0,828.1 811.3,827.9 C812.6,827.6 814.0,827.5 815.3,827.3 C816.6,827.2 818.0,827.1 819.3,827.1 C820.6,827.1 822.0,827.1 823.3,827.2 C824.6,827.3 826.0,827.4 827.3,827.6 C828.6,827.8 830.0,828.0 831.3,828.3 C832.6,828.5 834.0,828.8 835.3,829.2 C836.6,829.6 838.0,830.0 839.3,830.4 C840.6,830.8 842.0,831.3 843.3,831.9 C844.6,832.4 846.0,833.0 847.3,833.6 C848.6,834.2 850.0,834.8 851.3,835.5 C852.6,836.2 854.0,836.9 855.3,837.7 C856.6,838.4 858.0,839.2 859.3,840.0 C860.6,840.8 862.0,841.7 863.3,842.6 C864.6,843.5 866.0,844.4 867.3,845.3 C868.6,846.2 870.0,847.2 871.3,848.2 C872.6,849.2 874.0,850.1 875.3,851.1 C876.6,852.1 878.0,853.1 879.3,854.2 C880.6,855.2 882.0,856.2 883.3,857.2 C884.6,858.2 886.0,859.2 887.3,860.2 C888.6,861.1 890.0,862.1 891.3,863.1 C892.6,864.0 894.0,865.0 895.3,865.9 C896.6,866.8 898.0,867.7 899.3,868.5 C900.6,869.4 902.0,870.2 903.3,871.0 C904.6,871.7 906.0,872.5 907.3,873.2 C908.6,873.8 910.0,874.5 911.3,875.1 C912.6,875.7 914.0,876.2 915.3,876.7 C916.6,877.2 918.0,877.6 919.3,878.0 C920.6,878.3 922.0,878.7 923.3,878.9 C924.6,879.2 926.0,879.5 927.3,879.6 C928.6,879.8 930.0,880.0 931.3,880.0 C932.6,880.1 934.0,880.2 935.3,880.2 C936.6,880.2 938.0,880.1 939.3,880.0 C940.6,879.9 942.0,879.8 943.3,879.6 C944.6,879.5 946.0,879.3 947.3,879.0 C948.6,878.8 950.0,878.5 951.3,878.1 C952.6,877.8 954.0,877.4 955.3,877.0 C956.6,876.6 958.0,876.2 959.3,875.7 C960.6,875.2 962.0,874.7 963.3,874.2 C964.6,873.6 966.0,873.0 967.3,872.4 C968.6,871.7 970.0,871.1 971.3,870.3 C972.6,869.6 974.0,868.8 975.3,867.9 C976.6,867.1 978.0,866.2 979.3,865.2 C980.6,864.3 982.0,863.2 983.3,862.1 C984.6,861.0 986.0,859.9 987.3,858.6 C988.6,857.4 990.0,856.0 991.3,854.6 C992.6,853.2 994.0,851.8 995.3,850.2 C996.6,848.6 998.0,847.0 999.3,845.2 C1000.6,843.5 1002.0,841.7 1003.3,839.7 C1004.6,837.8 1006.0,835.8 1007.3,833.6 C1008.6,831.5 1010.0,829.3 1011.3,827.0 C1012.6,824.6 1014.0,822.2 1015.3,819.6 C1016.6,817.1 1018.0,814.4 1019.3,811.7 C1020.6,809.0 1022.0,806.2 1023.3,803.4 C1024.6,800.6 1026.0,797.7 1027.3,794.8 C1028.6,791.9 1030.0,788.9 1031.3,786.0 C1032.6,783.0 1034.0,780.1 1035.3,777.2 C1036.6,774.3 1038.0,771.3 1039.3,768.5 C1040.6,765.6 1042.0,762.8 1043.3,760.0 C1044.6,757.3 1046.0,754.6 1047.3,752.1 C1048.6,749.6 1050.0,747.2 1051.3,745.0 C1052.6,742.9 1054.0,740.9 1055.3,739.2 C1056.6,737.5 1058.0,736.1 1059.3,734.9 C1060.6,733.8 1062.0,732.9 1063.3,732.2 C1064.6,731.6 1066.0,731.2 1067.3,731.0 C1068.6,730.9 1070.0,730.9 1071.3,731.2 C1072.6,731.5 1074.0,732.0 1075.3,732.6 C1076.6,733.3 1078.0,734.1 1079.3,735.2 C1080.6,736.2 1082.0,737.4 1083.3,738.7 C1084.6,740.0 1086.0,741.5 1087.3,743.1 C1088.6,744.8 1090.0,746.5 1091.3,748.4 C1092.6,750.2 1094.0,752.2 1095.3,754.2 C1096.6,756.3 1098.0,758.5 1099.3,760.7 C1100.6,762.9 1102.0,765.2 1103.3,767.5 C1104.6,769.8 1106.0,772.2 1107.3,774.6 C1108.6,777.0 1110.0,779.5 1111.3,781.9 C1112.6,784.3 1114.0,786.7 1115.3,789.1 C1116.6,791.5 1118.0,793.8 1119.3,796.1 C1120.6,798.4 1122.0,800.7 1123.3,802.9 C1124.6,805.0 1126.0,807.1 1127.3,809.1 C1128.6,811.1 1130.0,813.0 1131.3,814.7 C1132.6,816.4 1134.0,818.1 1135.3,819.5 C1136.6,821.0 1138.4,822.6 1139.3,823.4 C1140.2,824.2 1140.3,824.2 1140.5,824.3" fill="none" stroke="#e41b45" stroke-width="3.4" stroke-linejoin="round" />
<path d="M743.3,879.3 C744.0,879.1 746.0,878.4 747.3,877.9 C748.6,877.4 750.0,876.9 751.3,876.3 C752.6,875.8 754.0,875.3 755.3,874.7 C756.6,874.1 758.0,873.6 759.3,873.0 C760.6,872.4 762.0,871.8 763.3,871.2 C764.6,870.6 766.0,870.0 767.3,869.4 C768.6,868.8 770.0,868.1 771.3,867.5 C772.6,866.9 774.0,866.3 775.3,865.7 C776.6,865.1 778.0,864.4 779.3,863.8 C780.6,863.2 782.0,862.6 783.3,862.0 C784.6,861.4 786.0,860.8 787.3,860.2 C788.6,859.6 790.0,859.0 791.3,858.5 C792.6,857.9 794.0,857.4 795.3,856.8 C796.6,856.3 798.0,855.8 799.3,855.3 C800.6,854.7 802.0,854.3 803.3,853.8 C804.6,853.3 806.0,852.9 807.3,852.4 C808.6,852.0 810.0,851.6 811.3,851.2 C812.6,850.9 814.0,850.5 815.3,850.2 C816.6,849.9 818.0,849.6 819.3,849.3 C820.6,849.0 822.0,848.8 823.3,848.6 C824.6,848.4 826.0,848.2 827.3,848.1 C828.6,848.0 830.0,847.9 831.3,847.8 C832.6,847.8 834.0,847.8 835.3,847.8 C836.6,847.8 838.0,847.9 839.3,848.0 C840.6,848.1 842.0,848.3 843.3,848.5 C844.6,848.7 846.0,848.9 847.3,849.2 C848.6,849.5 850.0,849.9 851.3,850.3 C852.6,850.7 854.0,851.2 855.3,851.7 C856.6,852.2 858.0,852.7 859.3,853.3 C860.6,853.9 862.0,854.6 863.3,855.2 C864.6,855.9 866.0,856.6 867.3,857.3 C868.6,858.1 870.0,858.8 871.3,859.6 C872.6,860.4 874.0,861.2 875.3,862.0 C876.6,862.9 878.0,863.7 879.3,864.6 C880.6,865.4 882.0,866.3 883.3,867.1 C884.6,868.0 886.0,868.8 887.3,869.7 C888.6,870.5 890.0,871.4 891.3,872.2 C892.6,873.1 894.0,873.9 895.3,874.7 C896.6,875.5 898.0,876.3 899.3,877.1 C900.6,877.9 902.0,878.6 903.3,879.3 C904.6,880.0 906.0,880.7 907.3,881.4 C908.6,882.0 910.0,882.6 911.3,883.2 C912.6,883.8 914.0,884.3 915.3,884.8 C916.6,885.2 918.0,885.7 919.3,886.0 C920.6,886.4 922.0,886.7 923.3,887.0 C924.6,887.3 926.0,887.5 927.3,887.6 C928.6,887.8 930.0,887.9 931.3,888.0 C932.6,888.0 934.0,888.0 935.3,888.0 C936.6,887.9 938.0,887.8 939.3,887.7 C940.6,887.5 942.0,887.3 943.3,887.1 C944.6,886.8 946.0,886.5 947.3,886.2 C948.6,885.8 950.0,885.4 951.3,885.0 C952.6,884.6 954.0,884.1 955.3,883.5 C956.6,883.0 958.0,882.4 959.3,881.8 C960.6,881.1 962.0,880.5 963.3,879.7 C964.6,879.0 966.0,878.2 967.3,877.3 C968.6,876.5 970.0,875.6 971.3,874.6 C972.6,873.6 974.0,872.5 975.3,871.4 C976.6,870.3 978.0,869.1 979.3,867.7 C980.6,866.4 982.0,865.1 983.3,863.6 C984.6,862.1 986.0,860.5 987.3,858.8 C988.6,857.1 990.0,855.3 991.3,853.4 C992.6,851.5 994.0,849.5 995.3,847.3 C996.6,845.2 998.0,842.9 999.3,840.5 C1000.6,838.1 1002.0,835.6 1003.3,832.9 C1004.6,830.2 1006.0,827.4 1007.3,824.5 C1008.6,821.5 1010.0,818.4 1011.3,815.1 C1012.6,811.9 1014.0,808.5 1015.3,804.9 C1016.6,801.3 1018.0,797.6 1019.3,793.6 C1020.6,789.7 1022.0,785.6 1023.3,781.4 C1024.6,777.1 1026.0,772.7 1027.3,768.2 C1028.6,763.7 1030.0,759.1 1031.3,754.5 C1032.6,749.9 1034.0,745.3 1035.3,740.7 C1036.6,736.1 1038.0,731.5 1039.3,727.1 C1040.6,722.6 1042.0,718.2 1043.3,714.0 C1044.6,709.8 1046.0,705.7 1047.3,701.9 C1048.6,698.1 1050.0,694.4 1051.3,691.1 C1052.6,687.8 1054.0,684.7 1055.3,682.0 C1056.6,679.3 1058.0,676.8 1059.3,674.9 C1060.6,672.9 1062.0,671.3 1063.3,670.1 C1064.6,669.0 1066.0,668.3 1067.3,668.0 C1068.6,667.6 1070.0,667.7 1071.3,668.1 C1072.6,668.6 1074.0,669.4 1075.3,670.5 C1076.6,671.6 1078.0,673.0 1079.3,674.8 C1080.6,676.5 1082.0,678.5 1083.3,680.8 C1084.6,683.0 1086.0,685.6 1087.3,688.3 C1088.6,691.1 1090.0,694.0 1091.3,697.2 C1092.6,700.3 1094.0,703.7 1095.3,707.1 C1096.6,710.6 1098.0,714.3 1099.3,718.0 C1100.6,721.7 1102.0,725.5 1103.3,729.4 C1104.6,733.3 1106.0,737.2 1107.3,741.2 C1108.6,745.1 1110.0,749.1 1111.3,753.0 C1112.6,756.9 1114.0,760.8 1115.3,764.5 C1116.6,768.3 1118.0,772.0 1119.3,775.6 C1120.6,779.2 1122.0,782.6 1123.3,785.9 C1124.6,789.1 1126.0,792.2 1127.3,795.1 C1128.6,797.9 1130.0,800.6 1131.3,803.0 C1132.6,805.3 1134.0,807.5 1135.3,809.2 C1136.6,811.0 1138.4,812.7 1139.3,813.6 C1140.2,814.5 1140.3,814.4 1140.5,814.5" fill="none" stroke="#b52bb5" stroke-width="3.4" stroke-linejoin="round" />
<path d="M743.3,886.0 C744.0,885.9 746.0,885.6 747.3,885.4 C748.6,885.2 750.0,884.9 751.3,884.6 C752.6,884.3 754.0,883.9 755.3,883.6 C756.6,883.2 758.0,882.8 759.3,882.4 C760.6,882.0 762.0,881.5 763.3,881.0 C764.6,880.6 766.0,880.1 767.3,879.6 C768.6,879.1 770.0,878.5 771.3,878.0 C772.6,877.4 774.0,876.9 775.3,876.3 C776.6,875.8 778.0,875.2 779.3,874.6 C780.6,874.0 782.0,873.4 783.3,872.8 C784.6,872.2 786.0,871.6 787.3,871.0 C788.6,870.4 790.0,869.8 791.3,869.2 C792.6,868.7 794.0,868.1 795.3,867.5 C796.6,866.9 798.0,866.3 799.3,865.8 C800.6,865.2 802.0,864.7 803.3,864.1 C804.6,863.6 806.0,863.1 807.3,862.6 C808.6,862.1 810.0,861.6 811.3,861.2 C812.6,860.7 814.0,860.3 815.3,859.9 C816.6,859.5 818.0,859.1 819.3,858.8 C820.6,858.4 822.0,858.1 823.3,857.8 C824.6,857.5 826.0,857.3 827.3,857.1 C828.6,856.9 830.0,856.7 831.3,856.6 C832.6,856.5 834.0,856.4 835.3,856.3 C836.6,856.3 838.0,856.3 839.3,856.4 C840.6,856.4 842.0,856.5 843.3,856.7 C844.6,856.8 846.0,857.0 847.3,857.3 C848.6,857.6 850.0,857.9 851.3,858.3 C852.6,858.7 854.0,859.1 855.3,859.6 C856.6,860.1 858.0,860.7 859.3,861.3 C860.6,861.9 862.0,862.5 863.3,863.2 C864.6,863.9 866.0,864.7 867.3,865.4 C868.6,866.2 870.0,867.0 871.3,867.8 C872.6,868.6 874.0,869.4 875.3,870.3 C876.6,871.1 878.0,872.0 879.3,872.8 C880.6,873.7 882.0,874.6 883.3,875.5 C884.6,876.3 886.0,877.2 887.3,878.1 C888.6,879.0 890.0,879.8 891.3,880.7 C892.6,881.5 894.0,882.3 895.3,883.1 C896.6,883.9 898.0,884.7 899.3,885.4 C900.6,886.2 902.0,886.9 903.3,887.6 C904.6,888.2 906.0,888.9 907.3,889.4 C908.6,890.0 910.0,890.6 911.3,891.0 C912.6,891.5 914.0,891.9 915.3,892.3 C916.6,892.6 918.0,892.9 919.3,893.2 C920.6,893.4 922.0,893.5 923.3,893.6 C924.6,893.7 926.0,893.7 927.3,893.7 C928.6,893.7 930.0,893.6 931.3,893.4 C932.6,893.3 934.0,893.1 935.3,892.8 C936.6,892.6 938.0,892.3 939.3,891.9 C940.6,891.6 942.0,891.2 943.3,890.7 C944.6,890.3 946.0,889.8 947.3,889.3 C948.6,888.8 950.0,888.2 951.3,887.6 C952.6,887.0 954.0,886.4 955.3,885.7 C956.6,885.1 958.0,884.4 959.3,883.7 C960.6,882.9 962.0,882.2 963.3,881.4 C964.6,880.6 966.0,879.8 967.3,879.0 C968.6,878.1 970.0,877.2 971.3,876.2 C972.6,875.2 974.0,874.1 975.3,873.0 C976.6,871.9 978.0,870.7 979.3,869.4 C980.6,868.0 982.0,866.6 983.3,865.1 C984.6,863.6 986.0,862.0 987.3,860.2 C988.6,858.5 990.0,856.6 991.3,854.6 C992.6,852.6 994.0,850.4 995.3,848.1 C996.6,845.8 998.0,843.4 999.3,840.8 C1000.6,838.1 1002.0,835.3 1003.3,832.4 C1004.6,829.4 1006.0,826.2 1007.3,822.9 C1008.6,819.5 1010.0,816.0 1011.3,812.2 C1012.6,808.5 1014.0,804.5 1015.3,800.3 C1016.6,796.1 1018.0,791.7 1019.3,787.0 C1020.6,782.4 1022.0,777.4 1023.3,772.3 C1024.6,767.2 1026.0,761.9 1027.3,756.4 C1028.6,751.0 1030.0,745.4 1031.3,739.8 C1032.6,734.2 1034.0,728.5 1035.3,722.9 C1036.6,717.3 1038.0,711.7 1039.3,706.3 C1040.6,700.9 1042.0,695.5 1043.3,690.4 C1044.6,685.4 1046.0,680.4 1047.3,675.9 C1048.6,671.3 1050.0,666.9 1051.3,663.1 C1052.6,659.2 1054.0,655.6 1055.3,652.5 C1056.6,649.5 1058.0,646.8 1059.3,644.8 C1060.6,642.7 1062.0,641.2 1063.3,640.1 C1064.6,639.0 1066.0,638.5 1067.3,638.4 C1068.6,638.2 1070.0,638.6 1071.3,639.3 C1072.6,640.0 1074.0,641.2 1075.3,642.7 C1076.6,644.1 1078.0,646.0 1079.3,648.1 C1080.6,650.3 1082.0,652.7 1083.3,655.4 C1084.6,658.1 1086.0,661.2 1087.3,664.3 C1088.6,667.5 1090.0,671.0 1091.3,674.5 C1092.6,678.1 1094.0,681.9 1095.3,685.8 C1096.6,689.6 1098.0,693.7 1099.3,697.7 C1100.6,701.8 1102.0,706.0 1103.3,710.2 C1104.6,714.4 1106.0,718.7 1107.3,722.9 C1108.6,727.1 1110.0,731.4 1111.3,735.6 C1112.6,739.8 1114.0,744.0 1115.3,748.1 C1116.6,752.2 1118.0,756.3 1119.3,760.3 C1120.6,764.3 1122.0,768.2 1123.3,772.0 C1124.6,775.7 1126.0,779.4 1127.3,783.0 C1128.6,786.5 1130.0,789.9 1131.3,793.1 C1132.6,796.3 1134.0,799.4 1135.3,802.3 C1136.6,805.1 1138.4,808.6 1139.3,810.2 C1140.2,811.9 1140.3,812.0 1140.5,812.4" fill="none" stroke="#6a27c7" stroke-width="3.4" stroke-linejoin="round" />
<path d="M743.3,890.8 C744.0,890.8 746.0,890.9 747.3,890.8 C748.6,890.8 750.0,890.7 751.3,890.6 C752.6,890.4 754.0,890.2 755.3,890.0 C756.6,889.8 758.0,889.5 759.3,889.2 C760.6,888.9 762.0,888.6 763.3,888.2 C764.6,887.9 766.0,887.5 767.3,887.1 C768.6,886.6 770.0,886.2 771.3,885.7 C772.6,885.3 774.0,884.8 775.3,884.3 C776.6,883.7 778.0,883.2 779.3,882.7 C780.6,882.1 782.0,881.6 783.3,881.0 C784.6,880.4 786.0,879.9 787.3,879.3 C788.6,878.7 790.0,878.1 791.3,877.5 C792.6,876.9 794.0,876.3 795.3,875.8 C796.6,875.2 798.0,874.6 799.3,874.0 C800.6,873.4 802.0,872.9 803.3,872.3 C804.6,871.8 806.0,871.2 807.3,870.7 C808.6,870.2 810.0,869.7 811.3,869.2 C812.6,868.7 814.0,868.2 815.3,867.8 C816.6,867.3 818.0,866.9 819.3,866.5 C820.6,866.1 822.0,865.8 823.3,865.5 C824.6,865.1 826.0,864.8 827.3,864.6 C828.6,864.3 830.0,864.1 831.3,863.9 C832.6,863.8 834.0,863.6 835.3,863.6 C836.6,863.5 838.0,863.4 839.3,863.5 C840.6,863.5 842.0,863.5 843.3,863.7 C844.6,863.8 846.0,864.0 847.3,864.2 C848.6,864.4 850.0,864.7 851.3,865.1 C852.6,865.5 854.0,865.9 855.3,866.4 C856.6,866.9 858.0,867.4 859.3,868.0 C860.6,868.7 862.0,869.3 863.3,870.0 C864.6,870.8 866.0,871.5 867.3,872.3 C868.6,873.1 870.0,873.9 871.3,874.7 C872.6,875.5 874.0,876.3 875.3,877.1 C876.6,877.9 878.0,878.8 879.3,879.6 C880.6,880.4 882.0,881.2 883.3,881.9 C884.6,882.7 886.0,883.4 887.3,884.1 C888.6,884.7 890.0,885.4 891.3,886.0 C892.6,886.6 894.0,887.1 895.3,887.6 C896.6,888.1 898.0,888.5 899.3,889.0 C900.6,889.4 902.0,889.7 903.3,890.1 C904.6,890.4 906.0,890.7 907.3,891.0 C908.6,891.2 910.0,891.5 911.3,891.6 C912.6,891.8 914.0,892.0 915.3,892.1 C916.6,892.3 918.0,892.4 919.3,892.4 C920.6,892.5 922.0,892.6 923.3,892.6 C924.6,892.6 926.0,892.6 927.3,892.5 C928.6,892.5 930.0,892.4 931.3,892.3 C932.6,892.2 934.0,892.1 935.3,891.9 C936.6,891.8 938.0,891.6 939.3,891.4 C940.6,891.1 942.0,890.9 943.3,890.6 C944.6,890.3 946.0,889.9 947.3,889.5 C948.6,889.2 950.0,888.7 951.3,888.3 C952.6,887.8 954.0,887.3 955.3,886.8 C956.6,886.2 958.0,885.6 959.3,885.0 C960.6,884.4 962.0,883.7 963.3,883.0 C964.6,882.3 966.0,881.5 967.3,880.7 C968.6,879.9 970.0,879.0 971.3,878.1 C972.6,877.2 974.0,876.2 975.3,875.2 C976.6,874.1 978.0,873.1 979.3,871.9 C980.6,870.7 982.0,869.5 983.3,868.1 C984.6,866.7 986.0,865.3 987.3,863.6 C988.6,861.9 990.0,860.1 991.3,858.1 C992.6,856.1 994.0,854.0 995.3,851.5 C996.6,849.1 998.0,846.5 999.3,843.6 C1000.6,840.7 1002.0,837.6 1003.3,834.2 C1004.6,830.8 1006.0,827.1 1007.3,823.0 C1008.6,819.0 1010.0,814.7 1011.3,810.1 C1012.6,805.5 1014.0,800.6 1015.3,795.6 C1016.6,790.5 1018.0,785.2 1019.3,779.8 C1020.6,774.4 1022.0,768.8 1023.3,763.2 C1024.6,757.5 1026.0,751.7 1027.3,745.9 C1028.6,740.1 1030.0,734.2 1031.3,728.3 C1032.6,722.4 1034.0,716.5 1035.3,710.7 C1036.6,704.9 1038.0,699.0 1039.3,693.4 C1040.6,687.8 1042.0,682.2 1043.3,676.8 C1044.6,671.5 1046.0,666.3 1047.3,661.4 C1048.6,656.5 1050.0,651.8 1051.3,647.5 C1052.6,643.3 1054.0,639.2 1055.3,635.7 C1056.6,632.1 1058.0,628.9 1059.3,626.2 C1060.6,623.6 1062.0,621.3 1063.3,619.7 C1064.6,618.0 1066.0,616.9 1067.3,616.3 C1068.6,615.8 1070.0,615.9 1071.3,616.5 C1072.6,617.1 1074.0,618.3 1075.3,619.9 C1076.6,621.5 1078.0,623.6 1079.3,626.0 C1080.6,628.4 1082.0,631.3 1083.3,634.4 C1084.6,637.6 1086.0,641.1 1087.3,644.7 C1088.6,648.4 1090.0,652.4 1091.3,656.4 C1092.6,660.5 1094.0,664.8 1095.3,669.2 C1096.6,673.5 1098.0,678.0 1099.3,682.4 C1100.6,686.9 1102.0,691.4 1103.3,695.8 C1104.6,700.2 1106.0,704.7 1107.3,709.0 C1108.6,713.4 1110.0,717.7 1111.3,721.9 C1112.6,726.2 1114.0,730.4 1115.3,734.6 C1116.6,738.8 1118.0,742.9 1119.3,747.0 C1120.6,751.1 1122.0,755.1 1123.3,759.1 C1124.6,763.0 1126.0,767.0 1127.3,770.8 C1128.6,774.7 1130.0,778.5 1131.3,782.3 C1132.6,786.0 1134.0,789.7 1135.3,793.4 C1136.6,797.0 1138.4,801.8 1139.3,804.1 C1140.2,806.4 1140.3,806.7 1140.5,807.3" fill="none" stroke="#2358b5" stroke-width="3.4" stroke-linejoin="round" />
</g>
<rect x="743.50" y="529.00" width="397.00" height="385.30" fill="none" stroke="#111" stroke-width="1.3"/>
<line x1="741.10" y1="603.00" x2="1140.50" y2="603.00" stroke="#111" stroke-width="1.5" />
<line x1="743.50" y1="899.60" x2="759.50" y2="899.60" stroke="#111" stroke-width="1.4" />
<line x1="743.50" y1="840.28" x2="759.50" y2="840.28" stroke="#111" stroke-width="1.4" />
<line x1="743.50" y1="780.96" x2="759.50" y2="780.96" stroke="#111" stroke-width="1.4" />
<line x1="743.50" y1="721.64" x2="759.50" y2="721.64" stroke="#111" stroke-width="1.4" />
<line x1="743.50" y1="662.32" x2="759.50" y2="662.32" stroke="#111" stroke-width="1.4" />
<line x1="743.50" y1="544.10" x2="759.50" y2="544.10" stroke="#111" stroke-width="1.4" />
<line x1="813.90" y1="914.30" x2="813.90" y2="898.30" stroke="#111" stroke-width="1.4" />
<line x1="907.10" y1="914.30" x2="907.10" y2="898.30" stroke="#111" stroke-width="1.4" />
<line x1="1000.30" y1="914.30" x2="1000.30" y2="898.30" stroke="#111" stroke-width="1.4" />
<line x1="1093.50" y1="914.30" x2="1093.50" y2="898.30" stroke="#111" stroke-width="1.4" />
<line x1="767.30" y1="914.30" x2="767.30" y2="906.30" stroke="#111" stroke-width="1.4" />
<line x1="860.50" y1="914.30" x2="860.50" y2="906.30" stroke="#111" stroke-width="1.4" />
<line x1="953.70" y1="914.30" x2="953.70" y2="906.30" stroke="#111" stroke-width="1.4" />
<line x1="1046.90" y1="914.30" x2="1046.90" y2="906.30" stroke="#111" stroke-width="1.4" />
<line x1="765.00" y1="603.00" x2="765.00" y2="611.00" stroke="#111" stroke-width="1.4" />
<line x1="813.60" y1="603.00" x2="813.60" y2="619.00" stroke="#111" stroke-width="1.4" />
<line x1="861.20" y1="603.00" x2="861.20" y2="611.00" stroke="#111" stroke-width="1.4" />
<line x1="909.60" y1="603.00" x2="909.60" y2="619.00" stroke="#111" stroke-width="1.4" />
<line x1="957.40" y1="603.00" x2="957.40" y2="611.00" stroke="#111" stroke-width="1.4" />
<line x1="1005.60" y1="603.00" x2="1005.60" y2="619.00" stroke="#111" stroke-width="1.4" />
<line x1="1053.90" y1="603.00" x2="1053.90" y2="611.00" stroke="#111" stroke-width="1.4" />
<line x1="1102.00" y1="603.00" x2="1102.00" y2="619.00" stroke="#111" stroke-width="1.4" />
<line x1="777.00" y1="596.40" x2="793.70" y2="603.00" stroke="#e8691f" stroke-width="1.5" />
<line x1="792.70" y1="596.40" x2="808.20" y2="603.00" stroke="#e6cb17" stroke-width="1.5" />
<line x1="841.80" y1="603.00" x2="859.10" y2="595.20" stroke="#111" stroke-width="1.5" />
<line x1="1063.90" y1="593.30" x2="1063.90" y2="603.00" stroke="#2358b5" stroke-width="1.5" />
<filter id="meta3" x="-20%" y="-30%" width="140%" height="160%"><feGaussianBlur stdDeviation="5.5"/><feComponentTransfer><feFuncA type="linear" slope="8" intercept="-3.5"/></feComponentTransfer></filter>
<mask id="mol3" maskUnits="userSpaceOnUse" x="734.5" y="539.7" width="105.1" height="72.0"><g filter="url(#meta3)" fill="#fff"><circle cx="770.5" cy="575.7" r="21.0"/><circle cx="805.0" cy="575.7" r="19.6"/></g></mask>
<g mask="url(#mol3)"><rect x="737.5" y="542.7" width="99.1" height="66.0" fill="#5d9193"/>
<g filter="url(#blur4)"><circle cx="770.5" cy="574.2" r="16.0" fill="#83d7d9"/><circle cx="805.0" cy="574.2" r="14.600000000000001" fill="#83d7d9"/><rect x="770.5" y="559.3000000000001" width="34.5" height="27.200000000000003" fill="#83d7d9"/></g></g>
<line x1="770.1" y1="575.7" x2="786.3" y2="575.7" stroke="#8fb4b4" stroke-width="2.0"/>
<line x1="786.3" y1="575.7" x2="802.5" y2="575.7" stroke="#b09a9a" stroke-width="2.0"/>
<circle cx="770.1" cy="575.7" r="6.8" fill="url(#atomT)"/>
<circle cx="802.5" cy="575.7" r="6.6" fill="url(#atomB)"/>
<circle cx="771.9" cy="573.1" r="1.9040000000000001" fill="#a9d6d6" opacity="0.8" filter="url(#blur1)"/>
<circle cx="804.1" cy="573.1" r="1.848" fill="#d6c4c4" opacity="0.8" filter="url(#blur1)"/>
<filter id="meta4" x="-20%" y="-30%" width="140%" height="160%"><feGaussianBlur stdDeviation="6"/><feComponentTransfer><feFuncA type="linear" slope="8" intercept="-3.5"/></feComponentTransfer></filter>
<mask id="mol4" maskUnits="userSpaceOnUse" x="836.4" y="540.2" width="99.60000000000007" height="70.8"><g filter="url(#meta4)" fill="#fff"><circle cx="871.8" cy="575.6" r="20.4"/><circle cx="900.6" cy="575.6" r="20.4"/></g></mask>
<g mask="url(#mol4)"><rect x="839.4" y="543.2" width="93.60000000000007" height="64.8" fill="#5d9193"/>
<g filter="url(#blur4)"><circle cx="871.8" cy="574.1" r="15.399999999999999" fill="#83d7d9"/><circle cx="900.6" cy="574.1" r="15.399999999999999" fill="#83d7d9"/><rect x="871.8" y="558.4000000000001" width="28.800000000000068" height="28.799999999999997" fill="#83d7d9"/></g></g>
<line x1="873.7" y1="575.6" x2="886.9000000000001" y2="575.6" stroke="#8fb4b4" stroke-width="2.0"/>
<line x1="886.9000000000001" y1="575.6" x2="900.1" y2="575.6" stroke="#b09a9a" stroke-width="2.0"/>
<circle cx="873.7" cy="575.6" r="6.6" fill="url(#atomT)"/>
<circle cx="900.1" cy="575.6" r="6.2" fill="url(#atomB)"/>
<circle cx="875.5" cy="573.0" r="1.848" fill="#a9d6d6" opacity="0.8" filter="url(#blur1)"/>
<circle cx="901.7" cy="573.0" r="1.7360000000000002" fill="#d6c4c4" opacity="0.8" filter="url(#blur1)"/>
<clipPath id="mol5"><ellipse cx="1017.8" cy="575.5" rx="18.3" ry="18.3"/></clipPath>
<ellipse cx="1017.8" cy="575.5" rx="18.3" ry="18.3" fill="#5d9193"/>
<g clip-path="url(#mol5)"><g filter="url(#blur4)"><ellipse cx="1017.8" cy="574.0" rx="13.3" ry="13.3" fill="#83d7d9"/></g></g>
<circle cx="1017.8" cy="575.5" r="6.5" fill="url(#atomT)"/>
<clipPath id="mol6"><ellipse cx="1110.1" cy="575.5" rx="21.3" ry="18.6"/></clipPath>
<ellipse cx="1110.1" cy="575.5" rx="21.3" ry="18.6" fill="#5d9193"/>
<g clip-path="url(#mol6)"><g filter="url(#blur4)"><ellipse cx="1110.1" cy="574.0" rx="16.3" ry="13.600000000000001" fill="#83d7d9"/></g></g>
<circle cx="1110.1" cy="575.5" r="6.0" fill="url(#atomB)"/>
<g clip-path="url(#cf)">
<line x1="1326.50" y1="824.90" x2="1326.50" y2="845.90" stroke="#db3248" stroke-width="1.3" />
<line x1="1367.80" y1="766.00" x2="1367.80" y2="808.00" stroke="#db3248" stroke-width="1.3" />
<line x1="1409.00" y1="763.00" x2="1409.00" y2="794.00" stroke="#db3248" stroke-width="1.3" />
<line x1="1450.60" y1="694.40" x2="1450.60" y2="726.70" stroke="#db3248" stroke-width="1.3" />
<line x1="1492.10" y1="656.50" x2="1492.10" y2="695.80" stroke="#db3248" stroke-width="1.3" />
<line x1="1656.80" y1="568.30" x2="1656.80" y2="620.20" stroke="#db3248" stroke-width="1.3" />
<line x1="1326.50" y1="815.00" x2="1326.50" y2="844.50" stroke="#1873a8" stroke-width="1.3" />
<line x1="1367.80" y1="747.70" x2="1367.80" y2="777.20" stroke="#1873a8" stroke-width="1.3" />
<line x1="1409.00" y1="836.10" x2="1409.00" y2="867.00" stroke="#1873a8" stroke-width="1.3" />
<line x1="1450.60" y1="823.50" x2="1450.60" y2="848.70" stroke="#1873a8" stroke-width="1.3" />
<line x1="1492.10" y1="771.60" x2="1492.10" y2="803.80" stroke="#1873a8" stroke-width="1.3" />
<line x1="1656.80" y1="795.70" x2="1656.80" y2="830.50" stroke="#1873a8" stroke-width="1.3" />
<polyline points="1285.0,895.0 1326.5,834.7 1367.8,789.8 1400.0,781.0 1409.0,777.7 1450.6,711.2 1492.1,674.7 1656.8,594.0" fill="none" stroke="#db3248" stroke-width="3.0" stroke-linejoin="round" stroke-linecap="butt" stroke-dasharray="6.5 4.5"/>
<polyline points="1285.0,895.0 1326.5,829.1 1367.8,765.9 1409.0,851.5 1450.6,835.5 1492.1,788.4 1656.8,813.3" fill="none" stroke="#1873a8" stroke-width="3.0" stroke-linejoin="round" stroke-linecap="butt" stroke-dasharray="6.5 4.5"/>
<path d="M1285.0,897.3 C1289.7,897.2 1305.6,897.0 1313.1,896.6 C1320.6,896.2 1324.3,896.0 1329.9,894.6 C1335.5,893.2 1341.6,890.7 1346.7,888.0 C1351.8,885.3 1356.6,882.2 1360.8,878.2 C1365.0,874.2 1368.3,870.3 1372.0,864.2 C1375.7,858.1 1379.9,849.7 1383.2,841.7 C1386.5,833.8 1388.9,825.4 1391.7,816.5 C1394.5,807.6 1397.3,797.8 1400.1,788.4 C1402.9,779.0 1405.2,769.6 1408.5,760.3 C1411.8,750.9 1415.5,741.2 1419.7,732.3 C1423.9,723.4 1428.7,714.2 1433.8,707.0 C1438.9,699.8 1445.0,693.9 1450.6,688.8 C1456.2,683.6 1461.8,679.4 1467.4,676.1 C1473.0,672.8 1478.9,671.1 1484.3,669.1 C1489.7,667.1 1491.1,666.3 1500.0,664.3 C1508.9,662.3 1520.8,658.6 1537.5,657.0 C1554.2,655.4 1580.1,655.1 1600.0,654.6 C1619.9,654.1 1647.3,654.1 1656.8,654.0" fill="none" stroke="#db3248" stroke-width="3.2" stroke-linejoin="round" />
<path d="M1285.0,897.3 C1286.9,897.1 1292.9,897.0 1296.2,896.4 C1299.5,895.8 1301.8,896.2 1304.6,893.6 C1307.4,891.0 1310.3,886.8 1313.1,881.0 C1315.9,875.2 1318.7,866.6 1321.5,858.6 C1324.3,850.6 1327.1,842.7 1329.9,833.3 C1332.7,823.9 1335.5,811.8 1338.3,802.4 C1341.1,793.0 1343.9,784.0 1346.7,777.2 C1349.5,770.4 1351.9,765.5 1355.2,761.7 C1358.5,758.0 1362.7,754.9 1366.4,754.7 C1370.1,754.5 1373.9,756.5 1377.6,760.3 C1381.3,764.0 1385.0,770.7 1388.8,777.2 C1392.5,783.8 1396.3,793.1 1400.1,799.6 C1403.8,806.1 1407.1,810.9 1411.3,816.5 C1415.5,822.1 1420.1,828.6 1425.3,833.3 C1430.5,838.0 1436.6,841.5 1442.2,844.5 C1447.8,847.5 1452.5,849.2 1459.0,851.5 C1465.5,853.8 1474.7,856.4 1481.5,858.0 C1488.3,859.6 1491.9,859.9 1500.0,861.0 C1508.1,862.1 1517.7,863.4 1530.0,864.5 C1542.3,865.6 1560.7,867.3 1574.0,867.8 C1587.3,868.3 1596.2,867.9 1610.0,867.6 C1623.8,867.4 1649.0,866.5 1656.8,866.3" fill="none" stroke="#1873a8" stroke-width="3.2" stroke-linejoin="round" />
</g>
<rect x="1285.00" y="529.80" width="397.00" height="383.60" fill="none" stroke="#111" stroke-width="1.3"/>
<line x1="1285.00" y1="896.30" x2="1300.00" y2="896.30" stroke="#111" stroke-width="1.4" />
<line x1="1285.00" y1="828.02" x2="1300.00" y2="828.02" stroke="#111" stroke-width="1.4" />
<line x1="1285.00" y1="759.74" x2="1300.00" y2="759.74" stroke="#111" stroke-width="1.4" />
<line x1="1285.00" y1="691.46" x2="1300.00" y2="691.46" stroke="#111" stroke-width="1.4" />
<line x1="1285.00" y1="623.18" x2="1300.00" y2="623.18" stroke="#111" stroke-width="1.4" />
<line x1="1285.00" y1="554.90" x2="1300.00" y2="554.90" stroke="#111" stroke-width="1.4" />
<line x1="1326.30" y1="913.40" x2="1326.30" y2="898.40" stroke="#111" stroke-width="1.4" />
<line x1="1409.00" y1="913.40" x2="1409.00" y2="898.40" stroke="#111" stroke-width="1.4" />
<line x1="1491.70" y1="913.40" x2="1491.70" y2="898.40" stroke="#111" stroke-width="1.4" />
<line x1="1574.40" y1="913.40" x2="1574.40" y2="898.40" stroke="#111" stroke-width="1.4" />
<line x1="1657.10" y1="913.40" x2="1657.10" y2="898.40" stroke="#111" stroke-width="1.4" />
<text x="164.40" y="32.61" font-size="49" fill="#000" font-weight="bold" font-style="normal" textLength="24.64" lengthAdjust="spacingAndGlyphs">a</text>
<text x="743.28" y="32.21" font-size="49" fill="#000" font-weight="bold" font-style="normal" textLength="27.56" lengthAdjust="spacingAndGlyphs">b</text>
<text x="1283.55" y="32.41" font-size="49" fill="#000" font-weight="bold" font-style="normal" textLength="23.40" lengthAdjust="spacingAndGlyphs">c</text>
<text x="164.03" y="519.71" font-size="49" fill="#000" font-weight="bold" font-style="normal" textLength="27.42" lengthAdjust="spacingAndGlyphs">d</text>
<text x="741.60" y="519.31" font-size="49" fill="#000" font-weight="bold" font-style="normal" textLength="24.14" lengthAdjust="spacingAndGlyphs">e</text>
<text x="1284.38" y="520.10" font-size="49" fill="#000" font-weight="bold" font-style="normal" textLength="27.63" lengthAdjust="spacingAndGlyphs">f</text>
<text x="67.23" y="88.40" font-size="44.5" fill="#1a1a1a" font-weight="normal" font-style="normal" textLength="77.32" lengthAdjust="spacingAndGlyphs">1.00</text>
<text x="67.24" y="161.80" font-size="44.5" fill="#1a1a1a" font-weight="normal" font-style="normal" textLength="77.43" lengthAdjust="spacingAndGlyphs">0.75</text>
<text x="67.24" y="235.20" font-size="44.5" fill="#1a1a1a" font-weight="normal" font-style="normal" textLength="77.31" lengthAdjust="spacingAndGlyphs">0.50</text>
<text x="67.24" y="308.60" font-size="44.5" fill="#1a1a1a" font-weight="normal" font-style="normal" textLength="77.43" lengthAdjust="spacingAndGlyphs">0.25</text>
<text x="67.24" y="382.00" font-size="44.5" fill="#1a1a1a" font-weight="normal" font-style="normal" textLength="77.31" lengthAdjust="spacingAndGlyphs">0.00</text>
<text x="67.23" y="557.40" font-size="44.5" fill="#1a1a1a" font-weight="normal" font-style="normal" textLength="77.32" lengthAdjust="spacingAndGlyphs">1.00</text>
<text x="67.24" y="640.00" font-size="44.5" fill="#1a1a1a" font-weight="normal" font-style="normal" textLength="77.43" lengthAdjust="spacingAndGlyphs">0.75</text>
<text x="67.24" y="722.60" font-size="44.5" fill="#1a1a1a" font-weight="normal" font-style="normal" textLength="77.31" lengthAdjust="spacingAndGlyphs">0.50</text>
<text x="67.24" y="805.20" font-size="44.5" fill="#1a1a1a" font-weight="normal" font-style="normal" textLength="77.43" lengthAdjust="spacingAndGlyphs">0.25</text>
<text x="67.24" y="887.80" font-size="44.5" fill="#1a1a1a" font-weight="normal" font-style="normal" textLength="77.31" lengthAdjust="spacingAndGlyphs">0.00</text>
<text x="667.05" y="67.50" font-size="44.5" fill="#1a1a1a" font-weight="normal" font-style="normal" textLength="56.43" lengthAdjust="spacingAndGlyphs">1.2</text>
<text x="667.11" y="127.00" font-size="44.5" fill="#1a1a1a" font-weight="normal" font-style="normal" textLength="55.56" lengthAdjust="spacingAndGlyphs">1.0</text>
<text x="667.13" y="186.28" font-size="44.5" fill="#1a1a1a" font-weight="normal" font-style="normal" textLength="55.53" lengthAdjust="spacingAndGlyphs">0.8</text>
<text x="667.14" y="245.56" font-size="44.5" fill="#1a1a1a" font-weight="normal" font-style="normal" textLength="55.18" lengthAdjust="spacingAndGlyphs">0.6</text>
<text x="667.17" y="304.84" font-size="44.5" fill="#1a1a1a" font-weight="normal" font-style="normal" textLength="54.49" lengthAdjust="spacingAndGlyphs">0.4</text>
<text x="667.11" y="364.12" font-size="44.5" fill="#1a1a1a" font-weight="normal" font-style="normal" textLength="56.37" lengthAdjust="spacingAndGlyphs">0.2</text>
<text x="667.13" y="423.40" font-size="44.5" fill="#1a1a1a" font-weight="normal" font-style="normal" textLength="55.53" lengthAdjust="spacingAndGlyphs">0.0</text>
<text x="667.05" y="555.30" font-size="44.5" fill="#1a1a1a" font-weight="normal" font-style="normal" textLength="56.43" lengthAdjust="spacingAndGlyphs">1.2</text>
<text x="667.11" y="614.20" font-size="44.5" fill="#1a1a1a" font-weight="normal" font-style="normal" textLength="55.56" lengthAdjust="spacingAndGlyphs">1.0</text>
<text x="667.13" y="673.52" font-size="44.5" fill="#1a1a1a" font-weight="normal" font-style="normal" textLength="55.53" lengthAdjust="spacingAndGlyphs">0.8</text>
<text x="667.14" y="732.84" font-size="44.5" fill="#1a1a1a" font-weight="normal" font-style="normal" textLength="55.18" lengthAdjust="spacingAndGlyphs">0.6</text>
<text x="667.17" y="792.16" font-size="44.5" fill="#1a1a1a" font-weight="normal" font-style="normal" textLength="54.49" lengthAdjust="spacingAndGlyphs">0.4</text>
<text x="667.11" y="851.48" font-size="44.5" fill="#1a1a1a" font-weight="normal" font-style="normal" textLength="56.37" lengthAdjust="spacingAndGlyphs">0.2</text>
<text x="667.13" y="910.80" font-size="44.5" fill="#1a1a1a" font-weight="normal" font-style="normal" textLength="55.53" lengthAdjust="spacingAndGlyphs">0.0</text>
<text x="1209.01" y="76.80" font-size="44.5" fill="#1a1a1a" font-weight="normal" font-style="normal" textLength="55.56" lengthAdjust="spacingAndGlyphs">1.0</text>
<text x="1209.03" y="157.05" font-size="44.5" fill="#1a1a1a" font-weight="normal" font-style="normal" textLength="55.53" lengthAdjust="spacingAndGlyphs">0.8</text>
<text x="1209.03" y="237.30" font-size="44.5" fill="#1a1a1a" font-weight="normal" font-style="normal" textLength="55.65" lengthAdjust="spacingAndGlyphs">0.5</text>
<text x="1209.01" y="317.55" font-size="44.5" fill="#1a1a1a" font-weight="normal" font-style="normal" textLength="56.37" lengthAdjust="spacingAndGlyphs">0.2</text>
<text x="1209.03" y="397.80" font-size="44.5" fill="#1a1a1a" font-weight="normal" font-style="normal" textLength="55.53" lengthAdjust="spacingAndGlyphs">0.0</text>
<text x="1208.61" y="566.10" font-size="44.5" fill="#1a1a1a" font-weight="normal" font-style="normal" textLength="55.56" lengthAdjust="spacingAndGlyphs">1.0</text>
<text x="1208.63" y="634.38" font-size="44.5" fill="#1a1a1a" font-weight="normal" font-style="normal" textLength="55.53" lengthAdjust="spacingAndGlyphs">0.8</text>
<text x="1208.64" y="702.66" font-size="44.5" fill="#1a1a1a" font-weight="normal" font-style="normal" textLength="55.18" lengthAdjust="spacingAndGlyphs">0.6</text>
<text x="1208.67" y="770.94" font-size="44.5" fill="#1a1a1a" font-weight="normal" font-style="normal" textLength="54.49" lengthAdjust="spacingAndGlyphs">0.4</text>
<text x="1208.61" y="839.22" font-size="44.5" fill="#1a1a1a" font-weight="normal" font-style="normal" textLength="56.37" lengthAdjust="spacingAndGlyphs">0.2</text>
<text x="1208.63" y="907.50" font-size="44.5" fill="#1a1a1a" font-weight="normal" font-style="normal" textLength="55.53" lengthAdjust="spacingAndGlyphs">0.0</text>
<text x="202.69" y="473.80" font-size="44.5" fill="#1a1a1a" font-weight="normal" font-style="normal" textLength="65.81" lengthAdjust="spacingAndGlyphs">298</text>
<text x="295.86" y="473.80" font-size="44.5" fill="#1a1a1a" font-weight="normal" font-style="normal" textLength="66.04" lengthAdjust="spacingAndGlyphs">300</text>
<text x="389.23" y="473.80" font-size="44.5" fill="#1a1a1a" font-weight="normal" font-style="normal" textLength="66.87" lengthAdjust="spacingAndGlyphs">302</text>
<text x="482.69" y="473.80" font-size="44.5" fill="#1a1a1a" font-weight="normal" font-style="normal" textLength="65.01" lengthAdjust="spacingAndGlyphs">304</text>
<text x="780.69" y="473.80" font-size="44.5" fill="#1a1a1a" font-weight="normal" font-style="normal" textLength="65.81" lengthAdjust="spacingAndGlyphs">298</text>
<text x="873.76" y="473.80" font-size="44.5" fill="#1a1a1a" font-weight="normal" font-style="normal" textLength="66.04" lengthAdjust="spacingAndGlyphs">300</text>
<text x="967.03" y="473.80" font-size="44.5" fill="#1a1a1a" font-weight="normal" font-style="normal" textLength="66.87" lengthAdjust="spacingAndGlyphs">302</text>
<text x="1060.39" y="473.80" font-size="44.5" fill="#1a1a1a" font-weight="normal" font-style="normal" textLength="65.01" lengthAdjust="spacingAndGlyphs">304</text>
<text x="1322.51" y="473.80" font-size="44.5" fill="#1a1a1a" font-weight="normal" font-style="normal" textLength="22.59" lengthAdjust="spacingAndGlyphs">0</text>
<text x="1392.14" y="473.80" font-size="44.5" fill="#1a1a1a" font-weight="normal" font-style="normal" textLength="46.40" lengthAdjust="spacingAndGlyphs">10</text>
<text x="1477.02" y="473.80" font-size="44.5" fill="#1a1a1a" font-weight="normal" font-style="normal" textLength="44.13" lengthAdjust="spacingAndGlyphs">20</text>
<text x="1559.49" y="473.80" font-size="44.5" fill="#1a1a1a" font-weight="normal" font-style="normal" textLength="44.37" lengthAdjust="spacingAndGlyphs">30</text>
<text x="1643.44" y="473.80" font-size="44.5" fill="#1a1a1a" font-weight="normal" font-style="normal" textLength="43.08" lengthAdjust="spacingAndGlyphs">40</text>
<text x="189.56" y="961.00" font-size="44.5" fill="#1a1a1a" font-weight="normal" font-style="normal" textLength="66.04" lengthAdjust="spacingAndGlyphs">310</text>
<text x="282.55" y="961.00" font-size="44.5" fill="#1a1a1a" font-weight="normal" font-style="normal" textLength="66.16" lengthAdjust="spacingAndGlyphs">313</text>
<text x="375.57" y="961.00" font-size="44.5" fill="#1a1a1a" font-weight="normal" font-style="normal" textLength="65.69" lengthAdjust="spacingAndGlyphs">316</text>
<text x="468.55" y="961.00" font-size="44.5" fill="#1a1a1a" font-weight="normal" font-style="normal" textLength="66.16" lengthAdjust="spacingAndGlyphs">319</text>
<text x="780.65" y="961.00" font-size="44.5" fill="#1a1a1a" font-weight="normal" font-style="normal" textLength="66.16" lengthAdjust="spacingAndGlyphs">309</text>
<text x="873.85" y="961.00" font-size="44.5" fill="#1a1a1a" font-weight="normal" font-style="normal" textLength="66.16" lengthAdjust="spacingAndGlyphs">313</text>
<text x="967.07" y="961.00" font-size="44.5" fill="#1a1a1a" font-weight="normal" font-style="normal" textLength="65.58" lengthAdjust="spacingAndGlyphs">317</text>
<text x="1060.22" y="961.00" font-size="44.5" fill="#1a1a1a" font-weight="normal" font-style="normal" textLength="67.11" lengthAdjust="spacingAndGlyphs">321</text>
<text x="1322.51" y="961.00" font-size="44.5" fill="#1a1a1a" font-weight="normal" font-style="normal" textLength="22.59" lengthAdjust="spacingAndGlyphs">0</text>
<text x="1392.14" y="961.00" font-size="44.5" fill="#1a1a1a" font-weight="normal" font-style="normal" textLength="46.40" lengthAdjust="spacingAndGlyphs">10</text>
<text x="1477.02" y="961.00" font-size="44.5" fill="#1a1a1a" font-weight="normal" font-style="normal" textLength="44.13" lengthAdjust="spacingAndGlyphs">20</text>
<text x="1559.49" y="961.00" font-size="44.5" fill="#1a1a1a" font-weight="normal" font-style="normal" textLength="44.37" lengthAdjust="spacingAndGlyphs">30</text>
<text x="1643.44" y="961.00" font-size="44.5" fill="#1a1a1a" font-weight="normal" font-style="normal" textLength="43.08" lengthAdjust="spacingAndGlyphs">40</text>
<text x="178.06" y="1022.20" font-size="46" fill="#1a1a1a" font-weight="normal" font-style="normal" textLength="371.60" lengthAdjust="spacingAndGlyphs">Binding energy [eV]</text>
<text x="756.06" y="1022.20" font-size="46" fill="#1a1a1a" font-weight="normal" font-style="normal" textLength="372.21" lengthAdjust="spacingAndGlyphs">Binding energy [eV]</text>
<text x="1423.33" y="1017.30" font-size="46" fill="#1a1a1a" font-weight="normal" font-style="normal" textLength="120.45" lengthAdjust="spacingAndGlyphs">Δ<tspan font-style="italic">t</tspan> [fs]</text>
<text transform="translate(32.60,394.61) rotate(-90)" x="0" y="0" font-size="46" fill="#1a1a1a" textLength="319.78" lengthAdjust="spacingAndGlyphs">ΔAmpl. [arb. u.]</text>
<text transform="translate(32.60,881.91) rotate(-90)" x="0" y="0" font-size="46" fill="#1a1a1a" textLength="319.78" lengthAdjust="spacingAndGlyphs">ΔAmpl. [arb. u.]</text>
<text transform="translate(636.30,375.68) rotate(-90)" x="0" y="0" font-size="46" fill="#1a1a1a" textLength="283.66" lengthAdjust="spacingAndGlyphs">Ampl. [arb. u.]</text>
<text transform="translate(636.30,862.98) rotate(-90)" x="0" y="0" font-size="46" fill="#1a1a1a" textLength="283.66" lengthAdjust="spacingAndGlyphs">Ampl. [arb. u.]</text>
<text transform="translate(1718.50,107.88) rotate(90)" x="0" y="0" font-size="46" fill="#1a1a1a" textLength="235.25" lengthAdjust="spacingAndGlyphs">Core-excited</text>
<text transform="translate(1719.00,657.75) rotate(90)" x="0" y="0" font-size="46" fill="#1a1a1a" textLength="111.95" lengthAdjust="spacingAndGlyphs">Auger</text>
<text x="774.96" y="549.00" font-size="27" fill="#1a1a1a" font-weight="normal" font-style="normal" textLength="18.00" lengthAdjust="spacingAndGlyphs">Φ</text>
<text x="873.26" y="549.60" font-size="27" fill="#1a1a1a" font-weight="normal" font-style="normal" textLength="19.33" lengthAdjust="spacingAndGlyphs">Π</text>
<text x="892.24" y="553.80" font-size="18.5" fill="#1a1a1a" font-weight="normal" font-style="normal" textLength="10.07" lengthAdjust="spacingAndGlyphs">1</text>
<text x="1061.27" y="549.00" font-size="27" fill="#1a1a1a" font-weight="normal" font-style="normal" textLength="17.67" lengthAdjust="spacingAndGlyphs">Φ</text>
</svg></body></html>
